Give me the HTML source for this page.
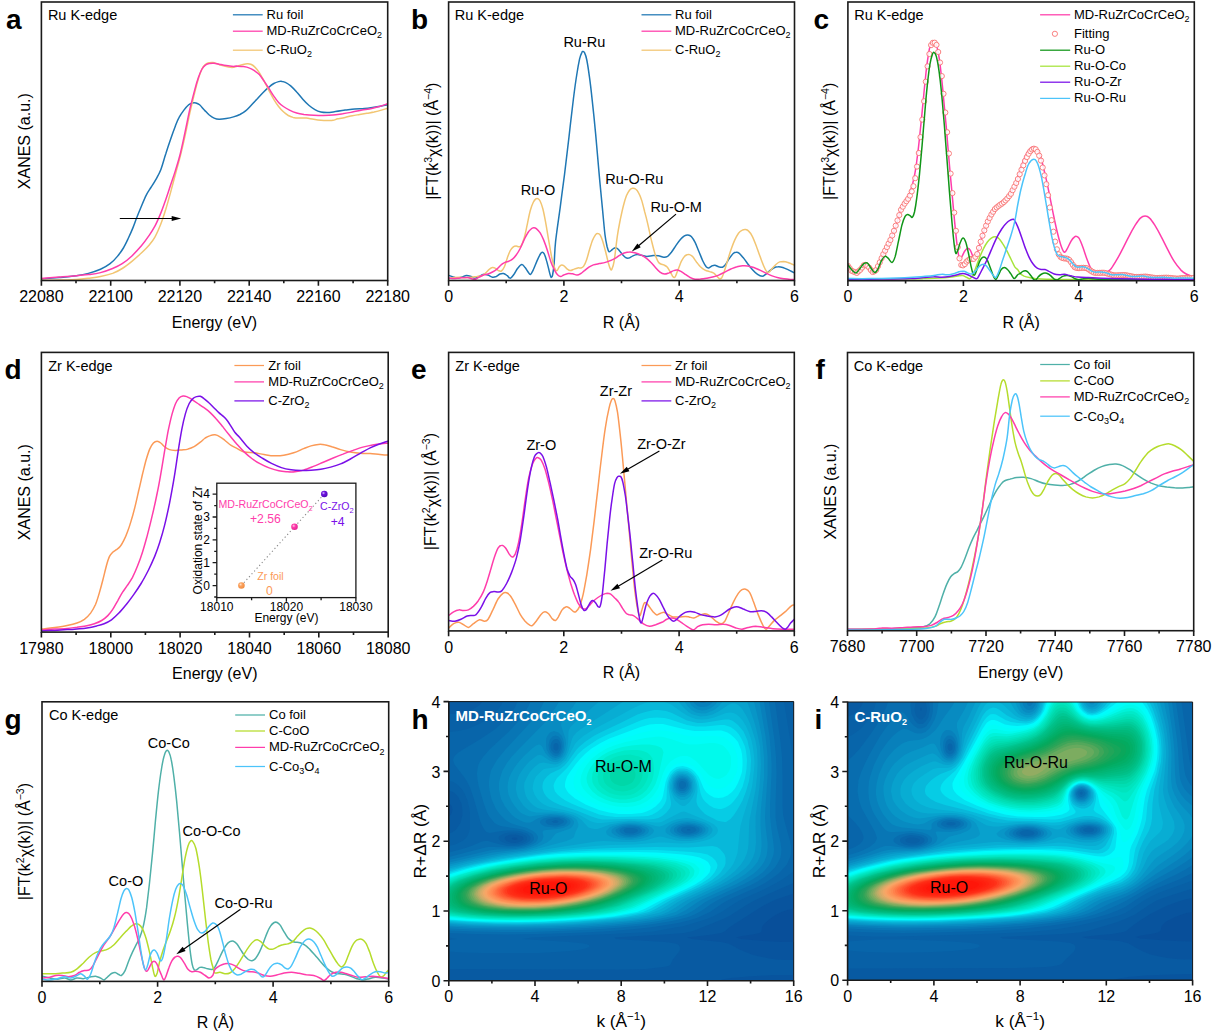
<!DOCTYPE html>
<html><head><meta charset="utf-8"><title>XAS figure</title><style>html,body{margin:0;padding:0;background:#fff;font-family:"Liberation Sans",sans-serif}svg text{font-family:"Liberation Sans",sans-serif}</style></head><body><svg width="1213" height="1034" viewBox="0 0 1213 1034" font-family="'Liberation Sans', sans-serif" style="display:block"><defs><clipPath id="cpa"><rect x="41.4" y="2.0" width="346.3" height="278.5"/></clipPath><clipPath id="cpb"><rect x="448.6" y="2.0" width="345.9" height="278.5"/></clipPath><clipPath id="cpc"><rect x="847.9" y="2.0" width="346.4" height="278.7"/></clipPath><clipPath id="cpd"><rect x="41.4" y="352.4" width="346.8" height="279.7"/></clipPath><clipPath id="cpe"><rect x="448.6" y="352.4" width="345.7" height="278.5"/></clipPath><clipPath id="cpf"><rect x="847.5" y="352.5" width="346.2" height="278.2"/></clipPath><clipPath id="cpg"><rect x="42.0" y="701.8" width="346.7" height="279.6"/></clipPath><radialGradient id="bo" cx=".38" cy=".35" r=".7"><stop offset="0" stop-color="#ffe3c8"/><stop offset=".35" stop-color="#fba25f"/><stop offset="1" stop-color="#f08a3c"/></radialGradient><radialGradient id="bp" cx=".38" cy=".35" r=".7"><stop offset="0" stop-color="#ffd0ec"/><stop offset=".35" stop-color="#ff3dab"/><stop offset="1" stop-color="#e01f90"/></radialGradient><radialGradient id="bv" cx=".38" cy=".35" r=".7"><stop offset="0" stop-color="#d9c0ff"/><stop offset=".35" stop-color="#6f14e0"/><stop offset="1" stop-color="#4a08b0"/></radialGradient></defs><rect width="1213" height="1034" fill="#fff"/><path clip-path="url(#cpa)" d="M41.2,278.9C44.2,278.7 53.5,278 59.3,277.5C65.2,277 71.4,276.5 76.3,275.8C81.1,275.1 84.3,274.5 88.4,273.4C92.4,272.3 96.8,270.9 100.5,269.3C104.1,267.7 107.3,265.8 110.1,263.7C113,261.6 115.2,259.1 117.4,256.4C119.6,253.8 121.6,251 123.4,248C125.2,245 126.7,241.7 128.3,238.3C129.9,234.9 131.7,230.9 133.1,227.4C134.5,224 135.3,221.4 136.7,217.8C138.1,214.1 140,209.5 141.6,205.7C143.2,201.8 144.8,197.9 146.4,194.8C148,191.7 149.6,189.7 151.2,187C152.9,184.4 154.5,182 156.1,179.1C157.7,176.1 159.3,173.6 160.9,169.4C162.5,165.2 164.1,158.7 165.8,153.7C167.4,148.6 169,143.8 170.6,139.2C172.2,134.5 174,129.5 175.4,125.9C176.8,122.2 177.6,120 179.1,117.4C180.5,114.8 182.3,112.2 183.9,110.1C185.5,108 187.3,106 188.7,104.8C190.1,103.6 191.1,103.2 192.4,102.9C193.6,102.6 194.8,102.6 196,102.9C197.2,103.2 198.2,103.6 199.6,104.8C201,106 202.8,108.4 204.4,110.1C206.1,111.8 207.7,113.6 209.3,115C210.9,116.3 212.5,117.4 214.1,118.1C215.7,118.8 216.9,119.2 219,119.3C221,119.4 223.8,119 226.2,118.6C228.6,118.2 231.2,117.6 233.5,116.9C235.8,116.2 237.8,115.5 239.9,114.5C242,113.4 244.1,112.1 245.9,110.6C247.8,109.2 249,107.7 250.8,105.8C252.6,103.9 254.8,101.4 256.8,99.3C258.8,97.1 260.9,94.7 262.9,92.7C264.9,90.7 267.1,88.7 268.9,87.2C270.7,85.6 272.1,84.5 273.8,83.5C275.4,82.6 277.2,82 278.6,81.6C280,81.2 281,81.2 282.2,81.4C283.4,81.5 284.4,81.8 285.9,82.6C287.3,83.3 288.9,84.4 290.7,85.9C292.5,87.5 294.7,89.8 296.7,92C298.8,94.2 300.8,97 302.8,99.3C304.8,101.5 306.8,103.6 308.8,105.3C310.8,107 312.9,108.5 314.9,109.6C316.9,110.8 318.9,111.6 320.9,112.1C322.9,112.6 324.5,112.6 327,112.6C329.4,112.5 332.4,112 335.4,111.6C338.5,111.2 341.9,110.6 345.1,110.1C348.3,109.7 351.6,109.2 354.8,108.9C358,108.6 361.2,108.7 364.4,108.4C367.7,108.2 371.3,107.6 374.1,107.2C376.9,106.8 379.1,106.4 381.4,106C383.6,105.6 386.6,105 387.7,104.8" fill="none" stroke="#1f77b4" stroke-width="1.5" stroke-linejoin="round" stroke-linecap="round"/>
<path clip-path="url(#cpa)" d="M41.2,280.1C44.2,280.1 53.5,280.3 59.3,280.1C65.2,280 71.4,279.7 76.3,279.4C81.1,279.1 84.3,278.7 88.4,278.2C92.4,277.7 96.4,277.3 100.5,276.5C104.5,275.7 108.9,274.7 112.6,273.4C116.2,272 119,270.6 122.2,268.5C125.4,266.5 128.7,263.9 131.9,261.3C135.1,258.7 138.8,255.4 141.6,252.8C144.4,250.2 146.6,248.2 148.8,245.6C151,242.9 152.9,240.7 154.9,237.1C156.9,233.5 159.1,228.4 160.9,223.8C162.7,219.2 164.1,214.5 165.8,209.3C167.4,204 169,198.2 170.6,192.4C172.2,186.5 173.8,180.3 175.4,174.2C177,168.2 178.7,162.5 180.3,156.1C181.9,149.6 183.5,142.8 185.1,135.5C186.7,128.3 188.3,119.8 189.9,112.6C191.6,105.3 193.4,97.6 194.8,92C196.2,86.4 197.2,82.5 198.4,78.7C199.6,74.9 200.8,71.4 202,69C203.2,66.6 204.4,65.2 205.7,64.2C206.9,63.1 208.1,63 209.3,62.7C210.5,62.5 211.7,62.4 212.9,62.5C214.1,62.6 215.1,63 216.5,63.5C218,63.9 219.4,64.8 221.4,65.4C223.4,66 226.6,66.8 228.6,67.1C230.6,67.4 232,67.5 233.5,67.3C234.9,67.2 236,66.6 237.5,66.1C239,65.7 240.7,65.1 242.3,64.7C243.9,64.3 245.7,63.8 247.2,63.7C248.6,63.6 249.6,63.7 250.8,64.2C252,64.7 253,65.2 254.4,66.6C255.8,68 257.6,70.2 259.3,72.6C260.9,75.1 262.5,78.2 264.1,81.1C265.7,84.1 267.3,87.3 268.9,90.3C270.5,93.3 272.1,96.5 273.8,99.3C275.4,102 277,104.4 278.6,106.5C280.2,108.6 281.8,110.3 283.4,111.8C285,113.3 286.7,114.5 288.3,115.5C289.9,116.4 291.3,116.9 293.1,117.4C294.9,117.8 296.9,118 299.2,118.1C301.4,118.2 304,117.9 306.4,118.1C308.8,118.3 311.2,119 313.7,119.3C316.1,119.7 318.5,120.1 320.9,120.3C323.3,120.5 326.2,120.5 328.2,120.5C330.2,120.5 331.4,120.6 333,120.3C334.6,120 335.8,119.3 337.8,118.8C339.9,118.4 342.7,117.9 345.1,117.4C347.5,116.9 349.9,116.2 352.4,115.7C354.8,115.2 357.2,114.9 359.6,114.5C362,114.1 364.4,113.7 366.9,113.3C369.3,112.9 371.7,112.6 374.1,112.1C376.5,111.5 379.1,110.8 381.4,110.1C383.6,109.5 386.6,108.5 387.7,108.2" fill="none" stroke="#f2c572" stroke-width="1.5" stroke-linejoin="round" stroke-linecap="round"/>
<path clip-path="url(#cpa)" d="M41.2,278.5C44.2,278.2 53.5,277.4 59.3,277C65.2,276.6 71.4,276.2 76.3,275.8C81.1,275.4 84.3,275.1 88.4,274.6C92.4,274.1 96.4,273.7 100.5,272.6C104.5,271.6 108.9,270 112.6,268.5C116.2,267 119,265.8 122.2,263.7C125.4,261.6 128.7,259 131.9,256C135.1,252.9 138.8,248.9 141.6,245.6C144.4,242.2 146.6,239.1 148.8,235.9C151,232.7 152.9,230 154.9,226.2C156.9,222.4 159.1,217.3 160.9,212.9C162.7,208.5 164.1,204.2 165.8,199.6C167.4,195 169,189.9 170.6,185.1C172.2,180.3 173.8,175.8 175.4,170.6C177,165.4 178.7,160.1 180.3,153.7C181.9,147.2 183.5,139.4 185.1,131.9C186.7,124.4 188.3,116 189.9,108.9C191.6,101.9 193.4,94.8 194.8,89.6C196.2,84.3 197.2,80.9 198.4,77.5C199.6,74.1 200.8,71.1 202,69C203.2,66.9 204.4,65.8 205.7,64.9C206.9,64 207.9,63.7 209.3,63.5C210.7,63.2 212.5,63.1 214.1,63.2C215.7,63.3 216.9,63.8 219,64.2C221,64.6 223.8,65.3 226.2,65.6C228.6,66 231.8,66.3 233.5,66.4C235.1,66.4 234.6,66.1 236.3,66.1C238,66.2 241.3,66.3 243.5,66.6C245.7,66.9 247.8,67.4 249.6,68.1C251.4,68.7 252.8,69.6 254.4,70.7C256,71.8 257.6,72.8 259.3,74.6C260.9,76.3 262.5,78.8 264.1,81.1C265.7,83.4 267.3,85.9 268.9,88.4C270.5,90.9 272.1,93.8 273.8,96.1C275.4,98.4 277,100.7 278.6,102.4C280.2,104.1 281.6,105.2 283.4,106.5C285.2,107.8 287.3,109 289.5,110.1C291.7,111.2 294.3,112.3 296.7,113C299.2,113.8 301.2,114.1 304,114.5C306.8,114.8 310.4,115.1 313.7,115.2C316.9,115.4 320.1,115.5 323.3,115.5C326.6,115.4 329.8,115.3 333,115C336.2,114.7 339.5,114.2 342.7,113.8C345.9,113.3 349.1,112.7 352.4,112.1C355.6,111.5 358.8,110.7 362,110.1C365.3,109.5 368.7,109.1 371.7,108.4C374.7,107.8 377.5,107 380.2,106.3C382.8,105.5 386.4,104.2 387.7,103.8" fill="none" stroke="#ff3dab" stroke-width="1.5" stroke-linejoin="round" stroke-linecap="round"/>
<rect x="41.4" y="2.0" width="346.3" height="278.5" fill="none" stroke="#1a1a1a" stroke-width="1.6"/>
<path d="M41.4,280.5v5.3M110.7,280.5v5.3M179.9,280.5v5.3M249.2,280.5v5.3M318.4,280.5v5.3M387.7,280.5v5.3" stroke="#1a1a1a" stroke-width="1.6" fill="none"/>
<path d="M76.0,280.5v2.8M145.3,280.5v2.8M214.6,280.5v2.8M283.8,280.5v2.8M353.1,280.5v2.8" stroke="#1a1a1a" stroke-width="1.6" fill="none"/>
<text x="41.4" y="302.2" font-size="16" text-anchor="middle" fill="#000">22080</text>
<text x="110.7" y="302.2" font-size="16" text-anchor="middle" fill="#000">22100</text>
<text x="179.9" y="302.2" font-size="16" text-anchor="middle" fill="#000">22120</text>
<text x="249.2" y="302.2" font-size="16" text-anchor="middle" fill="#000">22140</text>
<text x="318.4" y="302.2" font-size="16" text-anchor="middle" fill="#000">22160</text>
<text x="387.7" y="302.2" font-size="16" text-anchor="middle" fill="#000">22180</text>
<text x="214.5" y="327.5" font-size="16" text-anchor="middle" fill="#000">Energy (eV)</text>
<text transform="translate(29.9,141.2) rotate(-90)" font-size="16" text-anchor="middle">XANES (a.u.)</text>
<text x="6.0" y="28.7" font-size="28" text-anchor="start" fill="#000" font-weight="bold">a</text>
<text x="47.9" y="20.4" font-size="14.5" text-anchor="start" fill="#000">Ru K-edge</text>
<path d="M232.9,14.8H262.7" stroke="#1f77b4" stroke-width="1.25"/>
<text x="266.5" y="19.0" font-size="13" text-anchor="start" fill="#000">Ru foil</text>
<path d="M232.9,31.2H262.7" stroke="#ff3dab" stroke-width="1.25"/>
<text x="266.5" y="35.2" font-size="13" text-anchor="start" fill="#000">MD-RuZrCoCrCeO<tspan font-size="9" dy="3.2">2</tspan><tspan dy="-3.2" font-size="1">&#8203;</tspan></text>
<path d="M232.9,50.2H262.7" stroke="#f2c572" stroke-width="1.25"/>
<text x="266.5" y="54.2" font-size="13" text-anchor="start" fill="#000">C-RuO<tspan font-size="9" dy="3.2">2</tspan><tspan dy="-3.2" font-size="1">&#8203;</tspan></text>
<path d="M119.8,218.5L172.7,218.5" stroke="#000" stroke-width="1.2"/>
<path d="M181.2,218.5L171.7,221.1L171.7,215.9Z" fill="#000"/>
<path clip-path="url(#cpb)" d="M448.7,275.4C449.3,275.6 451.1,276.2 452.4,276.6C453.8,277.1 455.4,277.9 456.9,278C458.4,278.1 459.7,277.6 461.3,277.2C462.9,276.8 464.9,275.6 466.5,275.4C468.1,275.3 469.6,276 471,276.5C472.3,277 473.3,278.3 474.7,278.3C476,278.3 477.6,277.2 479.1,276.5C480.6,275.8 482.1,274.5 483.6,274.3C485.1,274 486.5,274.5 488,275C489.5,275.5 491.1,277 492.5,277.2C493.8,277.5 495,277 496.2,276.5C497.4,275.9 498.7,274.5 499.9,274C501.1,273.5 502.4,273.2 503.6,273.5C504.9,273.8 506.2,275 507.3,275.7C508.4,276.5 509.2,278.5 510.3,278.3C511.4,278 512.8,275.9 514,274.3C515.2,272.6 516.4,269.9 517.7,268.3C519,266.7 520.6,264.7 521.9,264.6C523.1,264.5 524.1,266.3 525.1,267.6C526.2,268.8 527.2,270.9 528.1,272C529,273.2 529.5,274.9 530.3,274.6C531.2,274.2 532.2,272.1 533.3,269.8C534.4,267.5 535.8,263.6 537,260.9C538.2,258.2 539.8,254.9 540.7,253.5C541.6,252.1 541.9,252.2 542.5,252.3C543.1,252.4 543.7,252.8 544.4,254.2C545.1,255.7 545.9,258.3 546.6,260.9C547.4,263.5 548.2,267.2 548.9,269.8C549.5,272.4 550.2,275.2 550.7,276.5C551.1,277.7 551.2,277.5 551.5,277.2C551.9,277 552.2,277.2 552.6,275C553,272.8 553.6,269.5 554.1,263.9C554.6,258.3 554.6,250.7 555.6,241.4C556.6,232.1 558.6,219.2 560.1,208.1C561.5,196.9 563,186.5 564.5,174.7C566,162.8 567.5,149.4 569,136.8C570.4,124.2 572.1,109.4 573.4,99C574.7,88.6 575.7,81.2 576.8,74.5C577.8,67.8 578.8,62.6 579.6,58.9C580.5,55.2 581.3,53.5 581.9,52.3C582.4,51 582.5,51.5 583,51.6C583.4,51.7 583.9,51.3 584.5,52.7C585.2,54.1 586,56 586.8,60C587.6,64.1 588.5,69.9 589.4,76.7C590.4,83.6 591.3,91.6 592.3,101.2C593.4,110.9 594.6,122.7 595.7,134.6C596.8,146.5 597.9,160.2 599,172.4C600.1,184.7 601.3,197.7 602.4,208.1C603.4,218.4 604.2,228.3 605,234.8C605.8,241.3 606.6,244.2 607.2,247C607.9,249.8 608.3,251.1 609,251.7C609.6,252.3 610.5,251 611.2,250.5C611.9,250 612.7,249 613.4,248.6C614.2,248.1 614.9,247.8 615.6,247.8C616.4,247.9 616.8,248 617.9,249C618.9,250 620.6,252.4 621.9,253.8C623.2,255.2 624.5,256.9 625.7,257.6C626.8,258.3 627.6,258.3 628.7,258.1C629.9,257.8 631.1,256.7 632.5,256.1C633.9,255.5 635.6,254.7 637.1,254.6C638.6,254.4 640,255 641.7,255.3C643.3,255.6 645.1,256.4 647,256.4C648.9,256.4 651.2,255.6 653.1,255.5C655,255.4 656.7,255.5 658.5,255.8C660.2,256.1 662.3,257.2 663.8,257.3C665.3,257.4 666.3,257.2 667.6,256.4C668.9,255.5 670,254.1 671.4,252.3C672.8,250.4 674.5,247.6 676,245.4C677.5,243.2 679.2,240.9 680.6,239.3C682,237.7 683.2,236.7 684.4,235.9C685.6,235.2 686.8,234.9 687.9,235C689,235.1 690.1,235.3 691.3,236.6C692.4,237.8 693.8,239.9 695.1,242.4C696.3,244.8 697.6,248.5 698.9,251.5C700.2,254.6 701.5,258.1 702.7,260.7C703.9,263.2 705.2,265.5 706.2,266.8C707.2,268 707.9,268.1 708.8,268C709.7,267.8 710.8,266.5 711.8,266C712.9,265.5 713.7,265.1 714.9,265.2C716,265.4 717.4,266.4 718.7,266.8C720,267.1 721.4,267.6 722.5,267.2C723.7,266.8 724.4,265.9 725.6,264.5C726.7,263 728.1,260.2 729.4,258.4C730.7,256.5 732.1,254.5 733.2,253.5C734.3,252.5 735.2,252.3 736.2,252.3C737.3,252.2 738.2,252.4 739.3,253.3C740.4,254.2 741.7,255.9 743.1,257.6C744.5,259.3 746.2,261.7 747.7,263.7C749.2,265.7 750.6,267.7 752.3,269.5C753.9,271.3 755.9,273.3 757.6,274.4C759.2,275.5 760.9,276.2 762.2,276.2C763.4,276.3 764.1,275.5 765.2,274.7C766.4,273.9 767.6,272.4 769,271.3C770.4,270.2 772.1,268.7 773.6,268C775.1,267.2 776.7,266.8 778.2,266.8C779.7,266.7 781,267 782.8,267.5C784.5,268.1 786.8,269.2 788.9,270.1C790.9,271.1 793.9,272.7 795,273.2" fill="none" stroke="#1f77b4" stroke-width="1.5" stroke-linejoin="round" stroke-linecap="round"/>
<path clip-path="url(#cpb)" d="M448.7,278.7C449.6,278.5 452,277.8 453.9,277.5C455.8,277.3 457.9,277.2 459.8,277.2C461.8,277.3 463.8,277.7 465.8,277.7C467.8,277.7 469.9,277.4 471.7,277.2C473.6,277 475.2,276.7 476.9,276.5C478.6,276.2 480.6,276.4 482.1,275.7C483.6,275.1 484.6,273.9 485.8,272.8C487,271.7 488.4,269.9 489.5,269.1C490.6,268.2 491.5,267.7 492.5,267.6C493.5,267.5 494.5,267.8 495.5,268.3C496.4,268.8 497.4,270.1 498.4,270.6C499.4,271 500.4,271.6 501.4,271C502.4,270.4 503.4,269 504.4,266.8C505.3,264.7 506.3,260.7 507.3,257.9C508.3,255.2 509.3,252.4 510.3,250.5C511.3,248.7 512.3,247.6 513.3,246.8C514.2,246.1 515.2,246.1 516.2,246.1C517.2,246.1 518.3,246.9 519.2,246.8C520.1,246.7 520.6,246.9 521.4,245.3C522.3,243.7 523.4,240.7 524.4,237.2C525.4,233.6 526.4,228.3 527.4,223.8C528.3,219.4 529.3,214 530.3,210.5C531.3,206.9 532.4,204.2 533.3,202.3C534.2,200.4 535.1,199.5 535.8,198.9C536.6,198.3 537.1,198.3 537.7,198.6C538.4,198.9 539.1,199.1 540,200.8C540.8,202.5 541.9,205.1 542.9,209C543.9,212.8 544.9,218.4 545.9,223.8C546.9,229.2 547.9,235.9 548.9,241.6C549.9,247.3 550.9,253.5 551.8,257.9C552.8,262.4 553.9,266.2 554.8,268.3C555.7,270.4 556.3,270.8 557,270.6C557.8,270.3 558.5,267.8 559.3,266.8C560,265.9 560.7,265.3 561.5,265.1C562.2,264.9 562.8,265.1 563.7,265.7C564.6,266.2 565.6,267.8 566.7,268.6C567.8,269.4 569.2,270.5 570.4,270.6C571.6,270.6 572.9,269.5 574.1,269.1C575.3,268.6 576.7,268.1 577.8,267.9C578.9,267.7 579.8,268.3 580.8,268C581.8,267.7 582.8,267.5 583.7,266.1C584.7,264.7 585.7,262.3 586.7,259.4C587.7,256.6 588.7,252.2 589.7,249C590.7,245.8 591.7,242.5 592.6,240.1C593.6,237.7 594.8,235.8 595.6,234.6C596.5,233.5 597.1,233.4 597.8,233.5C598.6,233.5 599.3,233.8 600.1,234.9C600.8,236 601.4,237.5 602.3,240.1C603.2,242.7 604.3,246.8 605.3,250.5C606.3,254.2 607.4,259.3 608.2,262.4C609.1,265.5 609.8,268 610.5,269.1C611.1,270.2 611.3,270.4 611.9,269.1C612.6,267.7 613.3,266.4 614.2,260.9C615.1,255.4 616.3,243.2 617.3,236.3C618.3,229.3 619.3,224.6 620.3,219.5C621.4,214.4 622.4,209.7 623.4,205.8C624.4,201.8 625.4,198.4 626.4,195.8C627.5,193.2 628.5,191.5 629.5,190.2C630.5,188.9 631.5,188.4 632.5,188.2C633.6,188 634.6,188.2 635.6,189C636.6,189.7 637.6,190.9 638.6,192.8C639.7,194.7 640.7,197.2 641.7,200.4C642.7,203.6 643.7,207.9 644.7,211.9C645.8,215.8 646.8,219.7 647.8,224.1C648.8,228.4 649.8,233.5 650.8,237.8C651.9,242.1 653,246.7 653.9,250C654.8,253.3 655.4,255.6 656.2,257.6C656.9,259.6 657.7,261.1 658.5,262.2C659.2,263.2 659.9,263.6 660.8,264C661.6,264.5 662.8,264.5 663.8,264.9C664.8,265.4 665.8,265.7 666.9,266.8C667.9,267.8 668.9,269.8 669.9,271.3C670.9,272.9 671.9,275.2 672.6,276.2C673.4,277.2 673.9,277.6 674.5,277.4C675,277.3 675.4,276.5 676,275.1C676.6,273.7 677.4,271.3 678.3,269C679.2,266.8 680.3,263.5 681.3,261.4C682.4,259.3 683.4,257.5 684.4,256.4C685.4,255.2 686.6,254.9 687.4,254.6C688.3,254.3 688.8,254.2 689.7,254.6C690.6,254.9 691.6,255.6 692.8,256.8C693.9,258.1 695.3,260.5 696.6,262.2C697.9,263.8 699,265.4 700.4,266.8C701.8,268.1 703.5,269.3 705,270.1C706.5,270.9 708.2,271.2 709.6,271.6C711,272.1 712.2,272.2 713.4,272.9C714.5,273.5 715.4,274.6 716.4,275.6C717.4,276.6 718.6,278.3 719.5,278.7C720.4,279 721,278.8 721.8,277.7C722.5,276.6 723.2,274.7 724,272.1C724.9,269.5 726,265.9 727.1,262.2C728.2,258.5 729.6,253.7 730.9,250C732.2,246.3 733.4,242.9 734.7,240.1C736,237.3 737.3,234.9 738.5,233.2C739.8,231.6 741.2,230.8 742.3,230.2C743.5,229.5 744.4,229.4 745.4,229.5C746.4,229.7 747.3,229.8 748.4,230.9C749.6,232 751,233.8 752.3,236.3C753.5,238.7 754.8,242.1 756.1,245.4C757.3,248.7 758.6,252.6 759.9,256.1C761.2,259.5 762.6,263.4 763.7,266C764.8,268.6 765.9,270.6 766.7,271.6C767.6,272.7 768.1,272.6 769,272.1C769.9,271.6 770.9,269.9 772.1,268.6C773.2,267.3 774.6,265.6 775.9,264.5C777.2,263.4 778.4,262.4 779.7,261.9C781,261.4 782.3,261.4 783.5,261.4C784.8,261.5 786.1,261.8 787.3,262.2C788.6,262.6 789.9,263.1 791.1,263.7C792.4,264.3 794.3,265.2 795,265.5" fill="none" stroke="#f2c572" stroke-width="1.5" stroke-linejoin="round" stroke-linecap="round"/>
<path clip-path="url(#cpb)" d="M448.7,278C449.6,278 452,278.4 453.9,278.4C455.8,278.4 457.6,278.1 459.8,278C462.1,277.8 465.3,277.4 467.3,277.5C469.2,277.6 470.3,278.4 471.7,278.7C473.1,279 474.2,279.4 475.4,279.2C476.7,278.9 477.8,277.9 479.1,277.2C480.5,276.5 482.1,275.5 483.6,275C485.1,274.5 486.5,274.5 488,274C489.5,273.5 491,272.9 492.5,272C494,271.2 495.5,270.3 496.9,269.1C498.4,267.8 500,265.7 501.4,264.6C502.7,263.5 503.9,263 505.1,262.4C506.3,261.8 507.6,261.7 508.8,261.2C510,260.7 511.3,260.2 512.5,259.1C513.8,258.1 515,256.7 516.2,255C517.5,253.3 518.7,251.4 519.9,249C521.2,246.7 522.4,243.5 523.6,240.9C524.9,238.3 526.1,235.4 527.4,233.5C528.6,231.5 530,229.9 531.1,229C532.1,228.1 532.7,227.9 533.6,227.8C534.5,227.7 535.2,227.7 536.3,228.6C537.3,229.4 538.7,230.8 540,232.7C541.2,234.6 542.4,237.2 543.7,240.1C544.9,243.1 546.2,246.8 547.4,250.5C548.6,254.2 549.9,259.1 551.1,262.4C552.3,265.7 553.7,268.4 554.8,270.6C555.9,272.7 556.8,274 557.8,275C558.8,276 559.8,276.5 560.7,276.5C561.7,276.5 562.5,275.5 563.7,275C564.9,274.5 566.7,273.7 568.2,273.5C569.6,273.3 571.1,273.6 572.6,273.8C574.1,274.1 575.7,275.1 577.1,275C578.4,275 579.5,274.3 580.8,273.5C582,272.8 583.1,271.6 584.5,270.6C585.8,269.5 587.5,268.1 588.9,267.1C590.4,266.2 591.7,265.5 593.4,264.9C595.1,264.3 597.3,264 599.3,263.6C601.3,263.2 603.3,263 605.3,262.4C607.2,261.8 609.6,260.8 611.2,260.2C612.8,259.5 613.6,259.2 615,258.4C616.4,257.6 618.1,256.2 619.6,255.3C621.1,254.4 622.5,253.6 624.2,253C625.8,252.5 627.7,252 629.5,252C631.3,251.9 633,252.3 634.8,252.7C636.6,253.2 638.4,253.7 640.2,254.6C641.9,255.4 643.7,256.3 645.5,257.6C647.3,258.9 649.2,260.5 650.8,262.2C652.5,263.8 653.9,265.9 655.4,267.5C656.9,269.2 658.5,271 660,272.1C661.5,273.2 663,273.9 664.6,274.1C666.1,274.2 667.6,273.4 669.1,272.9C670.7,272.3 672.3,271 673.7,270.6C675.1,270.1 676.3,269.9 677.5,270.1C678.8,270.3 679.9,270.9 681.3,271.6C682.7,272.4 684.4,273.7 685.9,274.7C687.4,275.7 689,277 690.5,277.7C692,278.5 693.4,279.1 695.1,279.3C696.7,279.5 698.5,279.1 700.4,279C702.3,278.8 704.5,278.5 706.5,278.2C708.5,277.9 710.6,277.6 712.6,277.1C714.6,276.6 716.7,276 718.7,275.1C720.7,274.3 722.8,273.1 724.8,272.1C726.8,271.1 728.9,269.9 730.9,269C732.9,268.2 735,267.3 737,266.8C739,266.2 741.3,266 743.1,265.8C744.9,265.7 745.9,265.7 747.7,266C749.5,266.3 751.7,266.8 753.8,267.5C755.8,268.2 757.8,269.2 759.9,270.1C761.9,271.1 764,272.2 766,273.2C768,274.1 770.1,275.1 772.1,275.9C774.1,276.7 776.2,277.3 778.2,277.7C780.2,278.2 782.3,278.5 784.3,278.8C786.3,279.1 788.6,279.3 790.4,279.4C792.2,279.5 794.2,279.5 795,279.6" fill="none" stroke="#ff3dab" stroke-width="1.5" stroke-linejoin="round" stroke-linecap="round"/>
<rect x="448.6" y="2.0" width="345.9" height="278.5" fill="none" stroke="#1a1a1a" stroke-width="1.6"/>
<path d="M448.6,280.5v5.3M563.9,280.5v5.3M679.2,280.5v5.3M794.5,280.5v5.3" stroke="#1a1a1a" stroke-width="1.6" fill="none"/>
<path d="M506.2,280.5v2.8M621.5,280.5v2.8M736.9,280.5v2.8" stroke="#1a1a1a" stroke-width="1.6" fill="none"/>
<text x="448.6" y="302.2" font-size="16" text-anchor="middle" fill="#000">0</text>
<text x="563.9" y="302.2" font-size="16" text-anchor="middle" fill="#000">2</text>
<text x="679.2" y="302.2" font-size="16" text-anchor="middle" fill="#000">4</text>
<text x="794.5" y="302.2" font-size="16" text-anchor="middle" fill="#000">6</text>
<text x="621.5" y="327.5" font-size="16" text-anchor="middle" fill="#000">R (&#197;)</text>
<text transform="translate(437.5,141.2) rotate(-90)" font-size="16" text-anchor="middle">|FT(k<tspan font-size="10.5" dy="-5.8">3</tspan><tspan dy="5.8" font-size="1">&#8203;</tspan><tspan dy="1.8">&#967;</tspan><tspan dy="-1.8">(</tspan>k))| (&#197;<tspan font-size="10.5" dy="-5.8">&#8722;4</tspan><tspan dy="5.8" font-size="1">&#8203;</tspan>)</text>
<text x="411.0" y="28.7" font-size="28" text-anchor="start" fill="#000" font-weight="bold">b</text>
<text x="454.8" y="20.4" font-size="14.5" text-anchor="start" fill="#000">Ru K-edge</text>
<path d="M641.5,14.8H671.3" stroke="#1f77b4" stroke-width="1.25"/>
<text x="675.0" y="19.0" font-size="13" text-anchor="start" fill="#000">Ru foil</text>
<path d="M641.5,31.2H671.3" stroke="#ff3dab" stroke-width="1.25"/>
<text x="675.0" y="35.2" font-size="13" text-anchor="start" fill="#000">MD-RuZrCoCrCeO<tspan font-size="9" dy="3.2">2</tspan><tspan dy="-3.2" font-size="1">&#8203;</tspan></text>
<path d="M641.5,50.2H671.3" stroke="#f2c572" stroke-width="1.25"/>
<text x="675.0" y="54.2" font-size="13" text-anchor="start" fill="#000">C-RuO<tspan font-size="9" dy="3.2">2</tspan><tspan dy="-3.2" font-size="1">&#8203;</tspan></text>
<text x="563.4" y="47.4" font-size="14.5" text-anchor="start" fill="#000">Ru-Ru</text>
<text x="520.7" y="194.9" font-size="14.5" text-anchor="start" fill="#000">Ru-O</text>
<text x="605.2" y="184.3" font-size="14.5" text-anchor="start" fill="#000">Ru-O-Ru</text>
<text x="650.4" y="211.9" font-size="14.5" text-anchor="start" fill="#000">Ru-O-M</text>
<path d="M676.0,214.1L638.3,246.0" stroke="#000" stroke-width="1.2"/>
<path d="M631.8,251.5L637.4,243.4L640.7,247.3Z" fill="#000"/>
<path clip-path="url(#cpc)" d="M847.6,265.6C848.3,266.4 850,269.6 851.5,270.8C853.1,272 855.2,273.1 856.8,272.9C858.3,272.7 859.4,270.9 860.7,269.5C862,268 863.3,264.7 864.6,264.3C865.9,263.8 867.2,265.6 868.5,266.9C869.8,268.2 871.2,271.4 872.4,272.1C873.6,272.7 874.7,272.1 875.8,270.8C876.9,269.5 877.8,266.9 879,264.3C880.1,261.6 881.6,257.9 882.9,255.1C884.2,252.3 885.5,249.9 886.8,247.3C888.1,244.7 889.4,242.5 890.7,239.4C892,236.4 893.3,232.7 894.6,229C895.9,225.3 897.5,220.6 898.6,217.2C899.6,213.8 900.1,211.2 901.2,208.6C902.3,206 903.8,203.9 905.1,201.6C906.4,199.2 907.8,197.3 909,194.5C910.2,191.7 911.4,188.2 912.4,184.6C913.4,181 914.1,177.8 915,172.8C915.9,167.8 916.8,161.5 917.6,154.5C918.5,147.6 919.4,139.3 920.2,131C921.1,122.8 922,113.8 922.8,104.9C923.7,96 924.6,85.5 925.5,77.5C926.3,69.4 927.2,62.1 928.1,56.6C928.9,51 929.8,46.6 930.7,44C931.6,41.4 932.4,40.9 933.3,40.9C934.2,40.9 935,41.9 935.9,44C936.8,46.2 937.7,49 938.5,54C939.4,58.9 940.3,65.9 941.1,73.6C942,81.2 942.9,90.5 943.7,99.7C944.6,108.8 945.5,118.4 946.4,128.4C947.2,138.4 948.1,149.7 949,159.8C949.8,169.8 950.7,178.9 951.6,188.5C952.5,198.1 953.4,209 954.2,217.2C955,225.5 955.6,232.3 956.3,238.1C956.9,244 957.5,249 958.1,252.5C958.7,256 959.3,258.4 959.9,259C960.6,259.7 961.2,257.7 962,256.4C962.8,255.1 963.7,252.5 964.6,251.2C965.6,249.8 966.8,248.4 967.8,248.3C968.7,248.2 969.5,249.1 970.4,250.4C971.3,251.8 972.1,255.2 973,256.4C973.9,257.6 974.7,258.8 975.6,257.7C976.5,256.6 977.4,252.7 978.2,249.9C979.1,247.1 980,243.7 980.8,240.7C981.7,237.8 982.6,234.7 983.5,232.1C984.3,229.5 985,227.7 986.1,225.1C987.2,222.5 988.7,218.9 990,216.4C991.3,214 992.6,211.9 993.9,210.2C995.2,208.4 996.5,207.2 997.8,206C999.1,204.8 1000.4,203.9 1001.7,202.9C1003,201.8 1004.4,201 1005.7,199.7C1007,198.4 1008.3,197 1009.6,195C1010.9,193.1 1012.6,189.3 1013.5,188C1014.4,186.7 1014.1,189.5 1015,187.2C1015.9,184.9 1017.6,178.3 1018.9,174.2C1020.2,170 1021.5,165.9 1022.8,162.4C1024.1,158.9 1025.5,155.7 1026.8,153.3C1028.1,150.9 1029.5,149.1 1030.7,148C1031.9,146.9 1032.7,146.5 1033.8,146.7C1034.9,146.9 1036,147.4 1037.2,149.3C1038.4,151.3 1039.8,154.4 1041.1,158.5C1042.4,162.6 1043.7,168.5 1045,174.2C1046.4,179.8 1047.7,186.1 1049,192.5C1050.3,198.8 1051.6,205.7 1052.9,212.1C1054.2,218.4 1055.5,224.9 1056.8,230.3C1058.1,235.8 1059.5,241.1 1060.7,244.7C1061.9,248.3 1063,251.4 1064.1,252C1065.2,252.7 1066.1,250.5 1067.3,248.6C1068.4,246.8 1070,242.8 1071.2,240.8C1072.4,238.8 1073.7,237.6 1074.6,236.9C1075.4,236.1 1075.7,236.1 1076.4,236.4C1077.1,236.6 1077.9,236.4 1079,238.2C1080.1,240 1081.6,243.8 1082.9,247.3C1084.2,250.8 1085.6,255.6 1086.9,259.1C1088.2,262.6 1089.5,266.1 1090.8,268.2C1092.1,270.4 1093.2,271.4 1094.7,272.2C1096.2,272.9 1098.2,272.8 1099.9,272.9C1101.7,273.1 1103.4,273.5 1105.1,272.9C1106.9,272.4 1108.6,271.4 1110.4,269.5C1112.1,267.7 1113.6,265 1115.6,261.7C1117.6,258.4 1120,254.1 1122.1,249.9C1124.3,245.8 1126.5,241 1128.7,236.9C1130.8,232.7 1133.2,228.3 1135.2,225.1C1137.2,222 1138.8,219.6 1140.4,218.1C1142.1,216.5 1143.6,216 1145.1,216C1146.7,216 1148,216.5 1149.6,218.1C1151.2,219.6 1152.8,222 1154.8,225.1C1156.8,228.3 1159.2,232.7 1161.3,236.9C1163.5,241 1165.7,245.8 1167.9,249.9C1170,254.1 1172.2,258.4 1174.4,261.7C1176.6,265.1 1179,268 1180.9,270.1C1182.9,272.1 1184.4,273 1186.2,274C1187.9,275 1190,275.6 1191.4,276.1C1192.7,276.5 1193.8,276.5 1194.3,276.6" fill="none" stroke="#ff3dab" stroke-width="1.5" stroke-linejoin="round" stroke-linecap="round"/>
<g clip-path="url(#cpc)" fill="#fff" fill-opacity="0.85" stroke="#f87272" stroke-width="0.9"><circle cx="847.9" cy="265.9" r="2.6"/><circle cx="849.7" cy="268.3" r="2.6"/><circle cx="851.4" cy="270.7" r="2.6"/><circle cx="853.2" cy="271.5" r="2.6"/><circle cx="855.0" cy="272.2" r="2.6"/><circle cx="856.8" cy="272.9" r="2.6"/><circle cx="858.5" cy="271.3" r="2.6"/><circle cx="860.3" cy="269.8" r="2.6"/><circle cx="862.1" cy="267.6" r="2.6"/><circle cx="863.8" cy="265.3" r="2.6"/><circle cx="865.6" cy="264.9" r="2.6"/><circle cx="867.4" cy="266.1" r="2.6"/><circle cx="869.2" cy="267.7" r="2.6"/><circle cx="870.9" cy="270.1" r="2.6"/><circle cx="872.7" cy="272.0" r="2.6"/><circle cx="874.5" cy="271.3" r="2.6"/><circle cx="876.2" cy="269.9" r="2.6"/><circle cx="878.0" cy="266.2" r="2.6"/><circle cx="879.8" cy="262.3" r="2.6"/><circle cx="881.6" cy="258.2" r="2.6"/><circle cx="883.3" cy="254.2" r="2.6"/><circle cx="885.1" cy="250.7" r="2.6"/><circle cx="886.9" cy="247.1" r="2.6"/><circle cx="888.6" cy="243.6" r="2.6"/><circle cx="890.4" cy="240.0" r="2.6"/><circle cx="892.2" cy="235.5" r="2.6"/><circle cx="894.0" cy="230.8" r="2.6"/><circle cx="895.7" cy="225.7" r="2.6"/><circle cx="897.5" cy="220.4" r="2.6"/><circle cx="899.3" cy="215.1" r="2.6"/><circle cx="901.0" cy="209.8" r="2.6"/><circle cx="902.8" cy="206.7" r="2.6"/><circle cx="904.6" cy="203.7" r="2.6"/><circle cx="906.4" cy="201.2" r="2.6"/><circle cx="908.1" cy="198.8" r="2.6"/><circle cx="909.9" cy="195.6" r="2.6"/><circle cx="911.7" cy="191.4" r="2.6"/><circle cx="913.4" cy="186.2" r="2.6"/><circle cx="915.2" cy="178.2" r="2.6"/><circle cx="917.0" cy="166.6" r="2.6"/><circle cx="918.8" cy="153.0" r="2.6"/><circle cx="920.5" cy="137.1" r="2.6"/><circle cx="922.3" cy="119.6" r="2.6"/><circle cx="924.1" cy="101.2" r="2.6"/><circle cx="925.8" cy="81.7" r="2.6"/><circle cx="927.6" cy="66.3" r="2.6"/><circle cx="929.4" cy="54.0" r="2.6"/><circle cx="931.1" cy="45.1" r="2.6"/><circle cx="932.9" cy="42.8" r="2.6"/><circle cx="934.7" cy="42.7" r="2.6"/><circle cx="936.5" cy="44.9" r="2.6"/><circle cx="938.2" cy="52.0" r="2.6"/><circle cx="940.0" cy="62.5" r="2.6"/><circle cx="941.8" cy="76.1" r="2.6"/><circle cx="943.5" cy="93.8" r="2.6"/><circle cx="945.3" cy="112.5" r="2.6"/><circle cx="947.1" cy="132.2" r="2.6"/><circle cx="948.9" cy="153.5" r="2.6"/><circle cx="950.6" cy="173.6" r="2.6"/><circle cx="952.4" cy="193.1" r="2.6"/><circle cx="954.2" cy="212.6" r="2.6"/><circle cx="955.9" cy="230.8" r="2.6"/><circle cx="957.7" cy="247.2" r="2.6"/><circle cx="959.5" cy="258.4" r="2.6"/><circle cx="961.3" cy="265.0" r="2.6"/><circle cx="963.0" cy="265.4" r="2.6"/><circle cx="964.8" cy="264.1" r="2.6"/><circle cx="966.6" cy="261.6" r="2.6"/><circle cx="968.3" cy="260.2" r="2.6"/><circle cx="970.1" cy="259.0" r="2.6"/><circle cx="971.9" cy="259.0" r="2.6"/><circle cx="973.7" cy="258.9" r="2.6"/><circle cx="975.4" cy="256.8" r="2.6"/><circle cx="977.2" cy="254.1" r="2.6"/><circle cx="979.0" cy="247.9" r="2.6"/><circle cx="980.7" cy="241.7" r="2.6"/><circle cx="982.5" cy="235.7" r="2.6"/><circle cx="984.3" cy="230.4" r="2.6"/><circle cx="986.1" cy="225.7" r="2.6"/><circle cx="987.8" cy="221.5" r="2.6"/><circle cx="989.6" cy="218.0" r="2.6"/><circle cx="991.4" cy="214.5" r="2.6"/><circle cx="993.1" cy="211.8" r="2.6"/><circle cx="994.9" cy="209.1" r="2.6"/><circle cx="996.7" cy="207.4" r="2.6"/><circle cx="998.5" cy="206.0" r="2.6"/><circle cx="1000.2" cy="204.7" r="2.6"/><circle cx="1002.0" cy="203.6" r="2.6"/><circle cx="1003.8" cy="202.1" r="2.6"/><circle cx="1005.5" cy="200.4" r="2.6"/><circle cx="1007.3" cy="198.5" r="2.6"/><circle cx="1009.1" cy="196.1" r="2.6"/><circle cx="1010.9" cy="193.8" r="2.6"/><circle cx="1012.6" cy="190.2" r="2.6"/><circle cx="1014.4" cy="186.7" r="2.6"/><circle cx="1016.2" cy="183.0" r="2.6"/><circle cx="1017.9" cy="179.0" r="2.6"/><circle cx="1019.7" cy="174.2" r="2.6"/><circle cx="1021.5" cy="169.7" r="2.6"/><circle cx="1023.3" cy="165.3" r="2.6"/><circle cx="1025.0" cy="160.9" r="2.6"/><circle cx="1026.8" cy="157.1" r="2.6"/><circle cx="1028.6" cy="153.8" r="2.6"/><circle cx="1030.3" cy="151.2" r="2.6"/><circle cx="1032.1" cy="149.5" r="2.6"/><circle cx="1033.9" cy="148.7" r="2.6"/><circle cx="1035.7" cy="149.3" r="2.6"/><circle cx="1037.4" cy="151.9" r="2.6"/><circle cx="1039.2" cy="155.7" r="2.6"/><circle cx="1041.0" cy="160.6" r="2.6"/><circle cx="1042.7" cy="167.5" r="2.6"/><circle cx="1044.5" cy="175.4" r="2.6"/><circle cx="1046.3" cy="184.2" r="2.6"/><circle cx="1048.1" cy="195.2" r="2.6"/><circle cx="1049.8" cy="207.5" r="2.6"/><circle cx="1051.6" cy="220.2" r="2.6"/><circle cx="1053.4" cy="231.7" r="2.6"/><circle cx="1055.1" cy="241.6" r="2.6"/><circle cx="1056.9" cy="249.3" r="2.6"/><circle cx="1058.7" cy="254.3" r="2.6"/><circle cx="1060.5" cy="256.9" r="2.6"/><circle cx="1062.2" cy="257.9" r="2.6"/><circle cx="1064.0" cy="258.4" r="2.6"/><circle cx="1065.8" cy="258.5" r="2.6"/><circle cx="1067.5" cy="258.8" r="2.6"/><circle cx="1069.3" cy="260.0" r="2.6"/><circle cx="1071.1" cy="262.2" r="2.6"/><circle cx="1072.8" cy="264.8" r="2.6"/><circle cx="1074.6" cy="267.1" r="2.6"/><circle cx="1076.4" cy="267.9" r="2.6"/><circle cx="1078.2" cy="268.1" r="2.6"/><circle cx="1079.9" cy="268.1" r="2.6"/><circle cx="1081.7" cy="267.9" r="2.6"/><circle cx="1083.5" cy="267.8" r="2.6"/><circle cx="1085.2" cy="268.0" r="2.6"/><circle cx="1087.0" cy="268.3" r="2.6"/><circle cx="1088.8" cy="269.5" r="2.6"/><circle cx="1090.6" cy="270.7" r="2.6"/><circle cx="1092.3" cy="271.7" r="2.6"/><circle cx="1094.1" cy="272.6" r="2.6"/><circle cx="1095.9" cy="272.9" r="2.6"/><circle cx="1097.6" cy="272.9" r="2.6"/><circle cx="1099.4" cy="272.9" r="2.6"/><circle cx="1101.2" cy="272.8" r="2.6"/><circle cx="1103.0" cy="272.7" r="2.6"/><circle cx="1104.7" cy="272.9" r="2.6"/><circle cx="1106.5" cy="273.3" r="2.6"/><circle cx="1108.3" cy="273.8" r="2.6"/><circle cx="1110.0" cy="274.3" r="2.6"/><circle cx="1111.8" cy="274.8" r="2.6"/><circle cx="1113.6" cy="275.3" r="2.6"/><circle cx="1115.4" cy="275.5" r="2.6"/><circle cx="1117.1" cy="275.4" r="2.6"/><circle cx="1118.9" cy="275.3" r="2.6"/><circle cx="1120.7" cy="275.2" r="2.6"/><circle cx="1122.4" cy="275.1" r="2.6"/><circle cx="1124.2" cy="275.1" r="2.6"/><circle cx="1126.0" cy="275.3" r="2.6"/><circle cx="1127.8" cy="275.6" r="2.6"/><circle cx="1129.5" cy="276.0" r="2.6"/><circle cx="1131.3" cy="276.3" r="2.6"/><circle cx="1133.1" cy="276.7" r="2.6"/><circle cx="1134.8" cy="277.0" r="2.6"/><circle cx="1136.6" cy="277.0" r="2.6"/><circle cx="1138.4" cy="277.0" r="2.6"/><circle cx="1140.2" cy="276.9" r="2.6"/><circle cx="1141.9" cy="276.8" r="2.6"/><circle cx="1143.7" cy="276.7" r="2.6"/><circle cx="1145.5" cy="276.6" r="2.6"/><circle cx="1147.2" cy="276.8" r="2.6"/><circle cx="1149.0" cy="277.1" r="2.6"/><circle cx="1150.8" cy="277.4" r="2.6"/><circle cx="1152.6" cy="277.6" r="2.6"/><circle cx="1154.3" cy="277.9" r="2.6"/><circle cx="1156.1" cy="278.2" r="2.6"/><circle cx="1157.9" cy="278.1" r="2.6"/><circle cx="1159.6" cy="278.0" r="2.6"/><circle cx="1161.4" cy="277.9" r="2.6"/><circle cx="1163.2" cy="277.8" r="2.6"/><circle cx="1165.0" cy="277.7" r="2.6"/><circle cx="1166.7" cy="277.7" r="2.6"/><circle cx="1168.5" cy="277.8" r="2.6"/><circle cx="1170.3" cy="278.0" r="2.6"/><circle cx="1172.0" cy="278.2" r="2.6"/><circle cx="1173.8" cy="278.4" r="2.6"/><circle cx="1175.6" cy="278.5" r="2.6"/><circle cx="1177.4" cy="278.7" r="2.6"/><circle cx="1179.1" cy="278.5" r="2.6"/><circle cx="1180.9" cy="278.3" r="2.6"/><circle cx="1182.7" cy="278.1" r="2.6"/><circle cx="1184.4" cy="278.1" r="2.6"/><circle cx="1186.2" cy="278.0" r="2.6"/><circle cx="1188.0" cy="277.9" r="2.6"/><circle cx="1189.8" cy="278.0" r="2.6"/><circle cx="1191.5" cy="278.1" r="2.6"/><circle cx="1193.3" cy="278.1" r="2.6"/></g>
<path clip-path="url(#cpc)" d="M847.6,279.4C855.9,279.4 884.6,279.3 897.2,279.1C909.9,279 916.4,278.8 923.4,278.6C930.3,278.4 934.7,278.3 939,278.1C943.4,277.9 946.4,277.7 949.5,277.3C952.5,277 955.2,276.3 957.3,276C959.5,275.7 961,275.3 962.6,275.5C964.1,275.7 965.3,276.8 966.5,277.3C967.7,277.8 968.8,279.1 969.9,278.6C971,278.2 972,276.4 973,274.7C974,273 974.5,271 975.6,268.2C976.7,265.3 978.2,261 979.5,257.7C980.8,254.5 982.1,251.2 983.5,248.6C984.8,246 986.1,243.8 987.4,242C988.7,240.3 990,239 991.3,238.1C992.6,237.3 993.9,236.7 995.2,236.8C996.5,236.9 997.8,237.4 999.1,238.7C1000.4,239.9 1001.7,242 1003,244.1C1004.4,246.2 1005.7,248.7 1007,251.2C1008.3,253.7 1009.6,256.4 1010.9,259C1012.2,261.6 1013.7,265.1 1014.8,266.9C1015.9,268.6 1016.7,268.4 1017.6,269.5C1018.5,270.6 1019.1,272.4 1020.2,273.5C1021.3,274.6 1022.6,275.4 1024.1,276.1C1025.7,276.8 1027.4,277.2 1029.4,277.6C1031.3,278.1 1033.1,278.4 1035.9,278.7C1038.7,278.9 1041.1,279.1 1046.4,279.2C1051.6,279.3 1042.6,279.4 1067.3,279.5C1091.9,279.6 1173.1,279.7 1194.3,279.7" fill="none" stroke="#a6e43a" stroke-width="1.5" stroke-linejoin="round" stroke-linecap="round"/>
<path clip-path="url(#cpc)" d="M847.6,264.3C848.3,265.1 850.1,268 851.5,269.5C852.9,270.9 854.5,273.1 856,272.9C857.4,272.7 858.8,269.7 860.2,268.2C861.5,266.6 862.6,264.6 863.8,263.7C865,262.9 866,262.2 867.2,262.9C868.4,263.7 869.9,266.6 871.1,268.2C872.3,269.8 873.4,272.4 874.5,272.6C875.6,272.8 876.5,271.5 877.7,269.5C878.8,267.4 880.4,262.5 881.6,260.3C882.8,258.2 883.9,256.8 885,256.4C886.1,256.1 886.9,257.2 888.1,258.2C889.3,259.2 890.8,262.7 892,262.4C893.2,262.1 894.1,260 895.2,256.4C896.2,252.8 897.4,246 898.6,240.7C899.7,235.5 900.9,229.1 901.9,225.1C903,221 904.1,218.2 905.1,216.4C906,214.7 906.8,214.7 907.7,214.6C908.6,214.5 909.5,215.5 910.3,215.9C911.1,216.4 911.7,217.9 912.4,217.2C913.1,216.6 913.7,215.3 914.5,212C915.2,208.7 916,204 916.8,197.6C917.7,191.3 918.6,182.8 919.5,174.1C920.3,165.4 921.2,155.4 922.1,145.4C922.9,135.4 923.8,124.1 924.7,114C925.5,104 926.4,93.6 927.3,85.3C928.2,77 929,69.6 929.9,64.4C930.8,59.2 931.8,55.9 932.5,54C933.3,52 933.7,52.2 934.3,52.7C935,53.1 935.6,53.5 936.4,56.6C937.2,59.6 938.2,64.6 939,70.9C939.9,77.3 940.8,85.5 941.7,94.5C942.5,103.4 943.4,113.8 944.3,124.5C945.1,135.2 946,147.1 946.9,158.5C947.8,169.8 948.6,181.5 949.5,192.4C950.4,203.3 951.3,215.1 952.1,223.8C952.9,232.5 953.6,239.7 954.2,244.7C954.8,249.6 955.2,252.4 955.8,253.3C956.4,254.2 957.1,251.8 957.9,249.9C958.6,248 959.6,244 960.5,242C961.3,240.1 962.2,238.1 963.1,238.1C963.9,238.1 964.8,239.7 965.7,242C966.6,244.4 967.4,248.6 968.3,252.5C969.2,256.4 970.1,262 970.9,265.6C971.7,269.1 972.4,272.4 973,273.9C973.7,275.4 974.2,275.4 974.8,274.7C975.5,274 976.1,271.7 976.9,269.5C977.7,267.3 978.7,263.6 979.5,261.6C980.4,259.7 981.3,258.5 982.1,257.7C983,257 983.9,256.8 984.8,257.2C985.6,257.6 986.5,258.7 987.4,260.3C988.2,261.9 989,264.3 990,266.9C991,269.5 992.4,273.9 993.4,276C994.4,278.1 995.1,279.6 996,279.4C996.9,279.2 997.7,276.4 998.6,274.7C999.5,273 1000.3,270.7 1001.2,269.5C1002.2,268.3 1003.3,267.6 1004.4,267.6C1005.4,267.6 1006.4,268.4 1007.5,269.5C1008.6,270.5 1009.8,272.4 1010.9,273.9C1012,275.4 1013.2,278.5 1014.3,278.6C1015.4,278.8 1016.6,275.6 1017.6,274.8C1018.6,273.9 1019.4,274 1020.2,273.5C1021.1,272.9 1022,271.8 1022.8,271.4C1023.7,270.9 1024.6,270.7 1025.5,270.8C1026.3,271 1027.1,271.3 1028.1,272.2C1029,273 1030.2,274.9 1031.2,276.1C1032.2,277.3 1033,278.8 1033.8,279.5C1034.6,280.1 1035.1,280.5 1035.9,280C1036.7,279.5 1037.6,277.6 1038.5,276.6C1039.5,275.6 1040.6,274.6 1041.7,274C1042.7,273.4 1043.9,272.9 1045,272.9C1046.2,272.9 1047.4,273.4 1048.4,274C1049.5,274.6 1050.5,275.7 1051.6,276.6C1052.6,277.5 1053.8,278.9 1054.7,279.5C1055.7,280 1056.5,280.2 1057.3,280C1058.2,279.8 1058.9,278.8 1059.9,278.2C1060.9,277.5 1062.1,276.5 1063.3,276.1C1064.6,275.6 1066,275.5 1067.3,275.6C1068.6,275.6 1069.9,276.1 1071.2,276.6C1072.5,277.1 1073.8,278.2 1075.1,278.7C1076.4,279.2 1077.7,279.7 1079,279.7C1080.3,279.7 1081.4,278.9 1082.9,278.7C1084.5,278.4 1086.4,278.2 1088.2,278.2C1089.9,278.2 1091.2,278.5 1093.4,278.7C1095.6,278.9 1096.9,279.3 1101.2,279.5C1105.6,279.6 1104,279.7 1119.5,279.7C1135,279.8 1181.8,279.7 1194.3,279.7" fill="none" stroke="#109618" stroke-width="1.5" stroke-linejoin="round" stroke-linecap="round"/>
<path clip-path="url(#cpc)" d="M847.6,279.4C853.7,279.4 873.7,279.3 884.2,279.1C894.6,279 903.8,278.9 910.3,278.6C916.8,278.4 919.5,277.9 923.4,277.6C927.3,277.3 930.8,276.8 933.8,276.8C936.9,276.7 939,277.4 941.7,277.3C944.3,277.3 946.9,277 949.5,276.5C952.1,276.1 955.2,275.2 957.3,274.7C959.5,274.2 960.8,273.4 962.6,273.4C964.3,273.4 966,274 967.8,274.7C969.5,275.4 971.5,276.7 973,277.3C974.5,278 975.8,279.1 976.9,278.6C978,278.2 978.4,276.7 979.5,274.7C980.6,272.7 982.1,269.5 983.5,266.9C984.8,264.3 986.1,261.9 987.4,259C988.7,256.2 989.8,253.4 991.3,249.9C992.8,246.4 994.8,241.6 996.5,238.1C998.3,234.6 1000,231.6 1001.7,229C1003.5,226.4 1005.4,224 1007,222.5C1008.5,220.9 1009.8,220.4 1010.9,219.8C1012,219.3 1012.8,219.1 1013.5,219.3C1014.2,219.5 1014.3,220 1015,221.2C1015.7,222.4 1016.5,223.8 1017.6,226.4C1018.7,229 1020.2,233.2 1021.5,236.9C1022.8,240.6 1024.1,245.2 1025.5,248.6C1026.8,252.1 1028.1,255.2 1029.4,257.8C1030.7,260.4 1032,262.6 1033.3,264.3C1034.6,266.1 1035.9,267.4 1037.2,268.2C1038.5,269.1 1039.8,269.3 1041.1,269.5C1042.4,269.8 1043.7,269.2 1045,269.5C1046.4,269.8 1047.4,270.6 1049,271.4C1050.5,272.1 1052.5,273.4 1054.2,274C1055.9,274.6 1057.7,274.7 1059.4,274.8C1061.2,274.8 1062.9,274.1 1064.6,274.2C1066.4,274.4 1067.7,275.1 1069.9,275.6C1072.1,276 1074.7,276.8 1077.7,277.1C1080.8,277.5 1084.2,277.5 1088.2,277.6C1092.1,277.8 1096,278 1101.2,278.2C1106.5,278.3 1112.1,278.5 1119.5,278.7C1126.9,278.9 1133.2,279.1 1145.7,279.2C1158.1,279.3 1186.2,279.4 1194.3,279.5" fill="none" stroke="#7a10e8" stroke-width="1.5" stroke-linejoin="round" stroke-linecap="round"/>
<path clip-path="url(#cpc)" d="M847.6,278.6C851.5,278.6 862.9,278.7 871.1,278.6C879.4,278.5 890.3,278.3 897.2,278.1C904.2,277.9 908.6,277.6 912.9,277.3C917.3,277.1 919.9,276.8 923.4,276.5C926.9,276.2 930.8,275.9 933.8,275.5C936.9,275.1 939.7,274.3 941.7,274.2C943.6,274 944.3,274.6 945.6,274.7C946.9,274.8 948,274.9 949.5,274.7C951,274.5 953,273.9 954.7,273.4C956.5,272.9 958.4,271.9 959.9,271.6C961.5,271.2 962.6,271.1 963.9,271.3C965.2,271.5 966.5,272.4 967.8,272.9C969.1,273.3 970.4,274.3 971.7,273.9C973,273.6 974.3,272.1 975.6,270.8C976.9,269.5 978.3,267.2 979.5,266.1C980.8,265 981.8,264.3 982.9,264.3C984,264.2 984.9,264.5 986.1,265.6C987.2,266.6 988.8,269.1 990,270.8C991.2,272.4 992.4,274.4 993.4,275.5C994.4,276.6 995,278.1 996,277.3C997,276.5 998,273.8 999.1,270.8C1000.3,267.7 1001.7,262.9 1003,259C1004.4,255.1 1005.7,251.2 1007,247.3C1008.3,243.4 1009.6,239.9 1010.9,235.5C1012.2,231.2 1013.7,226.1 1014.8,221.1C1015.9,216.2 1016.7,210.3 1017.6,205.5C1018.5,200.7 1019.4,196.4 1020.2,192.5C1021.1,188.5 1022,185.3 1022.8,182C1023.7,178.7 1024.6,175.7 1025.5,172.9C1026.3,170 1027.2,167 1028.1,165C1028.9,163.1 1029.7,162.1 1030.7,161.1C1031.6,160.1 1032.9,159.3 1033.8,159.3C1034.8,159.3 1035.6,159.7 1036.4,161.1C1037.3,162.5 1038.2,164.8 1039,167.6C1039.9,170.5 1040.8,174 1041.7,178.1C1042.5,182.2 1043.4,187.5 1044.3,192.5C1045.1,197.5 1046,202.9 1046.9,208.1C1047.7,213.4 1048.6,218.8 1049.5,223.8C1050.4,228.8 1051.2,234 1052.1,238.2C1053,242.3 1053.8,245.9 1054.7,248.6C1055.6,251.4 1056.3,253.3 1057.3,254.6C1058.3,256 1059.5,256 1060.7,256.5C1061.9,256.9 1063.3,256.8 1064.6,257.3C1066,257.7 1067.3,258 1068.6,259.1C1069.9,260.1 1071.2,262.2 1072.5,263.5C1073.8,264.8 1075.1,266.4 1076.4,266.9C1077.7,267.5 1079,266.9 1080.3,266.9C1081.6,266.9 1082.9,266.6 1084.2,266.9C1085.6,267.2 1086.9,268 1088.2,268.8C1089.5,269.5 1090.8,270.8 1092.1,271.4C1093.4,271.9 1094.5,272.1 1096,272.2C1097.5,272.2 1099.5,271.8 1101.2,271.9C1103,272 1104.7,272.5 1106.5,272.9C1108.2,273.4 1109.9,274.5 1111.7,274.8C1113.4,275.1 1115.2,274.8 1116.9,274.8C1118.6,274.7 1120.4,274.4 1122.1,274.5C1123.9,274.6 1125.6,275.2 1127.4,275.6C1129.1,275.9 1130.8,276.5 1132.6,276.6C1134.3,276.7 1136.1,276.4 1137.8,276.3C1139.6,276.2 1141.3,276 1143,276.1C1144.8,276.2 1146.5,276.6 1148.3,276.9C1150,277.1 1151.7,277.6 1153.5,277.6C1155.2,277.7 1156.5,277.4 1158.7,277.4C1160.9,277.3 1163.9,277.3 1166.6,277.4C1169.2,277.5 1171.8,278.1 1174.4,278.2C1177,278.3 1178.9,277.9 1182.2,277.9C1185.5,277.9 1192.2,278.1 1194.3,278.2" fill="none" stroke="#4cc4fa" stroke-width="1.5" stroke-linejoin="round" stroke-linecap="round"/>
<rect x="847.9" y="2.0" width="346.4" height="278.7" fill="none" stroke="#1a1a1a" stroke-width="1.6"/>
<path d="M847.9,280.7v5.3M963.4,280.7v5.3M1078.8,280.7v5.3M1194.3,280.7v5.3" stroke="#1a1a1a" stroke-width="1.6" fill="none"/>
<path d="M905.6,280.7v2.8M1021.1,280.7v2.8M1136.6,280.7v2.8" stroke="#1a1a1a" stroke-width="1.6" fill="none"/>
<text x="847.9" y="302.4" font-size="16" text-anchor="middle" fill="#000">0</text>
<text x="963.4" y="302.4" font-size="16" text-anchor="middle" fill="#000">2</text>
<text x="1078.8" y="302.4" font-size="16" text-anchor="middle" fill="#000">4</text>
<text x="1194.3" y="302.4" font-size="16" text-anchor="middle" fill="#000">6</text>
<text x="1021.1" y="327.7" font-size="16" text-anchor="middle" fill="#000">R (&#197;)</text>
<text transform="translate(834.5,141.3) rotate(-90)" font-size="16" text-anchor="middle">|FT(k<tspan font-size="10.5" dy="-5.8">3</tspan><tspan dy="5.8" font-size="1">&#8203;</tspan><tspan dy="1.8">&#967;</tspan><tspan dy="-1.8">(</tspan>k))| (&#197;<tspan font-size="10.5" dy="-5.8">&#8722;4</tspan><tspan dy="5.8" font-size="1">&#8203;</tspan>)</text>
<text x="813.5" y="28.7" font-size="28" text-anchor="start" fill="#000" font-weight="bold">c</text>
<text x="854.2" y="20.4" font-size="14.5" text-anchor="start" fill="#000">Ru K-edge</text>
<path d="M1040.1,14.8H1070.2" stroke="#ff3dab" stroke-width="1.25"/>
<text x="1074.0" y="19.0" font-size="13" text-anchor="start" fill="#000">MD-RuZrCoCrCeO<tspan font-size="9" dy="3.2">2</tspan><tspan dy="-3.2" font-size="1">&#8203;</tspan></text>
<text x="1074.0" y="37.8" font-size="13" text-anchor="start" fill="#000">Fitting</text>
<path d="M1040.1,50.2H1070.2" stroke="#109618" stroke-width="1.25"/>
<text x="1074.0" y="53.8" font-size="13" text-anchor="start" fill="#000">Ru-O</text>
<path d="M1040.1,66.2H1070.2" stroke="#a6e43a" stroke-width="1.25"/>
<text x="1074.0" y="70.0" font-size="13" text-anchor="start" fill="#000">Ru-O-Co</text>
<path d="M1040.1,82.2H1070.2" stroke="#7a10e8" stroke-width="1.25"/>
<text x="1074.0" y="86.2" font-size="13" text-anchor="start" fill="#000">Ru-O-Zr</text>
<path d="M1040.1,98.4H1070.2" stroke="#4cc4fa" stroke-width="1.25"/>
<text x="1074.0" y="102.4" font-size="13" text-anchor="start" fill="#000">Ru-O-Ru</text>
<circle cx="1054.9" cy="33.8" r="2.6" fill="#fff" stroke="#f87272" stroke-width="0.9"/>
<path clip-path="url(#cpd)" d="M41.2,629.1C43.5,628.9 50.5,628 54.8,627.4C59.1,626.8 63.4,626.2 67.1,625.4C70.8,624.7 74.1,624 77,623C79.9,622 82.1,620.9 84.4,619.3C86.7,617.6 88.7,615.6 90.6,613.1C92.4,610.6 94,607.8 95.5,604.5C96.9,601.2 98,597.5 99.2,593.4C100.4,589.3 101.7,584.5 102.9,579.8C104.1,575.1 105.5,568.9 106.6,565C107.7,561.1 108.5,558.5 109.5,556.4C110.6,554.3 111.6,553.3 112.7,552.2C113.9,551.1 115.2,550.7 116.4,549.7C117.7,548.8 118.9,548.1 120.1,546.5C121.4,545 122.6,542.8 123.8,540.4C125.1,537.9 126.3,535 127.5,531.7C128.8,528.4 130,524.7 131.2,520.6C132.5,516.5 133.7,512 134.9,507.1C136.2,502.1 137.4,496.4 138.6,491C139.9,485.7 141.1,480.2 142.3,475C143.6,469.9 144.8,464.5 146,460.2C147.3,455.9 148.5,452 149.7,449.1C151,446.2 152.2,444.3 153.4,443C154.7,441.6 155.9,441.2 157.1,441.2C158.4,441.2 159.6,442 160.8,443C162.1,443.9 163.1,445.5 164.5,446.7C166,447.8 167.6,449 169.5,449.6C171.3,450.2 173.6,450.3 175.6,450.4C177.7,450.4 179.7,450.1 181.8,449.9C183.9,449.7 185.9,449.7 188,449.1C190,448.6 192.1,447.8 194.1,446.7C196.2,445.5 198.4,443.7 200.3,442.2C202.1,440.8 203.6,439.1 205.2,438C206.9,436.9 208.5,436.1 210.2,435.6C211.8,435 213.4,434.6 215.1,434.8C216.7,435 218.4,435.8 220,436.8C221.7,437.7 223.1,439 225,440.5C226.8,441.9 229.1,444.1 231.1,445.4C233.2,446.8 235.1,447.5 237.3,448.6C239.5,449.7 241.6,451.4 244.4,452.1C247.2,452.8 251,452.4 254.3,452.8C257.5,453.2 260.8,454.1 264.1,454.5C267.4,455 270.7,455.7 274,455.8C277.3,455.9 280.6,455.8 283.8,455.3C287.1,454.8 290.4,453.9 293.7,452.8C297,451.7 300.7,449.8 303.6,448.6C306.5,447.5 308.5,446.6 311,445.9C313.4,445.2 316.1,444.6 318.4,444.4C320.6,444.2 322.3,444.3 324.5,444.7C326.8,445 329.3,445.8 331.9,446.7C334.6,447.5 337.5,448.7 340.6,449.6C343.6,450.5 347.1,451.5 350.4,452.1C353.7,452.7 357,453.1 360.3,453.3C363.6,453.6 366.9,453.4 370.2,453.6C373.4,453.8 377.1,454.3 380,454.5C383,454.8 386.6,455 387.9,455" fill="none" stroke="#fb9a57" stroke-width="1.5" stroke-linejoin="round" stroke-linecap="round"/>
<path clip-path="url(#cpd)" d="M41.2,629.9C43.5,629.8 50.5,629.4 54.8,629.1C59.1,628.9 63.4,628.7 67.1,628.4C70.8,628.1 73.7,627.6 77,627.2C80.3,626.7 84,626.3 86.9,625.7C89.7,625.1 91.8,624.6 94.3,623.7C96.7,622.9 99.4,621.9 101.7,620.5C103.9,619.2 106,617.4 107.8,615.6C109.7,613.7 111.1,611.9 112.7,609.4C114.4,606.9 116,603.7 117.7,600.8C119.3,597.9 121,594.7 122.6,592.2C124.3,589.6 125.9,587.7 127.5,585.2C129.2,582.8 130.8,580.5 132.5,577.4C134.1,574.2 135.8,570.4 137.4,566.3C139.1,562.1 140.7,557.8 142.3,552.7C144,547.6 145.6,541.6 147.3,535.4C148.9,529.3 150.6,522.7 152.2,515.7C153.9,508.7 155.7,500.5 157.1,493.5C158.6,486.5 159.6,480.8 160.8,473.8C162.1,466.8 163.3,458.8 164.5,451.6C165.8,444.4 167,436.8 168.2,430.6C169.5,424.5 170.7,419.1 171.9,414.6C173.2,410.1 174.4,406.3 175.6,403.5C176.9,400.7 178.1,399.1 179.3,397.8C180.6,396.6 181.8,396.3 183,396.1C184.3,395.9 185.3,396.1 186.7,396.6C188.2,397.1 189.8,398.2 191.7,399.3C193.5,400.5 195.8,402.1 197.8,403.5C199.9,404.9 201.9,406.2 204,407.7C206.1,409.2 208.1,410.7 210.2,412.6C212.2,414.5 214.3,416.7 216.3,419C218.4,421.3 220.4,423.9 222.5,426.4C224.5,429 226.6,431.8 228.7,434.3C230.7,436.9 233.4,440.1 234.8,441.7C236.2,443.4 235.4,442.5 237,444.2C238.6,445.9 241.9,449.7 244.4,452.1C246.9,454.5 249.1,456.5 251.8,458.5C254.5,460.5 257.5,462.4 260.4,463.9C263.3,465.5 266,466.7 269.1,467.9C272.1,469 275.8,470.2 278.9,470.8C282,471.5 284.9,471.6 287.5,471.8C290.2,472 292.3,472.1 294.9,471.8C297.6,471.5 300.5,471 303.6,470.1C306.7,469.2 310.2,467.7 313.4,466.4C316.7,465.1 320,463.6 323.3,462.2C326.6,460.8 329.9,459.4 333.2,458C336.5,456.6 339.7,455.3 343,454.1C346.3,452.8 349.6,451.5 352.9,450.4C356.2,449.2 359.5,448 362.8,447.1C366.1,446.2 369.5,445.5 372.6,444.9C375.7,444.4 378.7,444 381.3,443.7C383.8,443.4 386.8,443.3 387.9,443.2" fill="none" stroke="#ff3dab" stroke-width="1.5" stroke-linejoin="round" stroke-linecap="round"/>
<path clip-path="url(#cpd)" d="M41.2,630.9C43.5,630.8 50.5,630.6 54.8,630.4C59.1,630.2 63.4,629.9 67.1,629.6C70.8,629.4 73.7,629.2 77,628.9C80.3,628.6 83.6,628.4 86.9,627.9C90.1,627.4 93.8,626.6 96.7,625.9C99.6,625.2 101.7,624.7 104.1,623.7C106.6,622.7 109.1,621.5 111.5,619.8C114,618 116.4,615.7 118.9,613.1C121.4,610.6 123.8,607.6 126.3,604.5C128.8,601.4 131.2,598.1 133.7,594.6C136.2,591.1 138.6,587.6 141.1,583.5C143.6,579.4 146.2,574.5 148.5,570C150.8,565.4 152.8,560.9 154.7,556.4C156.5,551.9 158,548 159.6,542.8C161.2,537.7 162.9,532.1 164.5,525.6C166.2,519 167.8,511.6 169.5,503.4C171.1,495.2 173,484.9 174.4,476.2C175.8,467.6 176.9,459.4 178.1,451.6C179.3,443.8 180.6,435.8 181.8,429.4C183,423 184.3,417.7 185.5,413.4C186.7,409 188,406 189.2,403.5C190.4,401 191.7,399.7 192.9,398.6C194.1,397.4 195.4,397 196.6,396.6C197.8,396.2 199.1,396 200.3,396.3C201.5,396.7 202.6,397.5 204,398.6C205.4,399.6 207.3,401.2 208.9,402.8C210.6,404.3 212.2,406 213.9,407.7C215.5,409.3 217.1,411.1 218.8,412.6C220.4,414.1 222.3,415.2 223.7,416.6C225.2,417.9 226.2,419.1 227.4,420.8C228.7,422.4 229.9,424.5 231.1,426.4C232.4,428.4 233.4,430.5 234.8,432.3C236.2,434.2 237.5,435 239.5,437.3C241.5,439.6 244.4,443.6 246.9,446.2C249.3,448.7 251.6,450.8 254.3,452.8C256.9,454.9 260,456.7 262.9,458.5C265.8,460.3 268.4,461.9 271.5,463.4C274.6,464.9 278.1,466.5 281.4,467.6C284.7,468.7 288,469.3 291.2,469.8C294.5,470.3 297.8,470.5 301.1,470.6C304.4,470.7 307.7,470.5 311,470.3C314.3,470.1 317.6,469.9 320.8,469.3C324.1,468.8 327.4,468 330.7,467.1C334,466.2 337.3,465.3 340.6,463.9C343.9,462.6 347.1,460.8 350.4,459C353.7,457.2 357,455.2 360.3,453.3C363.6,451.5 367.1,449.4 370.2,447.9C373.2,446.4 375.8,445.3 378.8,444.2C381.8,443.1 386.4,441.7 387.9,441.2" fill="none" stroke="#7a10e8" stroke-width="1.5" stroke-linejoin="round" stroke-linecap="round"/>
<rect x="41.4" y="352.4" width="346.8" height="279.7" fill="none" stroke="#1a1a1a" stroke-width="1.6"/>
<path d="M41.4,632.1v5.3M110.8,632.1v5.3M180.1,632.1v5.3M249.5,632.1v5.3M318.8,632.1v5.3M388.2,632.1v5.3" stroke="#1a1a1a" stroke-width="1.6" fill="none"/>
<path d="M76.1,632.1v2.8M145.4,632.1v2.8M214.8,632.1v2.8M284.2,632.1v2.8M353.5,632.1v2.8" stroke="#1a1a1a" stroke-width="1.6" fill="none"/>
<text x="41.4" y="653.8" font-size="16" text-anchor="middle" fill="#000">17980</text>
<text x="110.8" y="653.8" font-size="16" text-anchor="middle" fill="#000">18000</text>
<text x="180.1" y="653.8" font-size="16" text-anchor="middle" fill="#000">18020</text>
<text x="249.5" y="653.8" font-size="16" text-anchor="middle" fill="#000">18040</text>
<text x="318.8" y="653.8" font-size="16" text-anchor="middle" fill="#000">18060</text>
<text x="388.2" y="653.8" font-size="16" text-anchor="middle" fill="#000">18080</text>
<text x="214.8" y="679.1" font-size="16" text-anchor="middle" fill="#000">Energy (eV)</text>
<text transform="translate(29.9,492.2) rotate(-90)" font-size="16" text-anchor="middle">XANES (a.u.)</text>
<text x="4.5" y="379.2" font-size="28" text-anchor="start" fill="#000" font-weight="bold">d</text>
<text x="48.2" y="370.9" font-size="14.5" text-anchor="start" fill="#000">Zr K-edge</text>
<path d="M234.4,365.5H264.0" stroke="#fb9a57" stroke-width="1.25"/>
<text x="268.3" y="369.8" font-size="13" text-anchor="start" fill="#000">Zr foil</text>
<path d="M234.4,381.9H264.0" stroke="#ff3dab" stroke-width="1.25"/>
<text x="268.3" y="386.0" font-size="13" text-anchor="start" fill="#000">MD-RuZrCoCrCeO<tspan font-size="9" dy="3.2">2</tspan><tspan dy="-3.2" font-size="1">&#8203;</tspan></text>
<path d="M234.4,400.9H264.0" stroke="#7a10e8" stroke-width="1.25"/>
<text x="268.3" y="405.0" font-size="13" text-anchor="start" fill="#000">C-ZrO<tspan font-size="9" dy="3.2">2</tspan><tspan dy="-3.2" font-size="1">&#8203;</tspan></text>
<rect x="216.8" y="483.2" width="139.1" height="114.4" fill="#fff" stroke="#1a1a1a" stroke-width="1.3"/>
<path d="M216.8,597.6v4.2M286.4,597.6v4.2M355.9,597.6v4.2M251.6,597.6v2.6M321.1,597.6v2.6M216.8,585.6h-4.2M216.8,562.7h-4.2M216.8,539.9h-4.2M216.8,517.0h-4.2M216.8,494.1h-4.2M216.8,597.0h-2.6M216.8,574.2h-2.6M216.8,551.3h-2.6M216.8,528.4h-2.6M216.8,505.6h-2.6" stroke="#1a1a1a" stroke-width="1.3" fill="none"/>
<text x="210.0" y="589.9" font-size="12" text-anchor="end" fill="#000">0</text>
<text x="210.0" y="567.0" font-size="12" text-anchor="end" fill="#000">1</text>
<text x="210.0" y="544.2" font-size="12" text-anchor="end" fill="#000">2</text>
<text x="210.0" y="521.3" font-size="12" text-anchor="end" fill="#000">3</text>
<text x="210.0" y="498.4" font-size="12" text-anchor="end" fill="#000">4</text>
<text x="216.8" y="610.7" font-size="12" text-anchor="middle" fill="#000">18010</text>
<text x="286.4" y="610.7" font-size="12" text-anchor="middle" fill="#000">18020</text>
<text x="355.9" y="610.7" font-size="12" text-anchor="middle" fill="#000">18030</text>
<text x="286.4" y="622.3" font-size="12" text-anchor="middle" fill="#000">Energy (eV)</text>
<text transform="translate(202.3,540.4) rotate(-90)" font-size="12" text-anchor="middle">Oxidation state of Zr</text>
<path d="M241.4,585.5L294.5,526.8L324.3,494" stroke="#888" stroke-width="1.1" stroke-dasharray="1.2,2.6" fill="none"/>
<circle cx="241.4" cy="585.5" r="3.3" fill="url(#bo)"/><circle cx="294.5" cy="526.8" r="3.3" fill="url(#bp)"/><circle cx="324.3" cy="494" r="3.3" fill="url(#bv)"/>
<text x="218.5" y="507.6" font-size="10.6" text-anchor="start" fill="#ff3dab">MD-RuZrCoCrCeO<tspan font-size="7.5" dy="3.2">2</tspan><tspan dy="-3.2" font-size="1">&#8203;</tspan></text>
<text x="250.0" y="523.1" font-size="12.2" text-anchor="start" fill="#ff3dab">+2.56</text>
<text x="320.1" y="509.5" font-size="10.6" text-anchor="start" fill="#7a10e8">C-ZrO<tspan font-size="7.5" dy="3.2">2</tspan><tspan dy="-3.2" font-size="1">&#8203;</tspan></text>
<text x="330.7" y="526.1" font-size="12.2" text-anchor="start" fill="#7a10e8">+4</text>
<text x="257.2" y="579.8" font-size="10.6" text-anchor="start" fill="#fb9a57">Zr foil</text>
<text x="269.4" y="594.6" font-size="12.2" text-anchor="middle" fill="#fb9a57">0</text>
<path clip-path="url(#cpe)" d="M448.7,627.9C449.5,627.2 452,624.6 453.6,623.7C455.3,622.7 456.9,622 458.6,622.2C460.2,622.3 461.8,623.8 463.5,624.6C465.1,625.5 466.8,627.5 468.4,627.4C470.1,627.2 471.5,624.9 473.4,623.7C475.2,622.4 477.7,620.1 479.5,619.7C481.4,619.3 483,621.3 484.4,621.2C485.9,621.1 486.7,621.2 488.1,619.2C489.6,617.2 491.4,612.7 493.1,609.4C494.7,606 496.4,601.7 498,599C499.7,596.3 501.5,594.4 502.9,593.3C504.4,592.3 505.4,592.4 506.6,592.8C507.9,593.3 508.9,593.9 510.3,595.8C511.8,597.7 513.6,601.3 515.3,604.4C516.9,607.5 518.6,611.5 520.2,614.3C521.8,617.1 523.5,619.3 525.1,621.2C526.8,623 528.8,624.7 530.1,625.4C531.3,626.1 531.5,626.1 532.5,625.4C533.6,624.7 534.8,623 536.2,621.2C537.7,619.3 539.7,615.9 541.2,614.3C542.6,612.7 543.6,611.9 544.9,611.8C546.1,611.7 547.3,612.6 548.6,613.8C549.8,614.9 551.1,617.6 552.2,618.7C553.4,619.8 554.4,620.8 555.5,620.5C556.5,620.1 557.3,618.5 558.4,616.8C559.5,615 560.9,611.5 562.1,609.9C563.3,608.2 564.6,607.2 565.8,606.9C567,606.6 568.3,607.4 569.5,608.1C570.7,608.9 572.2,610.7 573.2,611.3C574.2,611.9 574.6,612.6 575.7,611.8C576.7,611.1 578.1,609.8 579.4,606.9C580.6,604 581.8,599.9 583.1,594.6C584.3,589.2 585.5,582.2 586.8,574.8C588,567.4 589.2,559.2 590.5,550.2C591.7,541.1 592.9,530.9 594.2,520.6C595.4,510.3 596.6,499.2 597.9,488.6C599.1,477.9 600.3,466.6 601.6,456.5C602.8,446.4 604,436.2 605.3,428.1C606.5,420.1 607.9,413.1 609,408.4C610,403.8 610.7,401.9 611.4,400.3C612.2,398.6 612.8,398.4 613.4,398.6C614,398.7 614.3,398.8 615,401C615.7,403.3 616.6,407 617.5,412.1C618.3,417.3 619.1,424.5 619.9,431.9C620.8,439.3 621.6,447.9 622.4,456.5C623.2,465.2 624,474.6 624.9,483.7C625.7,492.7 626.5,501.8 627.3,510.8C628.2,519.8 629,528.9 629.8,537.9C630.6,547 631.4,556.4 632.3,565.1C633.1,573.7 633.9,582.7 634.7,589.7C635.6,596.7 636.4,602.7 637.2,607C638,611.3 638.9,615 639.7,615.6C640.4,616.3 640.9,612.8 641.6,610.7C642.4,608.6 643.3,604.5 644.1,603.3C644.9,602.1 645.7,602.7 646.6,603.3C647.5,603.9 648.4,605.6 649.5,607C650.6,608.4 652,610.6 653.2,611.9C654.5,613.3 655.7,614.7 656.9,614.9C658.2,615.1 659.4,613.6 660.6,613.2C661.9,612.8 663.1,612.2 664.3,612.4C665.6,612.6 666.6,613.7 668,614.4C669.5,615.1 671.1,616.5 673,616.9C674.8,617.3 677.1,617 679.1,616.9C681.2,616.8 683.7,616.4 685.3,616.4C686.9,616.4 687.6,616.6 689,616.9C690.4,617.2 692.3,618.3 693.9,618.1C695.6,617.9 697.2,616.3 698.9,615.6C700.5,614.9 702.4,614.1 703.8,613.9C705.2,613.7 706.3,613.9 707.5,614.4C708.7,614.9 709.8,615.7 711.2,616.9C712.6,618 714.5,620.2 716.1,621.3C717.8,622.5 719.6,623.8 721.1,623.8C722.5,623.8 723.5,623.1 724.8,621.3C726,619.5 727,616.4 728.5,613.2C729.9,610 731.8,605.4 733.4,602.1C735,598.8 736.9,595.5 738.3,593.4C739.8,591.4 740.8,590.4 742,589.7C743.3,589 744.5,588.8 745.7,589.2C747,589.7 748.2,590.3 749.4,592.2C750.7,594.1 751.7,597.1 753.1,600.8C754.6,604.5 756.4,610.3 758.1,614.4C759.7,618.5 761.7,623 763,625.5C764.3,628 764.9,629.1 766,629.2C767,629.3 767.8,627.7 769.2,626.2C770.5,624.8 772.3,622.3 774.1,620.6C776,618.8 778.2,617.3 780.3,615.6C782.3,614 784.6,612.3 786.4,610.7C788.3,609.1 790.1,606.7 791.4,605.8C792.7,604.8 793.8,605.2 794.3,605" fill="none" stroke="#fb9a57" stroke-width="1.5" stroke-linejoin="round" stroke-linecap="round"/>
<path clip-path="url(#cpe)" d="M448.7,615.5C449.5,614.9 452,612.8 453.6,611.8C455.3,610.9 456.9,610.1 458.6,609.9C460.2,609.6 461.8,610.6 463.5,610.6C465.1,610.6 466.8,610.6 468.4,609.9C470.1,609.2 471.7,607.9 473.4,606.4C475,604.9 476.6,603.1 478.3,600.7C479.9,598.3 481.8,595.2 483.2,592.1C484.7,589 485.7,585.9 486.9,582.2C488.1,578.5 489.4,574 490.6,569.9C491.8,565.8 493.1,561.2 494.3,557.6C495.5,554 496.8,550.3 498,548.2C499.2,546.2 500.5,545.3 501.7,545.3C502.9,545.2 504.2,546.3 505.4,547.7C506.6,549.2 508,552.3 509.1,553.9C510.2,555.4 511,557.1 512.1,557.1C513.1,557.1 514.2,556.3 515.3,553.9C516.3,551.5 517.4,547.9 518.5,542.8C519.6,537.7 520.8,530.5 521.9,523.1C523.1,515.7 524.2,506 525.4,498.4C526.5,490.8 527.6,483.2 528.8,477.5C530,471.7 531.4,467.1 532.5,463.9C533.7,460.7 534.8,459.5 535.7,458.5C536.7,457.4 537.3,457.4 538.2,457.7C539.1,458 540,458.3 541.2,460.2C542.3,462 543.6,465.1 544.9,468.8C546.1,472.5 547.3,477.5 548.6,482.4C549.8,487.3 551,492.7 552.2,498.4C553.5,504.2 554.7,510.7 555.9,516.9C557.2,523.1 558.4,529.2 559.6,535.4C560.9,541.6 562.1,548.1 563.3,553.9C564.6,559.6 565.8,565 567,569.9C568.3,574.8 569.5,579.4 570.7,583.5C572,587.6 573.2,591.3 574.4,594.6C575.7,597.9 576.9,600.9 578.1,603.2C579.4,605.5 580.6,607.2 581.8,608.1C583.1,609.1 584.3,609.3 585.5,608.9C586.8,608.5 588,606.9 589.2,605.7C590.5,604.4 591.5,602.8 592.9,601.5C594.4,600.1 596.2,598.7 597.9,597.5C599.5,596.4 601.2,595.3 602.8,594.6C604.4,593.9 605.9,593.4 607.2,593.3C608.5,593.3 609.4,593.3 610.7,594.1C612,594.9 613.8,596.9 615.1,598.3C616.5,599.6 617.5,600.4 618.7,602.1C619.9,603.7 621.2,606.4 622.4,608.2C623.6,610.1 624.9,612.1 626.1,613.2C627.3,614.3 628.6,614.5 629.8,614.9C631,615.3 632.1,614.9 633.5,615.6C634.9,616.4 636.8,618 638.4,619.3C640.1,620.7 641.5,622.6 643.4,623.8C645.2,624.9 647.5,626.1 649.5,626.2C651.6,626.4 653.6,625.4 655.7,624.8C657.8,624.1 660,623.2 661.9,622.3C663.7,621.4 665.2,620 666.8,619.3C668.4,618.6 669.8,618.2 671.2,618.1C672.7,618 673.9,618.2 675.4,618.8C677,619.5 678.5,620.6 680.4,621.8C682.2,623 684.7,625 686.5,626.2C688.4,627.5 690.2,628.6 691.5,629.2C692.7,629.8 692.9,630.1 693.9,629.7C695,629.3 696.2,627.6 697.6,626.7C699.1,625.9 700.7,625.2 702.6,624.8C704.4,624.4 706.5,624.3 708.7,624.3C711,624.3 713.7,624.8 716.1,624.8C718.6,624.8 721.3,624.1 723.5,624.3C725.8,624.4 727.6,624.9 729.7,625.5C731.8,626.1 733.8,627.4 735.9,628C737.9,628.6 740,629.3 742,629.2C744.1,629.1 745.9,628 748.2,627.5C750.5,627 753.1,626.3 755.6,626.2C758.1,626.2 760.1,626.8 763,627.2C765.9,627.6 769.6,628.4 772.9,628.7C776.2,629 779.2,629.1 782.7,629.2C786.3,629.3 792.4,629.2 794.3,629.2" fill="none" stroke="#ff3dab" stroke-width="1.5" stroke-linejoin="round" stroke-linecap="round"/>
<path clip-path="url(#cpe)" d="M448.7,620.5C449.7,620.6 452.8,621.4 454.9,621.2C456.9,621 459,620.1 461,619.2C463.1,618.4 465.3,616.6 467.2,616C469,615.4 470.7,615.7 472.1,615.5C473.6,615.3 474.4,616 475.8,614.8C477.3,613.6 479.1,610.9 480.7,608.1C482.4,605.4 484.2,600.9 485.7,598.3C487.2,595.7 488.5,593.7 489.9,592.6C491.2,591.5 492.5,591.7 493.8,591.6C495.2,591.5 496.7,592.2 498,592.1C499.3,592 500.3,592.3 501.7,590.9C503.1,589.4 505,586.6 506.6,583.5C508.3,580.4 509.9,576.7 511.6,572.4C513.2,568.1 515.1,562.9 516.5,557.6C517.9,552.2 519,547.3 520.2,540.3C521.4,533.3 522.7,524.3 523.9,515.7C525.1,507 526.4,496.6 527.6,488.6C528.8,480.5 530.1,472.9 531.3,467.6C532.4,462.3 533.5,458.9 534.5,456.5C535.5,454.1 536.6,453.7 537.5,453C538.4,452.4 539,452.2 539.9,452.8C540.8,453.4 541.8,454 542.9,456.5C544,459 545.3,463.1 546.6,467.6C547.8,472.1 549,478.1 550.3,483.6C551.5,489.2 552.7,494.9 554,500.9C555.2,506.8 556.5,513.2 557.7,519.4C558.8,525.5 559.8,531.9 560.9,537.9C561.9,543.8 563.1,550 564.1,555.1C565.1,560.3 566.1,565.2 567,568.7C568,572.2 569,574.2 570,576.1C571,577.9 572.3,578.3 573.2,579.8C574.2,581.2 574.8,582.4 575.7,584.7C576.5,587 577.2,590 578.1,593.3C579,596.6 580.2,601.7 581.1,604.4C582,607.2 582.7,608.9 583.6,609.9C584.4,610.8 585.2,610.6 586,609.9C586.8,609.2 587.7,607.1 588.5,605.7C589.3,604.3 590.1,602.3 591,601.5C591.8,600.6 592.6,600.4 593.4,600.7C594.2,601 595.1,602.2 595.9,603.2C596.7,604.2 597.6,606.5 598.4,606.9C599.1,607.3 599.7,607.7 600.3,605.7C601,603.6 601.6,600.5 602.3,594.6C603,588.6 603.9,578.5 604.8,569.9C605.6,561.3 606.4,551.4 607.2,542.8C608.1,534.2 608.9,525.5 609.7,518.1C610.5,510.7 611.3,504.2 612.2,498.4C613,492.7 613.8,487.1 614.6,483.6C615.4,480.1 616.4,478.7 617.1,477.5C617.8,476.2 618.3,476.4 618.9,476.3C619.6,476.2 620.3,475.7 620.9,476.8C621.6,477.8 622.2,479.2 622.9,482.4C623.6,485.6 624.5,490.5 625.4,496C626.2,501.6 627,508.7 627.8,515.7C628.6,522.7 629.5,530.1 630.3,537.9C631.1,545.7 631.9,554.4 632.8,562.6C633.6,570.8 634.4,579.9 635.2,587.3C636,594.7 637,601.7 637.7,607C638.4,612.3 639.1,616.7 639.7,619.3C640.2,622 640.7,623 641.1,623C641.6,623 642.1,621.4 642.6,619.3C643.2,617.3 643.9,613.6 644.6,610.7C645.3,607.8 646.2,604.5 647.1,602.1C648,599.6 649.1,597.3 650,595.9C651,594.5 651.8,593.6 652.7,593.4C653.7,593.2 654.6,593.6 655.7,594.7C656.8,595.7 658.2,597.5 659.4,599.6C660.6,601.7 661.9,604.5 663.1,607C664.3,609.5 665.6,612.3 666.8,614.4C668,616.5 669.3,618.2 670.5,619.3C671.7,620.5 672.7,621.3 673.7,621.3C674.7,621.3 675.6,620.3 676.7,619.3C677.8,618.4 678.9,616.8 680.4,615.6C681.8,614.5 683.7,613.1 685.3,612.4C686.9,611.7 688.6,611.4 690.2,611.4C691.9,611.4 693.5,611.9 695.2,612.4C696.8,612.9 698.5,613.9 700.1,614.4C701.7,614.9 703.4,615.3 705,615.6C706.7,616 708.3,616.2 710,616.4C711.6,616.6 713.3,617 714.9,616.9C716.5,616.7 718.2,616.4 719.8,615.6C721.5,614.9 723.1,613.5 724.8,612.4C726.4,611.3 728.1,609.9 729.7,609C731.3,608.1 733.2,607.3 734.6,607C736.1,606.7 736.9,606.7 738.3,607C739.8,607.3 741.4,608.2 743.3,609C745.1,609.7 747.4,611 749.4,611.4C751.5,611.9 753.5,611.6 755.6,611.4C757.7,611.3 759.9,610.5 761.8,610.7C763.6,610.9 765.1,611.4 766.7,612.4C768.3,613.5 770,615.2 771.6,616.9C773.3,618.5 774.9,620.6 776.6,622.3C778.2,624 780.1,626.1 781.5,627.2C782.9,628.4 784.2,629.2 785.2,629.2C786.2,629.2 786.8,628.3 787.7,627.2C788.6,626.2 789.5,624.4 790.6,623C791.7,621.7 793.7,620 794.3,619.3" fill="none" stroke="#7a10e8" stroke-width="1.5" stroke-linejoin="round" stroke-linecap="round"/>
<rect x="448.6" y="352.4" width="345.7" height="278.5" fill="none" stroke="#1a1a1a" stroke-width="1.6"/>
<path d="M448.6,630.9v5.3M563.8,630.9v5.3M679.1,630.9v5.3M794.3,630.9v5.3" stroke="#1a1a1a" stroke-width="1.6" fill="none"/>
<path d="M506.2,630.9v2.8M621.5,630.9v2.8M736.7,630.9v2.8" stroke="#1a1a1a" stroke-width="1.6" fill="none"/>
<text x="448.6" y="652.6" font-size="16" text-anchor="middle" fill="#000">0</text>
<text x="563.8" y="652.6" font-size="16" text-anchor="middle" fill="#000">2</text>
<text x="679.1" y="652.6" font-size="16" text-anchor="middle" fill="#000">4</text>
<text x="794.3" y="652.6" font-size="16" text-anchor="middle" fill="#000">6</text>
<text x="621.5" y="677.9" font-size="16" text-anchor="middle" fill="#000">R (&#197;)</text>
<text transform="translate(436.0,491.6) rotate(-90)" font-size="16" text-anchor="middle">|FT(k<tspan font-size="10.5" dy="-5.8">2</tspan><tspan dy="5.8" font-size="1">&#8203;</tspan><tspan dy="1.8">&#967;</tspan><tspan dy="-1.8">(</tspan>k))| (&#197;<tspan font-size="10.5" dy="-5.8">&#8722;3</tspan><tspan dy="5.8" font-size="1">&#8203;</tspan>)</text>
<text x="411.0" y="379.2" font-size="28" text-anchor="start" fill="#000" font-weight="bold">e</text>
<text x="455.3" y="370.9" font-size="14.5" text-anchor="start" fill="#000">Zr K-edge</text>
<path d="M641.5,365.5H671.3" stroke="#fb9a57" stroke-width="1.25"/>
<text x="675.0" y="369.8" font-size="13" text-anchor="start" fill="#000">Zr foil</text>
<path d="M641.5,381.9H671.3" stroke="#ff3dab" stroke-width="1.25"/>
<text x="675.0" y="386.0" font-size="13" text-anchor="start" fill="#000">MD-RuZrCoCrCeO<tspan font-size="9" dy="3.2">2</tspan><tspan dy="-3.2" font-size="1">&#8203;</tspan></text>
<path d="M641.5,400.9H671.3" stroke="#7a10e8" stroke-width="1.25"/>
<text x="675.0" y="405.0" font-size="13" text-anchor="start" fill="#000">C-ZrO<tspan font-size="9" dy="3.2">2</tspan><tspan dy="-3.2" font-size="1">&#8203;</tspan></text>
<text x="599.8" y="395.9" font-size="14.5" text-anchor="start" fill="#000">Zr-Zr</text>
<text x="526.4" y="449.6" font-size="14.5" text-anchor="start" fill="#000">Zr-O</text>
<text x="637.2" y="449.1" font-size="14.5" text-anchor="start" fill="#000">Zr-O-Zr</text>
<text x="639.2" y="558.2" font-size="14.5" text-anchor="start" fill="#000">Zr-O-Ru</text>
<path d="M659.4,451.1L627.3,469.6" stroke="#000" stroke-width="1.2"/>
<path d="M619.9,473.8L626.8,466.8L629.4,471.3Z" fill="#000"/>
<path d="M662.4,560.1L617.8,586.5" stroke="#000" stroke-width="1.2"/>
<path d="M610.5,590.8L617.4,583.7L620.0,588.2Z" fill="#000"/>
<path clip-path="url(#cpf)" d="M847.1,629.3C853.3,629.2 873.6,629.2 884.2,629C894.7,628.8 903.7,628.4 910.3,628C916.8,627.6 920.1,627.4 923.3,626.7C926.6,626 927.9,625.4 929.9,623.8C931.8,622.1 933.6,619.7 935.1,616.7C936.6,613.8 937.7,610 939,606.3C940.3,602.6 941.6,598.2 942.9,594.5C944.2,590.8 945.5,587.1 946.8,584.1C948.1,581.1 949.5,578.5 950.7,576.8C952,575 953,574.5 954.1,573.7C955.3,572.8 956.6,572.7 957.8,571.6C959,570.5 960,569.4 961.2,567.1C962.4,564.9 963.8,561.3 965.1,558C966.4,554.7 967.7,550.8 969,547.5C970.3,544.3 971.6,541.2 972.9,538.4C974.2,535.6 975.5,533.2 976.9,530.6C978.2,528 979.5,525.4 980.8,522.7C982.1,520.1 983.4,517.7 984.7,514.9C986,512.2 987.3,509.1 988.6,506.3C989.9,503.5 991.2,500.5 992.5,497.9C993.8,495.3 995.1,492.8 996.4,490.6C997.7,488.5 999,486.5 1000.4,484.9C1001.7,483.3 1002.6,481.9 1004.3,481C1005.9,480 1008.1,479.7 1010.2,479.1C1012.3,478.6 1014.6,477.9 1016.7,477.6C1018.9,477.3 1020.9,477.1 1023.3,477.3C1025.7,477.5 1028.5,477.9 1031.1,478.6C1033.7,479.4 1036.3,480.8 1038.9,481.7C1041.6,482.7 1044.2,483.5 1046.8,484.1C1049.4,484.7 1052,484.9 1054.6,485.1C1057.2,485.4 1059.8,485.5 1062.4,485.4C1065.1,485.3 1067.7,485.1 1070.3,484.4C1072.9,483.6 1075.5,482.4 1078.1,481C1080.7,479.5 1083.3,477.5 1085.9,475.7C1088.6,474 1091.2,472 1093.8,470.5C1096.4,469 1099,467.6 1101.6,466.6C1104.2,465.6 1107,465 1109.4,464.5C1111.8,464.1 1113.8,463.8 1116,464C1118.1,464.2 1120.3,464.7 1122.5,465.6C1124.7,466.4 1126.8,467.8 1129,469.2C1131.2,470.6 1133.2,472.3 1135.5,473.9C1137.9,475.6 1140.8,477.6 1143.4,479.1C1146,480.7 1148.6,482 1151.2,483.1C1153.8,484.1 1156.4,485 1159,485.7C1161.7,486.3 1164.3,486.6 1166.9,487C1169.5,487.3 1172.1,487.6 1174.7,487.8C1177.3,487.9 1180.2,488.1 1182.5,488C1184.9,488 1187.2,487.7 1189.1,487.5C1190.9,487.3 1193,486.8 1193.8,486.7" fill="none" stroke="#4fb0a8" stroke-width="1.5" stroke-linejoin="round" stroke-linecap="round"/>
<path clip-path="url(#cpf)" d="M847.1,629.8C853.3,629.7 873.6,629.5 884.2,629.3C894.7,629.1 903.3,628.7 910.3,628.5C917.2,628.3 921.8,628.3 925.9,628C930.1,627.6 932.7,627.1 935.1,626.4C937.5,625.7 938.6,624.5 940.3,623.8C942,623 943.8,622.4 945.5,622C947.3,621.5 949.2,621.6 950.7,621.2C952.3,620.7 953.4,620.5 954.7,619.3C956,618.2 957.3,616.5 958.6,614.1C959.9,611.7 961.2,608.7 962.5,605C963.8,601.3 965.1,596.7 966.4,591.9C967.7,587.1 969,581.9 970.3,576.3C971.6,570.6 972.9,564.5 974.2,558C975.5,551.5 976.9,544.9 978.2,537.1C979.5,529.3 980.8,520.6 982.1,511C983.4,501.4 984.7,489.7 986,479.7C987.3,469.7 988.6,460.1 989.9,450.9C991.2,441.8 992.5,433.1 993.8,424.8C995.1,416.6 996.6,408.1 997.7,401.3C998.9,394.6 1000,387.9 1000.9,384.4C1001.7,380.8 1002.3,380.4 1003,379.9C1003.7,379.5 1004.3,379.9 1005,381.7C1005.7,383.6 1006.3,386.3 1007.1,390.9C1007.9,395.5 1008.8,403.1 1009.7,409.2C1010.6,415.3 1011.4,422 1012.3,427.4C1013.2,432.9 1014,437.5 1014.9,441.8C1015.9,446.1 1017,449.8 1018.1,453C1019.1,456.3 1020.1,458 1021.2,461.4C1022.3,464.7 1023.5,469.4 1024.6,473.1C1025.7,476.8 1026.9,480.7 1028,483.6C1029.1,486.5 1030.1,488.8 1031.1,490.6C1032.2,492.5 1033.2,493.9 1034.2,494.8C1035.3,495.7 1036.3,496.1 1037.4,496.1C1038.4,496.1 1039.4,496 1040.5,494.8C1041.6,493.6 1042.9,491.1 1044.2,488.8C1045.4,486.5 1046.8,483.2 1048.1,481C1049.4,478.7 1050.8,476.5 1052,475.2C1053.2,474 1054.2,473.4 1055.4,473.4C1056.6,473.4 1057.8,473.9 1059,475C1060.3,476 1061.5,478 1063,479.7C1064.4,481.3 1066,483.2 1067.7,484.9C1069.3,486.5 1070.9,488.1 1072.9,489.6C1074.8,491.1 1077.2,492.8 1079.4,494C1081.6,495.2 1083.8,496.2 1085.9,496.9C1088.1,497.5 1090.3,497.9 1092.5,497.9C1094.6,497.9 1096.8,497.5 1099,496.9C1101.2,496.2 1103.3,495.2 1105.5,494C1107.7,492.9 1109.9,491.3 1112,490.1C1114.2,488.9 1116.4,487.8 1118.6,486.7C1120.8,485.6 1123.1,485 1125.1,483.6C1127.1,482.2 1128.6,480.5 1130.3,478.4C1132.1,476.2 1133.8,473.3 1135.5,470.5C1137.3,467.8 1139,464.5 1140.8,461.9C1142.5,459.3 1144.3,456.8 1146,454.9C1147.7,452.9 1149.3,451.5 1151.2,450.2C1153.2,448.8 1155.6,447.5 1157.7,446.5C1159.9,445.5 1162.3,444.8 1164.3,444.4C1166.2,444 1167.8,443.7 1169.5,443.9C1171.2,444.1 1172.8,444.8 1174.7,445.7C1176.7,446.7 1179.1,448 1181.2,449.6C1183.4,451.3 1185.7,453.7 1187.8,455.6C1189.9,457.6 1192.8,460.4 1193.8,461.4" fill="none" stroke="#b5dc2c" stroke-width="1.5" stroke-linejoin="round" stroke-linecap="round"/>
<path clip-path="url(#cpf)" d="M847.1,629.3C851.1,629.2 865.4,629.2 871.1,629C876.9,628.8 878.1,628.1 881.6,628C885,627.8 888.5,628.3 892,628.2C895.5,628.2 899,627.9 902.4,627.7C905.9,627.5 909.4,627.1 912.9,626.9C916.4,626.7 920.3,626.9 923.3,626.7C926.4,626.4 928.8,626.1 931.2,625.4C933.6,624.6 935.7,623.1 937.7,622C939.6,620.8 941.2,619.3 942.9,618.6C944.7,617.8 946.4,618 948.1,617.5C949.9,617 951.6,616.6 953.4,615.4C955.1,614.2 957.1,612.2 958.6,610.2C960.1,608.3 961.2,606.5 962.5,603.7C963.8,600.9 965.1,597.4 966.4,593.2C967.7,589.1 969,584.3 970.3,578.9C971.6,573.4 972.9,567.6 974.2,560.6C975.5,553.6 976.9,545.4 978.2,537.1C979.5,528.8 980.8,520.1 982.1,511C983.4,501.9 984.7,491 986,482.3C987.3,473.6 988.6,465.7 989.9,458.8C991.2,451.8 992.5,445.9 993.8,440.5C995.1,435.1 996.4,430.1 997.7,426.1C999,422.1 1000.4,418.7 1001.7,416.5C1002.9,414.2 1003.9,413 1005,412.6C1006.1,412.1 1007,412.9 1008.1,413.9C1009.2,414.8 1010.3,416.3 1011.5,418.3C1012.7,420.3 1014.1,423.5 1015.4,426.1C1016.7,428.7 1017.8,431.1 1019.4,434C1020.9,436.8 1022.8,440.4 1024.6,443.1C1026.3,445.8 1028.1,448.1 1029.8,450.2C1031.5,452.2 1033.1,453.7 1035,455.6C1037,457.6 1039.4,460 1041.6,461.9C1043.7,463.8 1045.9,465.6 1048.1,467.1C1050.3,468.7 1052.4,470 1054.6,471.3C1056.8,472.6 1058.7,473.6 1061.1,475C1063.5,476.4 1066.4,478.1 1069,479.7C1071.6,481.2 1074.2,482.7 1076.8,484.1C1079.4,485.5 1082,486.8 1084.6,488C1087.2,489.2 1089.9,490.5 1092.5,491.4C1095.1,492.3 1097.7,493.1 1100.3,493.5C1102.9,493.9 1105.5,494.2 1108.1,494C1110.7,493.9 1113.1,493.2 1116,492.7C1118.8,492.2 1122.3,491.5 1125.1,490.9C1127.9,490.2 1130.3,489.7 1132.9,488.8C1135.5,487.9 1138.2,486.8 1140.8,485.7C1143.4,484.5 1146,483.1 1148.6,481.7C1151.2,480.4 1153.8,479.1 1156.4,477.8C1159,476.5 1161.7,475 1164.3,473.9C1166.9,472.8 1169.5,472.1 1172.1,471.3C1174.7,470.5 1177.3,470 1179.9,469.2C1182.5,468.4 1185.5,467.3 1187.8,466.6C1190.1,465.9 1192.8,465.1 1193.8,464.8" fill="none" stroke="#ff3dab" stroke-width="1.5" stroke-linejoin="round" stroke-linecap="round"/>
<path clip-path="url(#cpf)" d="M847.1,630.1C853.3,630 873.6,629.9 884.2,629.8C894.7,629.7 903.3,629.5 910.3,629.3C917.2,629.1 921.8,629 925.9,628.5C930.1,628 932.7,627.5 935.1,626.4C937.5,625.3 938.8,623.1 940.3,622C941.8,620.8 942.9,619.8 944.2,619.3C945.5,618.9 946.8,619.3 948.1,619.3C949.4,619.3 950.7,619.6 952,619.3C953.4,619.1 954.7,618.6 956,618C957.3,617.5 958.6,617 959.9,616C961.2,614.9 962.5,613.8 963.8,611.5C965.1,609.3 966.4,606.3 967.7,602.4C969,598.5 970.3,593 971.6,588C972.9,583 974.2,577.6 975.5,572.3C976.9,567.1 978.2,562.1 979.5,556.7C980.8,551.2 982.1,545.8 983.4,539.7C984.7,533.6 986,526.7 987.3,520.1C988.6,513.6 989.9,506.4 991.2,500.5C992.5,494.7 993.8,489.5 995.1,484.9C996.4,480.3 997.7,477.5 999,473.1C1000.4,468.8 1001.6,464.6 1003,458.8C1004.3,452.9 1006,445.3 1007.1,437.9C1008.2,430.5 1008.8,420.7 1009.7,414.4C1010.6,408.1 1011.5,403.4 1012.3,400C1013.1,396.7 1013.9,395.2 1014.7,394.3C1015.4,393.4 1016.1,393.4 1016.7,394.8C1017.4,396.2 1018.1,398.9 1018.8,402.6C1019.6,406.3 1020.4,412.2 1021.2,417C1022,421.8 1022.8,427.1 1023.8,431.4C1024.8,435.6 1026,439.3 1027.2,442.6C1028.4,445.8 1029.8,448.7 1031.1,450.9C1032.4,453.2 1033.7,454.8 1035,456.2C1036.3,457.6 1037.6,458.5 1038.9,459.3C1040.2,460.1 1041.6,460.2 1042.9,460.9C1044.2,461.6 1045.5,462.5 1046.8,463.5C1048.1,464.4 1049.4,465.9 1050.7,466.6C1052,467.3 1053.3,467.9 1054.6,467.9C1055.9,467.9 1057.2,467 1058.5,466.6C1059.8,466.2 1061.3,465.6 1062.4,465.6C1063.6,465.5 1064.5,465.6 1065.6,466.1C1066.7,466.6 1067.8,467.6 1069,468.7C1070.2,469.8 1071.4,471.2 1072.9,472.6C1074.4,474 1076.1,475.4 1078.1,477C1080.1,478.7 1082.5,480.6 1084.6,482.3C1086.8,483.9 1089,485.6 1091.2,487C1093.3,488.4 1095.5,489.5 1097.7,490.6C1099.9,491.8 1101.8,493 1104.2,494C1106.6,495.1 1109.4,496.2 1112,496.9C1114.7,497.6 1117.3,498.1 1119.9,498.2C1122.5,498.3 1125.1,497.9 1127.7,497.4C1130.3,497 1132.9,496.2 1135.5,495.6C1138.2,495 1140.8,494.6 1143.4,493.8C1146,492.9 1148.6,492 1151.2,490.6C1153.8,489.3 1156.4,487.3 1159,485.7C1161.7,484.1 1164.3,482.4 1166.9,481C1169.5,479.5 1172.1,478.4 1174.7,477C1177.3,475.7 1180.2,474.1 1182.5,472.6C1184.9,471.1 1187.2,469.2 1189.1,467.9C1190.9,466.6 1193,465.3 1193.8,464.8" fill="none" stroke="#4cc4fa" stroke-width="1.5" stroke-linejoin="round" stroke-linecap="round"/>
<rect x="847.5" y="352.5" width="346.2" height="278.2" fill="none" stroke="#1a1a1a" stroke-width="1.6"/>
<path d="M847.5,630.7v5.3M916.7,630.7v5.3M986.0,630.7v5.3M1055.2,630.7v5.3M1124.5,630.7v5.3M1193.7,630.7v5.3" stroke="#1a1a1a" stroke-width="1.6" fill="none"/>
<path d="M882.1,630.7v2.8M951.4,630.7v2.8M1020.6,630.7v2.8M1089.8,630.7v2.8M1159.1,630.7v2.8" stroke="#1a1a1a" stroke-width="1.6" fill="none"/>
<text x="847.5" y="652.4" font-size="16" text-anchor="middle" fill="#000">7680</text>
<text x="916.7" y="652.4" font-size="16" text-anchor="middle" fill="#000">7700</text>
<text x="986.0" y="652.4" font-size="16" text-anchor="middle" fill="#000">7720</text>
<text x="1055.2" y="652.4" font-size="16" text-anchor="middle" fill="#000">7740</text>
<text x="1124.5" y="652.4" font-size="16" text-anchor="middle" fill="#000">7760</text>
<text x="1193.7" y="652.4" font-size="16" text-anchor="middle" fill="#000">7780</text>
<text x="1020.6" y="677.7" font-size="16" text-anchor="middle" fill="#000">Energy (eV)</text>
<text transform="translate(836.0,491.6) rotate(-90)" font-size="16" text-anchor="middle">XANES (a.u.)</text>
<text x="815.5" y="379.2" font-size="28" text-anchor="start" fill="#000" font-weight="bold">f</text>
<text x="853.8" y="370.9" font-size="14.5" text-anchor="start" fill="#000">Co K-edge</text>
<path d="M1040.2,364.5H1069.8" stroke="#4fb0a8" stroke-width="1.25"/>
<text x="1073.7" y="368.9" font-size="13" text-anchor="start" fill="#000">Co foil</text>
<path d="M1040.2,380.9H1069.8" stroke="#b5dc2c" stroke-width="1.25"/>
<text x="1073.7" y="385.0" font-size="13" text-anchor="start" fill="#000">C-CoO</text>
<path d="M1040.2,396.9H1069.8" stroke="#ff3dab" stroke-width="1.25"/>
<text x="1073.7" y="400.9" font-size="13" text-anchor="start" fill="#000">MD-RuZrCoCrCeO<tspan font-size="9" dy="3.2">2</tspan><tspan dy="-3.2" font-size="1">&#8203;</tspan></text>
<path d="M1040.2,416.2H1069.8" stroke="#4cc4fa" stroke-width="1.25"/>
<text x="1073.7" y="420.5" font-size="13" text-anchor="start" fill="#000">C-Co<tspan font-size="9" dy="3.2">3</tspan><tspan dy="-3.2" font-size="1">&#8203;</tspan>O<tspan font-size="9" dy="3.2">4</tspan><tspan dy="-3.2" font-size="1">&#8203;</tspan></text>
<path clip-path="url(#cpg)" d="M42.5,976.2C43.7,976.5 47.4,977.5 49.9,978C52.3,978.5 54.8,979.2 57.3,979.2C59.7,979.2 62.4,977.8 64.7,978C66.9,978.1 68.8,979.9 70.8,979.9C72.9,979.9 74.9,978.2 77,978C79.1,977.8 81.1,978.8 83.2,978.7C85.2,978.6 87.3,977.6 89.3,977.2C91.4,976.8 93.7,976.1 95.5,976.2C97.4,976.4 99,977.4 100.4,978C101.9,978.6 102.9,980.1 104.1,979.9C105.4,979.7 106.6,977.8 107.8,976.7C109.1,975.7 110.3,974.2 111.5,973.5C112.8,972.8 114.1,972.4 115.2,972.5C116.4,972.7 117.4,973.8 118.4,974.3C119.5,974.8 120.3,976.1 121.4,975.5C122.5,974.9 123.9,973 125.1,970.6C126.3,968.1 127.6,963.8 128.8,960.7C130,957.6 131.3,954.7 132.5,952.1C133.7,949.4 135,947.1 136.2,944.7C137.4,942.2 138.7,940.6 139.9,937.3C141.1,934 142.5,929.9 143.6,924.9C144.7,920 145.6,914.7 146.6,907.7C147.5,900.7 148.5,892 149.5,883C150.5,874 151.5,863.7 152.5,853.4C153.5,843.1 154.5,831.6 155.4,821.3C156.4,811.1 157.4,800.4 158.4,791.7C159.4,783.1 160.4,775.5 161.4,769.5C162.3,763.6 163.2,759.1 164.1,756C164.9,752.8 165.8,751.2 166.5,750.5C167.3,749.8 168,750.3 168.8,751.8C169.5,753.3 170.4,755.5 171.2,759.7C172.1,763.9 173,769.9 173.9,776.9C174.8,783.9 175.8,792.6 176.7,801.6C177.6,810.6 178.5,820.9 179.4,831.2C180.3,841.5 181.2,852.6 182.1,863.3C183,874 183.9,885.1 184.8,895.3C185.7,905.6 186.6,915.9 187.5,924.9C188.4,934 189.2,943 190,949.6C190.8,956.2 191.5,961 192.2,964.4C192.9,967.8 193.4,968.9 194.2,969.8C194.9,970.7 195.7,970.2 196.6,969.8C197.6,969.4 198.7,967.8 199.8,967.4C201,967 202,967.1 203.3,967.4C204.6,967.6 206.2,968.5 207.7,968.8C209.3,969.2 211.5,969.7 212.7,969.3C213.9,969 214,968.5 215,966.9C216,965.2 217.5,962 218.7,959.5C219.9,956.9 221.2,954 222.4,951.6C223.6,949.2 224.9,946.8 226.1,945.2C227.3,943.5 228.6,942.4 229.8,941.7C231,941.1 232.3,940.8 233.5,941.2C234.7,941.6 236,942.7 237.2,944.2C238.4,945.7 239.7,948.2 240.9,950.1C242.1,952 243.4,954.2 244.6,955.8C245.8,957.3 247.1,958.6 248.3,959.5C249.5,960.3 250.8,960.9 252,960.7C253.2,960.5 254.5,959.7 255.7,958.2C256.9,956.8 258.2,954.5 259.4,952.1C260.6,949.6 261.9,946.5 263.1,943.4C264.3,940.4 265.6,936.4 266.8,933.6C268,930.7 269.3,928 270.5,926.2C271.7,924.3 273.1,923.1 274.2,922.5C275.3,921.9 276.1,922 277.2,922.5C278.2,923 279.2,923.9 280.4,925.4C281.5,927 282.8,929.8 284.1,931.8C285.3,933.9 286.5,936.2 287.8,937.8C289,939.3 290.2,940.2 291.5,941C292.7,941.7 293.7,941.9 295.2,942.2C296.6,942.5 298.5,942.2 300.1,942.7C301.7,943.2 303.4,944 305,945.2C306.7,946.3 308.3,948 310,949.6C311.6,951.2 313.3,953.2 314.9,955C316.5,956.9 318.2,958.8 319.8,960.7C321.5,962.6 323.1,964.7 324.8,966.4C326.4,968 328.1,969.5 329.7,970.6C331.3,971.7 333,972.5 334.6,973C336.3,973.6 337.9,973.6 339.6,973.8C341.2,974 342.7,973.9 344.5,974.3C346.4,974.7 348.6,975.5 350.7,976.2C352.7,977 354.8,978.1 356.8,978.7C358.9,979.3 360.9,979.9 363,979.9C365.1,979.9 367.1,979.2 369.2,978.7C371.2,978.3 373.1,977.4 375.3,977.2C377.6,977.1 380.4,977.6 382.7,978C385.1,978.3 388.3,979 389.4,979.2" fill="none" stroke="#4fb0a8" stroke-width="1.5" stroke-linejoin="round" stroke-linecap="round"/>
<path clip-path="url(#cpg)" d="M42.5,973.8C44.1,973.8 49,973.9 52.3,973.8C55.6,973.7 59.1,973.3 62.2,973C65.3,972.8 68.4,973 70.8,972.3C73.3,971.6 74.9,970.4 77,968.8C79.1,967.3 81.1,965.1 83.2,963.2C85.2,961.2 87.3,958.8 89.3,957C91.4,955.2 93.4,953.6 95.5,952.6C97.6,951.5 99.6,951.4 101.7,950.8C103.7,950.3 105.8,950.1 107.8,949.1C109.9,948.1 111.9,946.6 114,944.7C116.1,942.8 118.1,940 120.2,937.8C122.2,935.5 124.5,933 126.3,931.1C128.2,929.2 129.8,927.4 131.3,926.2C132.7,925 133.7,924.2 135,923.9C136.2,923.7 137.4,923.7 138.7,924.4C139.9,925.2 141.1,926.3 142.4,928.6C143.6,931 144.8,934.4 146.1,938.5C147.3,942.6 148.6,948.2 149.8,953.3C150.9,958.4 152.1,965.5 153,969.3C153.8,973.2 154.2,975.6 154.9,976.2C155.6,976.9 156.4,975.4 157.2,973C157.9,970.7 158.6,965.8 159.6,961.9C160.7,958 162.1,953.3 163.3,949.6C164.6,945.9 165.8,943 167,939.7C168.3,936.4 169.5,933.6 170.7,929.9C172,926.2 173.2,922.5 174.4,917.5C175.7,912.6 176.9,906.8 178.1,900.3C179.4,893.7 180.7,885.1 181.8,878.1C183,871.1 184,863.7 185,858.3C186.1,853 187.1,848.9 188,846C188.9,843.1 189.6,841.8 190.5,841.1C191.3,840.3 192,840.3 192.9,841.6C193.8,842.8 194.9,844.4 195.9,848.5C196.9,852.5 198,858.7 199.1,865.7C200.2,872.7 201.3,881.8 202.3,890.4C203.3,899 204.3,908.9 205.3,917.5C206.3,926.2 207.3,935.2 208.2,942.2C209.2,949.2 210.1,955 210.9,959.5C211.8,963.9 212.7,966.6 213.4,968.8C214.1,971.1 213.9,972.5 215,973C216.1,973.6 218.3,972.2 219.9,972.3C221.6,972.4 223.2,973.7 224.9,973.8C226.5,973.9 228.2,973.9 229.8,973C231.4,972.2 233.1,970.8 234.7,968.8C236.4,966.9 238,964 239.7,961.4C241.3,958.9 243,955.9 244.6,953.3C246.2,950.7 248,948 249.5,945.9C251.1,943.8 252.7,942 254,941C255.3,939.9 256.2,939.5 257.4,939.7C258.7,939.9 260,941.1 261.4,942.2C262.7,943.4 264.3,945.5 265.6,946.6C266.9,947.8 268,948.7 269.3,949.1C270.5,949.5 271.5,949.5 273,949.1C274.4,948.7 276.3,947.4 277.9,946.6C279.5,945.9 281.2,945.1 282.8,944.7C284.5,944.2 286.1,944.4 287.8,943.9C289.4,943.4 291.1,943 292.7,941.7C294.3,940.4 296,937.8 297.6,936C299.3,934.3 301.1,932.3 302.6,931.1C304,929.9 305,929.2 306.3,928.6C307.5,928.1 308.7,927.8 310,927.9C311.2,928 312.2,928.4 313.7,929.4C315.1,930.3 317,931.8 318.6,933.6C320.2,935.3 321.9,937.3 323.5,939.7C325.2,942.2 326.8,945.5 328.5,948.4C330.1,951.2 331.8,954.3 333.4,957C335,959.7 337,962.8 338.3,964.4C339.7,966 340.3,966.9 341.3,966.9C342.3,966.9 343.4,966.3 344.5,964.4C345.7,962.6 347,958.7 348.2,955.8C349.4,952.8 350.7,949.1 351.9,946.6C353.1,944.2 354.4,942.2 355.6,941C356.8,939.7 358.2,939.4 359.3,939.2C360.5,939 361.4,939 362.5,939.7C363.6,940.4 364.8,941.4 366,943.4C367.2,945.5 368.4,948.8 369.7,952.1C370.9,955.4 372.1,959.9 373.4,963.2C374.6,966.5 375.9,969.5 377.1,971.8C378.2,974.1 379.2,976 380.3,976.7C381.3,977.5 382.2,977 383.2,976.2C384.3,975.5 385.4,973.4 386.4,972.3C387.5,971.1 388.9,969.8 389.4,969.3" fill="none" stroke="#b5dc2c" stroke-width="1.5" stroke-linejoin="round" stroke-linecap="round"/>
<path clip-path="url(#cpg)" d="M42.5,978C43.7,977.8 47.6,977.6 49.9,977.2C52.1,976.8 54,975.8 56,975.5C58.1,975.2 60.1,975.3 62.2,975.5C64.3,975.7 66.3,976.7 68.4,976.7C70.4,976.7 72.7,976.2 74.5,975.5C76.4,974.8 77.8,973.1 79.5,972.3C81.1,971.5 82.8,971 84.4,970.6C86,970.2 87.9,970.7 89.3,969.8C90.8,969 91.6,968 93,965.6C94.5,963.3 96.1,959.3 98,955.8C99.8,952.3 102.1,948 104.1,944.7C106.2,941.4 108.5,938.9 110.3,936C112.2,933.2 113.6,930.3 115.2,927.4C116.9,924.5 118.7,921 120.2,918.8C121.6,916.5 122.8,914.9 123.9,913.8C125,912.8 125.8,912.4 126.8,912.6C127.9,912.8 128.9,913.2 130,915.1C131.2,916.9 132.5,920 133.7,923.7C135,927.4 136.2,932.1 137.4,937.3C138.7,942.4 140,949.6 141.1,954.5C142.2,959.5 143.2,964.1 144.1,966.9C145,969.7 145.7,971.1 146.6,971.3C147.4,971.5 148.2,969.5 149,968.1C149.9,966.7 150.7,964.3 151.5,963.2C152.3,962 153.1,961.2 154,961.2C154.8,961.2 155.5,961.6 156.4,963.2C157.4,964.7 158.6,968.1 159.6,970.6C160.7,973 161.9,976.4 162.6,978C163.3,979.5 163.5,980.1 164.1,979.9C164.6,979.7 165,978.7 165.8,976.7C166.6,974.8 167.7,970.8 168.8,968.1C169.8,965.4 170.9,962.6 172,960.7C173,958.9 174.1,957.7 175.2,957C176.2,956.3 177.1,956.1 178.1,956.3C179.1,956.5 180.1,957.1 181.1,958.2C182.1,959.4 183.2,961.3 184.3,963.2C185.5,965 186.8,967.9 188,969.3C189.2,970.8 190.5,971.5 191.7,971.8C192.9,972.1 194,971.2 195.4,971.3C196.8,971.4 198.7,971.6 200.3,972.3C202,973 203.8,974.6 205.3,975.5C206.7,976.4 207.7,978 209,978C210.2,978 211.7,976.9 212.7,975.5C213.7,974.1 213.8,971 215,969.3C216.2,967.7 218.3,966.6 219.9,965.6C221.6,964.7 223.2,964 224.9,963.7C226.5,963.3 228.2,963.3 229.8,963.7C231.4,964 233.1,964.8 234.7,965.6C236.4,966.5 237.8,967.9 239.7,968.8C241.5,969.8 243.8,970.8 245.8,971.3C247.9,971.8 249.9,971.5 252,971.8C254.1,972.1 256.1,972.4 258.2,973C260.2,973.7 262.3,975 264.3,975.5C266.4,976 268.4,976.3 270.5,976.2C272.6,976.2 274.4,975.5 276.7,975C278.9,974.5 281.6,973.5 284.1,973C286.5,972.6 289,972.3 291.5,972.3C293.9,972.3 296.4,972.9 298.9,973.3C301.3,973.7 303.8,974.4 306.3,974.8C308.7,975.1 311.4,975 313.7,975.5C315.9,976 318.1,977.1 319.8,978C321.6,978.8 322.8,980.4 324,980.4C325.3,980.4 326.1,979 327.2,978C328.4,976.9 329.5,975.2 330.9,974.3C332.4,973.3 334.2,972.6 335.9,972.3C337.5,972 339.2,972.1 340.8,972.3C342.4,972.5 343.9,973 345.7,973.5C347.6,974.1 349.8,974.9 351.9,975.5C354,976.1 355.8,977 358.1,977.2C360.3,977.4 363,976.9 365.5,976.7C367.9,976.6 370.4,976.2 372.9,976.2C375.3,976.3 377.5,976.8 380.3,977.2C383,977.6 387.9,978.5 389.4,978.7" fill="none" stroke="#ff3dab" stroke-width="1.5" stroke-linejoin="round" stroke-linecap="round"/>
<path clip-path="url(#cpg)" d="M42.5,979.2C43.7,979.3 47.4,980 49.9,979.9C52.3,979.9 54.8,979.2 57.3,978.7C59.7,978.2 62.4,976.9 64.7,976.7C66.9,976.6 68.8,978.2 70.8,978C72.9,977.8 75.4,976.2 77,975.5C78.6,974.8 79.5,973.7 80.7,973.8C81.9,973.9 83.3,975.3 84.4,976.2C85.5,977.1 86.3,979.5 87.4,979.2C88.4,978.9 89.2,977.6 90.6,974.3C91.9,971 93.9,963.8 95.5,959.5C97.1,955.2 98.8,951.3 100.4,948.4C102.1,945.4 103.7,943.8 105.4,941.7C107,939.7 108.9,938.4 110.3,936C111.7,933.7 112.8,931.3 114,927.4C115.2,923.5 116.5,917.3 117.7,912.6C118.9,907.9 119.9,902.7 120.9,899C121.9,895.4 123,892.7 123.9,890.9C124.8,889.1 125.5,888.6 126.3,888.4C127.2,888.3 127.9,888.3 128.8,889.9C129.7,891.5 130.7,894 131.8,897.8C132.8,901.6 133.9,906.8 135,912.6C136,918.4 137.1,925.8 138.2,932.3C139.2,938.9 140.2,946.5 141.1,952.1C142,957.6 142.9,962.7 143.6,965.6C144.3,968.6 144.9,969.8 145.6,969.8C146.2,969.8 146.8,968 147.5,965.6C148.3,963.3 149.2,958.2 150,955.8C150.8,953.3 151.7,951.8 152.5,950.8C153.3,949.9 153.9,949.7 154.7,950.1C155.5,950.5 156.3,951.7 157.2,953.3C158,954.9 158.9,958.2 159.6,959.5C160.3,960.7 160.7,961.3 161.4,960.7C162,960.1 162.5,959.3 163.3,955.8C164.2,952.3 165.3,946.1 166.3,939.7C167.3,933.4 168.4,924.1 169.5,917.5C170.6,911 171.7,905 172.7,900.3C173.7,895.5 174.7,891.8 175.7,889.2C176.7,886.5 177.7,885.1 178.6,884.2C179.5,883.3 180.3,883.3 181.1,883.7C181.9,884.2 182.6,884.8 183.6,886.7C184.5,888.6 185.6,891.6 186.8,895.3C187.9,899 189.2,904.6 190.5,908.9C191.7,913.2 192.9,917.7 194.2,921.2C195.4,924.7 196.6,927.9 197.9,929.9C199.1,931.8 200.3,932.9 201.6,933.1C202.8,933.3 204,932.3 205.3,931.1C206.5,930 207.7,927.5 209,926.2C210.2,924.8 211.7,923.4 212.7,923C213.7,922.6 214.2,923.2 215,923.7C215.8,924.2 216.6,924.7 217.5,926.2C218.3,927.6 219,929.5 219.9,932.3C220.8,935.2 221.9,939.5 222.9,943.4C223.9,947.3 225,952.1 226.1,955.8C227.2,959.5 228.2,963 229.3,965.6C230.4,968.3 231.5,970.3 232.8,971.8C234,973.3 235.4,974.4 236.7,974.8C238.1,975.2 239.4,974.8 240.9,974.3C242.4,973.7 244.2,972.1 245.8,971.3C247.5,970.5 249.3,969.6 250.8,969.3C252.2,969.1 253.2,969.2 254.5,969.8C255.7,970.4 256.9,971.9 258.2,973C259.4,974.2 260.8,976.2 261.9,976.7C262.9,977.3 263.4,977.1 264.3,976.2C265.2,975.4 266.3,973.4 267.3,971.8C268.3,970.2 269.3,968.2 270.5,966.9C271.7,965.6 273,964.5 274.2,963.9C275.4,963.3 276.7,963 277.9,963.2C279.1,963.3 280.4,964.1 281.6,964.9C282.8,965.7 284.1,967.4 285.3,968.1C286.5,968.8 287.5,969.3 288.5,968.8C289.5,968.4 290.4,967.4 291.5,965.6C292.6,963.9 293.9,960.9 295.2,958.2C296.4,955.6 297.6,952.1 298.9,949.6C300.1,947.1 301.3,945.1 302.6,943.4C303.8,941.8 305,940.4 306.3,939.7C307.5,939 308.7,938.9 310,939.2C311.2,939.6 312.4,940.4 313.7,941.7C314.9,943 316.1,944.8 317.4,947.1C318.6,949.5 319.8,952.9 321.1,955.8C322.3,958.6 323.5,961.7 324.8,964.4C326,967.1 327.2,969.8 328.5,971.8C329.7,973.8 330.9,975.7 332.2,976.2C333.4,976.7 334.6,975.7 335.9,974.8C337.1,973.8 338.3,971.8 339.6,970.6C340.8,969.4 342,968.2 343.3,967.6C344.5,967 345.7,966.8 347,966.9C348.2,967 349.4,967.3 350.7,968.1C351.9,968.9 353.1,970.4 354.4,971.8C355.6,973.2 356.8,974.9 358.1,976.2C359.3,977.6 360.5,979.4 361.8,979.7C363,980 364,978.9 365.5,978C366.9,977.1 368.8,975.3 370.4,974.3C372,973.2 373.7,972.2 375.3,971.8C377,971.4 378.6,971.6 380.3,971.8C381.9,972 383.7,972.9 385.2,973C386.7,973.2 388.7,972.6 389.4,972.5" fill="none" stroke="#4cc4fa" stroke-width="1.5" stroke-linejoin="round" stroke-linecap="round"/>
<rect x="42.0" y="701.8" width="346.7" height="279.6" fill="none" stroke="#1a1a1a" stroke-width="1.6"/>
<path d="M42.0,981.4v5.3M157.6,981.4v5.3M273.1,981.4v5.3M388.7,981.4v5.3" stroke="#1a1a1a" stroke-width="1.6" fill="none"/>
<path d="M99.8,981.4v2.8M215.3,981.4v2.8M330.9,981.4v2.8" stroke="#1a1a1a" stroke-width="1.6" fill="none"/>
<text x="42.0" y="1003.1" font-size="16" text-anchor="middle" fill="#000">0</text>
<text x="157.6" y="1003.1" font-size="16" text-anchor="middle" fill="#000">2</text>
<text x="273.1" y="1003.1" font-size="16" text-anchor="middle" fill="#000">4</text>
<text x="388.7" y="1003.1" font-size="16" text-anchor="middle" fill="#000">6</text>
<text x="215.3" y="1028.4" font-size="16" text-anchor="middle" fill="#000">R (&#197;)</text>
<text transform="translate(29.5,841.6) rotate(-90)" font-size="16" text-anchor="middle">|FT(k<tspan font-size="10.5" dy="-5.8">2</tspan><tspan dy="5.8" font-size="1">&#8203;</tspan><tspan dy="1.8">&#967;</tspan><tspan dy="-1.8">(</tspan>k))| (&#197;<tspan font-size="10.5" dy="-5.8">&#8722;3</tspan><tspan dy="5.8" font-size="1">&#8203;</tspan>)</text>
<text x="4.5" y="729.2" font-size="28" text-anchor="start" fill="#000" font-weight="bold">g</text>
<text x="49.0" y="720.4" font-size="14.5" text-anchor="start" fill="#000">Co K-edge</text>
<path d="M235.2,715.0H265.0" stroke="#4fb0a8" stroke-width="1.25"/>
<text x="269.0" y="719.0" font-size="13" text-anchor="start" fill="#000">Co foil</text>
<path d="M235.2,731.0H265.0" stroke="#b5dc2c" stroke-width="1.25"/>
<text x="269.0" y="735.0" font-size="13" text-anchor="start" fill="#000">C-CoO</text>
<path d="M235.2,747.4H265.0" stroke="#ff3dab" stroke-width="1.25"/>
<text x="269.0" y="751.4" font-size="13" text-anchor="start" fill="#000">MD-RuZrCoCrCeO<tspan font-size="9" dy="3.2">2</tspan><tspan dy="-3.2" font-size="1">&#8203;</tspan></text>
<path d="M235.2,766.5H265.0" stroke="#4cc4fa" stroke-width="1.25"/>
<text x="269.0" y="770.6" font-size="13" text-anchor="start" fill="#000">C-Co<tspan font-size="9" dy="3.2">3</tspan><tspan dy="-3.2" font-size="1">&#8203;</tspan>O<tspan font-size="9" dy="3.2">4</tspan><tspan dy="-3.2" font-size="1">&#8203;</tspan></text>
<text x="147.8" y="747.8" font-size="14.5" text-anchor="start" fill="#000">Co-Co</text>
<text x="108.6" y="886.0" font-size="14.5" text-anchor="start" fill="#000">Co-O</text>
<text x="182.6" y="836.1" font-size="14.5" text-anchor="start" fill="#000">Co-O-Co</text>
<text x="214.5" y="907.7" font-size="14.5" text-anchor="start" fill="#000">Co-O-Ru</text>
<path d="M240.5,909.2L183.3,949.4" stroke="#000" stroke-width="1.2"/>
<path d="M176.3,954.3L182.6,946.7L185.6,951.0Z" fill="#000"/>
<g shape-rendering="geometricPrecision"><rect x="448.8" y="701.6" width="344.9" height="279.2" fill="#084f9a"/>
<path fill="#08549e" d="M449,981l344.5,0l0,-39l-12,0l-18,-1l-22,-2l-5.5,-1.5l6,-1.5l10.5,-1.5l7,-1.5l2,-1.5l0.5,-4.5l2,-3l5,-4.5l6.5,-4.5l6,-3l6,-2l6,-1.5l0,-207l-344.5,0z"/>
<path fill="#085aa2" d="M449,981l269,0l4,-1.5l9.5,-1.5l16.5,-1.5l26,-1.5l19.5,0l0,-15l-7.5,0l-9,-0.5l-7.5,-1l-7.5,-1.5l-9,-2l-7.5,-3l-6,-2.5l-8,-4.5l-3.5,-1.5l-7,-1.5l-29,-3l-5,-1.5l25.5,-3l8.5,-1.5l3.5,-1.5l5.5,-4.5l4.5,-3l29,-18.5l6,-3l7.5,-3.5l7.5,-2.5l9,-3l0,-192l-344.5,0l0,102l1.5,1l1.5,2l0.5,3l-0.5,3l-1.5,2.5l-1.5,1zM511.5,838l3.5,-0.5l2.5,0.5l-0.5,1.5l-2,0.5l-2.5,-0.5z"/>
<path fill="#0860a6" d="M449,969l169.5,0.5l27.5,-0.5l17,-2l5.5,-1l2,-1.5l2,-4.5l5.5,-7l1.5,-2l0.5,-3l-0.5,-1.5l-1,-1.5l-3,-1.5l-10.5,-1.5l-49,-3l-1.5,-1.5l56,-3.5l13.5,-1l9,-2l16.5,-6.5l13.5,-5.5l8,-4l14.5,-9.5l8,-4.5l12.5,-6l27.5,-12l0,-181.5l-311,0l-2.5,3l-2.5,2l-4,2.5l-3.5,1.5l-4.5,1.5l-6,1.5l-4.5,0.5l-6,0l0,77l3,0.5l2.5,1.5l2,2l2,2.5l1.5,3l1.5,3l0.5,3l0.5,4.5l0,4l-1,3.5l-1,4.5l-2,3l-2,3l-1.5,1.5l-3,2l-3,1zM504.5,838l1,-1.5l3,-1.5l3.5,-0.5l3,0l3,0.5l3,1l1.5,0.5l1,1.5l0,1.5l-2,1.5l-3.5,1.5l-3,0.5l-4.5,-0.5l-4,-1.5l-1.5,-1.5z"/>
<path fill="#0865aa" d="M449,951.5l13.5,1l19.5,0.5l39,0l18,0l16.5,-1l14.5,-1l11,-1.5l6,-1.5l2.5,-1.5l-0.5,-1.5l-5,-1.5l-14.5,-1.5l-47,-3l9.5,-1.5l79,-3.5l29.5,-1.5l12.5,-1l8.5,-1.5l13.5,-2.5l9,-1.5l16.5,-5l7.5,-2.5l6,-2.5l7.5,-4l14.5,-9.5l5.5,-3l19,-8.5l10,-5l11,-6l8.5,-6l3.5,-2.5l0,-100l-2,-23.5l-7.5,-46.5l-281,0l-1.5,3l-2,3l-4,5l-6,5.5l-7.5,4.5l-7.5,3.5l-7.5,3l-9,2l-9,1l0,49l4.5,1l4.5,3l4.5,5l2.5,4.5l2.5,6l1.5,6l1,7.5l0,7.5l0,6l-1,4.5l-1,3l-2,3l-3.5,3l-3,1.5l-4.5,2l-6,1.5l0,91.5l8,1.5l-8,1zM498.5,838l0.5,-1.5l2,-1.5l3,-1.5l5,-1l4.5,0l4.5,0.5l4.5,1l3,1.5l1,1l0.5,1.5l0,1.5l-1,1.5l-2.5,1.5l-5.5,1.5l-4.5,0.5l-5,-0.5l-5.5,-1.5l-2.5,-1.5l-1.5,-1.5z"/>
<path fill="#086daf" d="M449,933l25.5,1l30,0.5l33,-0.5l34.5,-1l31.5,-1.5l26.5,-2l19.5,-2l19.5,-3l9,-1.5l10.5,-2.5l8.5,-2.5l6.5,-3l6.5,-3l11.5,-8l5,-3l6,-3l25,-11l7.5,-4l7.5,-5l5.5,-4l3,-3l5.5,-6l1.5,-3l2,-4.5l1,-3l0,-4.5l0,-4.5l-1,-4.5l-5,-18l-2,-9l-0.5,-9l0,-30l-0.5,-18l-1.5,-15l-5.5,-40.5l-257.5,0l-2.5,6l-3.5,4.5l-4.5,6l-5.5,5.5l-7.5,6.5l-7.5,5l-7.5,5l-16,9.5l-4.5,3l-3.5,3l-1,1.5l-0.5,1.5l-0.5,1.5l0.5,1.5l1,3l9.5,12.5l3,4.5l3,6l3.5,10l7,24.5l2.5,5.5l2,3l1.5,1.5l1.5,0.5l1.5,0.5l3,-0.5l9,-1.5l6,-0.5l6,0l6,0.5l4.5,1.5l3,1l1.5,1l1.5,2l0.5,1.5l0,1.5l-1,1.5l-2,1.5l-3,1.5l-5,1.5l-6,0.5l-6,0l-4.5,-1l-4.5,-1l-10.5,-3l-3,0l-3,0.5l-9.5,4l-8.5,3l-15,4zM551.5,821.5l2.5,-1l1.5,-0.5l1.5,0.5l1.5,1l-1.5,1.5l-1.5,0l-1.5,0zM687,830.5l0,-1.5l3,0l0.5,1.5zM555.5,750.5l-1.5,-1l-0.5,-1.5l0,-3l0.5,-1l1.5,-1l1.5,0l0.5,0.5l1,1.5l0,3l-0.5,1.5l-1,1z"/>
<path fill="#0876b5" d="M449,930.5l27,1l25.5,0.5l28.5,0l28.5,-1l36,-1.5l26.5,-2l25.5,-2.5l16.5,-2.5l9,-1.5l9,-2l7.5,-2l6,-2.5l7.5,-4l9,-6.5l5,-3l9,-4.5l25,-11l7.5,-4l7,-4.5l7,-6l3,-3l3,-4.5l1.5,-3l1.5,-3l0.5,-3l0.5,-4.5l-1,-7.5l-3.5,-15l-1.5,-10.5l0,-12l1,-31.5l-0.5,-16.5l-1.5,-16.5l-5.5,-39l-238.5,0l-2,4.5l-2.5,4.5l-3,4.5l-4.5,6l-9.5,10.5l-19.5,18l-6.5,7.5l-3,4.5l-1.5,3l-1,4.5l-0.5,4.5l0.5,6l1,6l5,17l3.5,10l2.5,4.5l3,3.5l2,2.5l2.5,1.5l3.5,1.5l19,3l4.5,1l4.5,2l3,1.5l1.5,1.5l0.5,1.5l0.5,1.5l0,1.5l-1,1.5l-1.5,1.5l-2.5,1.5l-4,1.5l-4,1l-9,1l-18,-0.5l-6,0l-4.5,1l-19.5,5l-15,4zM545.5,821.5l1,-1.5l3,-1l3,-0.5l3,-0.5l4,0.5l3.5,1.5l1,1.5l-1,1.5l-3,1.5l-3,1l-3,0l-3,-0.5l-3,-0.5l-2,-1.5zM623.5,830.5l1,-1.5l2.5,-1l3,0l3,0l4,1l1,1.5l-1,1.5l-4,1.5l-3,0l-4.5,-0.5l-1,-1zM681,830.5l0,-1.5l1.5,-1.5l4.5,-1l3,0l4.5,1l1.5,1.5l0.5,1.5l-2,1.5l-4.5,1.5l-3,0l-3,-0.5l-1.5,-1zM555.5,753.5l-1.5,-0.5l-2,-2l-1,-1.5l-0.5,-3l0.5,-3l1.5,-2.5l1.5,-1.5l1.5,-0.5l1.5,0l1.5,1l1.5,2l0.5,1.5l0.5,3l-0.5,3l-1,1.5l-1,2l-1.5,0.5zM682.5,789l-1.5,0l-1.5,-1.5l-0.5,-2l0,-1.5l0.5,-1.5l1.5,-1.5l1.5,0l1.5,0.5l1.5,1l0.5,1.5l0,1.5l-0.5,1.5l-1.5,1.5z"/>
<path fill="#0880bb" d="M449,928.5l22.5,1l28.5,0.5l24,0l28.5,-0.5l34.5,-1.5l28.5,-2l26.5,-2.5l16.5,-2.5l16.5,-3.5l7.5,-2l5.5,-2l6,-3.5l10.5,-7.5l5.5,-3l34,-15.5l7.5,-4l7,-4.5l4,-3l3,-3l2.5,-3l2,-3l2.5,-6l1,-3l0.5,-4.5l-0.5,-6l-2.5,-18l-1,-10.5l0,-10.5l1.5,-31.5l0,-10.5l-0.5,-9l-1.5,-18l-5.5,-34.5l-56.5,0l-2.5,1l-1.5,0.5l-3,-0.5l-1.5,-1l-155,0l-2,4.5l-2.5,4.5l-6.5,9l-8,9l-19.5,21l-5,6l-3.5,4.5l-3.5,6l-2.5,4.5l-1,4.5l-1,6l0,4.5l0.5,4.5l1,4.5l1,4.5l2,4.5l2,4.5l3,4.5l2.5,3l4.5,4.5l5,3l4,1.5l12.5,3.5l6,3l3,2.5l1,1.5l1,1.5l0,1.5l-0.5,1.5l-0.5,1.5l-1.5,1.5l-2.5,1.5l-3.5,1.5l-5.5,2l-9,1.5l-18,0.5l-7.5,1l-40.5,9.5zM540,823l0,-1.5l1,-1.5l2.5,-1.5l4.5,-1l4.5,-0.5l6,0l4.5,1l1.5,0.5l2,1.5l1,1.5l-0.5,1.5l-1.5,1.5l-1,1l-4.5,1l-4.5,1l-6,-0.5l-4.5,-0.5l-3.5,-2zM619.5,830.5l0.5,-1.5l2.5,-1.5l3,-0.5l4.5,-0.5l4.5,0l4.5,1l2,1.5l1,1.5l-0.5,1.5l-2.5,1.5l-4.5,1.5l-4.5,0.5l-4.5,-0.5l-3.5,-1.5l-2,-1.5zM677,830.5l0,-1.5l1.5,-1.5l2.5,-1.5l3,-0.5l4.5,-0.5l4.5,0.5l3,1l2.5,1l1,1.5l0,1.5l-1,1.5l-2.5,1.5l-4.5,1l-3,0.5l-4.5,-0.5l-3,-1l-3,-1.5zM555.5,756l-1.5,-0.5l-1.5,-1l-2,-2l-1.5,-3l-0.5,-4.5l1,-4.5l1.5,-2.5l1.5,-1.5l1.5,-0.5l1.5,-0.5l1.5,0.5l1.5,0.5l1.5,1.5l0.5,1l1.5,3l0.5,4.5l-1,4.5l-1.5,3l-1.5,1l-1.5,1zM681,791l-1.5,-0.5l-1.5,-2l-0.5,-1.5l-0.5,-3l1,-3l1.5,-1l1.5,-1l1.5,0l2.5,0.5l1.5,1.5l1,1.5l0.5,3l-1,2.5l-1.5,2l-1.5,1l-1.5,0z"/>
<path fill="#088bc1" d="M449,926.5l24,1.5l27,0.5l24,0l28.5,-0.5l33,-1.5l28.5,-2l25,-2.5l16.5,-2.5l15,-3l5.5,-1.5l5,-2.5l5,-2.5l11,-7.5l5,-3l34.5,-15.5l9.5,-5.5l7,-4.5l3.5,-3l3,-3l2.5,-3l2,-3l2.5,-6l0.5,-3l0.5,-4.5l0,-6l-2,-16.5l-0.5,-9l0.5,-10.5l2,-30l0,-10.5l0,-10.5l-1,-10.5l-1,-9l-6,-34.5l-46.5,0l-2,2.5l-3,2l-1.5,0.5l-3,0.5l-3,0l-3,-1l-3,-2.5l-1.5,-2l-134,0l-2.5,4.5l-3,4.5l-8.5,12l-27,27.5l-6.5,7l-4.5,6l-4.5,7.5l-2,6l-1.5,6l0,3l0,4.5l1,4.5l1,4.5l2.5,4.5l1.5,3l3.5,4.5l3.5,4l3,2.5l4.5,2.5l3,1.5l3,1l4.5,0l1.5,-0.5l6,-3.5l6,-2l6,-1l7.5,0l6,1l2,0.5l3,1.5l2,1.5l0.5,1.5l0,1.5l-1,1.5l-2,1.5l-4.5,2l-6,1l-10.5,1l-3,0.5l-1,1.5l1,4.5l-0.5,1.5l-0.5,1.5l-1,1.5l-4,3l-3,1.5l-4,1.5l-5,1.5l-6,1l-18,2l-9,1l-19.5,4.5l-24,5.5zM615.5,830.5l1,-1.5l2,-1l2.5,-1.5l4.5,-1l4.5,-0.5l6,0.5l4.5,1l3,2l1.5,0.5l0.5,1.5l-0.5,1.5l-1.5,1.5l-3,1.5l-4.5,1.5l-6,0.5l-6,-0.5l-4,-1.5l-3,-2l-1,-1zM674,830.5l0,-1.5l1,-1.5l3,-2l4.5,-1.5l6,-0.5l6,1l4.5,1.5l2.5,1.5l1,1.5l0,1.5l-0.5,1.5l-1.5,1l-3,1.5l-4.5,1.5l-4.5,0.5l-6,-0.5l-4.5,-1.5l-3.5,-2.5zM555.5,758l-3,-1l-2,-1.5l-1.5,-1.5l-2.5,-4.5l-0.5,-4.5l0,-4.5l0.5,-3l1.5,-2.5l1.5,-2l1.5,-1l3,-1l1.5,0.5l3,1l3,3l1.5,3.5l1,4.5l0,3l-0.5,3l-0.5,2.5l-1.5,2l-1.5,2.5l-1.5,0.5zM681,793l-2.5,-1.5l-2,-2l-1,-2.5l0,-3l1,-3l1.5,-2l1.5,-1l3,-0.5l2.5,0.5l2.5,1.5l1.5,3l0.5,3l-0.5,3l-2,2.5l-1.5,1l-1.5,1z"/>
<path fill="#0896c7" d="M449,925.5l22.5,1l27,0.5l25.5,0l27,-0.5l34.5,-1.5l27,-2l20.5,-2l18,-2.5l13.5,-3l6,-2l5,-1.5l5.5,-3.5l8.5,-6l5.5,-3l32.5,-15l11,-6l7,-4.5l7,-6l2.5,-3l2.5,-3l1.5,-3.5l1.5,-4l0.5,-3l0.5,-4.5l0,-6l-1,-16.5l0,-7.5l0.5,-9l3,-30l0,-10.5l0,-10.5l-1,-10.5l-1.5,-12l-2.5,-12l-5,-21l-36.5,0l-2,3l-4.5,3.5l-4.5,2l-4.5,0.5l-4.5,-1l-3,-1.5l-3,-2.5l-2.5,-4l-112.5,0l-4,6l-9,10.5l-1.5,3l-1,3l0.5,3l3,9l1,3l0.5,4.5l-1,6l-1,3l-1.5,3l-1,1.5l-3,2l-3,1l-3,-0.5l-3,-2l-2,-2l-2.5,-3l-3,-6l-1.5,-1.5l-1.5,-0.5l-1.5,0.5l-1.5,0.5l-4.5,3.5l-7.5,7l-5,5.5l-4.5,6l-3.5,6l-2,4.5l-1,4.5l-0.5,4.5l0.5,4.5l0.5,3l2,4.5l1.5,3l3,4.5l2.5,3l3,3l2.5,1.5l3.5,1.5l3.5,1l3,-0.5l12,-1.5l6,-0.5l6,0.5l6,0.5l4.5,1.5l4,2l1.5,1.5l1,1.5l0,1.5l-0.5,1.5l-1.5,2.5l-3,2l-13,4.5l-1.5,1.5l-3.5,4.5l-4,3l-6.5,3l-4,1.5l-5,1.5l-7.5,2l-24,3l-10.5,2l-21,4.5l-19.5,4.5zM611.5,832l0,-1.5l1,-1.5l2,-1.5l2.5,-1l5.5,-2l6,-0.5l7.5,0.5l6,1l5,2l1.5,1.5l0.5,1.5l-0.5,1.5l-1,1.5l-4,2.5l-6,1.5l-6,1l-7.5,-0.5l-5.5,-1l-4,-2l-2,-1.5zM670,830.5l0.5,-1.5l0.5,-1.5l2,-1.5l2.5,-1.5l5.5,-1.5l6,-1l7.5,1l6,1.5l2.5,1.5l1.5,1.5l1,1.5l0,1.5l-0.5,1.5l-1.5,1.5l-4.5,2.5l-6,1.5l-6,0l-6,-0.5l-6,-1.5l-3,-2l-1.5,-1.5zM682.5,795l-3,-0.5l-1.5,-1l-1.5,-1l-1,-2.5l-1,-1.5l-0.5,-3l0.5,-3l0.5,-1.5l1.5,-2.5l1.5,-1l1.5,-1l3,-0.5l3,1l1.5,0.5l1.5,1.5l2,3.5l0.5,3l-0.5,3l-2,3.5l-1.5,1.5l-1.5,1z"/>
<path fill="#08a1cd" d="M449,924l25.5,1.5l21,0.5l24,0l25.5,-0.5l28.5,-1l28.5,-2l25,-2l19,-2.5l14,-3l4.5,-1.5l4.5,-2l5,-3l9,-6l5.5,-3l32.5,-15l8,-4.5l9,-6l7.5,-6l4,-4.5l3.5,-6l2,-6l0.5,-4.5l0.5,-4.5l-0.5,-16.5l0,-9l4,-30l1,-13.5l0.5,-9l-0.5,-9l-0.5,-9l-1.5,-7.5l-2,-9l-2.5,-9l-4,-11.5l-3,-8l-24.5,0l-3.5,4.5l-3.5,3l-2.5,1.5l-5,2l-3,1l-3,0l-3,-0.5l-3,-0.5l-4.5,-2.5l-4,-4l-3,-4.5l-85.5,0l-8.5,7.5l-15.5,13.5l-3,3l-1.5,1.5l-1.5,3l-0.5,1.5l-0.5,12l-1,6l-1.5,4.5l-2,3l-1.5,1.5l-2,2l-3,1.5l-3,0l-2,-0.5l-2.5,-1l-7.5,-5l-1.5,-0.5l-1.5,0l-2,0.5l-2.5,2l-4.5,3.5l-3.5,3.5l-3.5,4.5l-3,4.5l-1.5,3l-2,6l-0.5,4.5l0,3l1,4.5l1,3l3,4.5l2,3l3,3l2.5,2l3,1.5l4.5,1l18,0l9,1l7,2l3,1.5l2.5,1.5l1.5,1.5l0.5,1.5l0.5,1.5l0.5,1.5l-0.5,2.5l-2.5,5l-1.5,4.5l-1,1.5l-3,1.5l-3.5,1.5l-28,7.5l-13,3l-24,3.5l-12,2.5l-21,4l-19.5,5zM606,832l0.5,-1.5l1.5,-1.5l1.5,-1.5l3,-1.5l7.5,-2l8.5,-1l9,0.5l7,1l4,1.5l3,1.5l1.5,1.5l1,1.5l-0.5,1.5l-1,1.5l-2,1.5l-2.5,1.5l-7.5,2.5l-9,1l-4.5,0l-6,-0.5l-7,-1.5l-4,-1.5l-2.5,-1.5l-1,-1.5zM665.5,830.5l0,-1.5l1.5,-1.5l3.5,-3l3,-1.5l6,-2l3,-0.5l4.5,0l7.5,0.5l4.5,1.5l3,1l2.5,1l2,2l1.5,1l0.5,1.5l0,1.5l-0.5,1.5l-1,1.5l-2,1.5l-3,1.5l-3,1l-4.5,1l-7.5,0.5l-7.5,-0.5l-7,-2l-3,-1.5l-2.5,-1.5l-1.5,-1.5zM681,797l-3,-1l-3,-3l-1.5,-2.5l-0.5,-2l0,-4.5l0.5,-3l1,-1.5l2,-3l3,-1.5l3,-0.5l3,1l2.5,1l1.5,1.5l1,1.5l1.5,3l0,4.5l-0.5,2.5l-0.5,2l-2.5,3l-3,2l-1.5,0.5z"/>
<path fill="#08add3" d="M449,923l24,1.5l21,0.5l24,0l25.5,-0.5l31.5,-1l25.5,-2l20.5,-2l18,-2l15,-3.5l6,-1.5l4.5,-2l3.5,-2l9,-6l5.5,-3l29.5,-13.5l8.5,-4.5l7,-4.5l7.5,-6l5.5,-6l4,-6l2.5,-6l1,-4.5l0.5,-4.5l0.5,-16.5l0.5,-7.5l1.5,-7.5l4.5,-22.5l1.5,-13.5l0.5,-9l0,-9l-0.5,-9l-1.5,-9l-2.5,-8l-3,-9l-3,-6.5l-4.5,-7.5l-3,-3.5l-3,-2l-1.5,-0.5l-3,0l-3,1l-10.5,7l-6,3l-6,1.5l-6,0.5l-6,-1.5l-3,-1l-3,-2l-5,-4.5l-5,-6l-55,0l-14,9l-21,13.5l-7.5,5l-4.5,3.5l-3,3.5l-1.5,3l-3.5,12l-2,4.5l-2,3.5l-3,3l-3,1.5l-3,1l-4.5,-0.5l-7.5,-1.5l-3,0.5l-1.5,0.5l-4.5,3.5l-4.5,5l-3,5l-2.5,5.5l-0.5,4.5l0.5,3l0.5,3l1,3l1.5,3l2.5,3l3,3l2,1.5l2.5,1.5l5.5,1.5l20,2.5l6,1.5l4.5,1.5l4,2l4,3l5.5,6l1.5,1.5l3,1l3,0.5l3,0l3,-1l9.5,-3.5l5.5,-1l5.5,-1l7.5,-1l6,0l6,1l6,1l9,2.5l3,0.5l1.5,0l3,-1l9,-4.5l4.5,-1.5l6,-1l4.5,-0.5l6,1l6,1.5l6,2l3.5,2l2,1.5l1,1.5l1,1.5l0,1.5l-0.5,1.5l-1,1.5l-1.5,1.5l-3,2l-4.5,2l-6,1l-6,1l-7.5,0l-6,-0.5l-6,-1.5l-7.5,-2l-3,-0.5l-3,0.5l-12,3.5l-10.5,1.5l-12,0l-19,-1l-7.5,0.5l-42,6.5l-27,4.5l-28.5,4.5l-28.5,6l-21,5.5zM681,800l-3,-1.5l-3,-2.5l-1.5,-2l-1,-2.5l-1,-3l0,-3l1,-4.5l1,-3l1.5,-1.5l3,-2.5l1.5,-0.5l3,0l3,0.5l1.5,0.5l3,2.5l1.5,2l1.5,2l0.5,4.5l0,3l-0.5,3l-1.5,2.5l-1,2l-3.5,3l-3,1z"/>
<path fill="#08b8da" d="M449,922l21,1.5l24,0.5l22.5,0.5l22.5,-0.5l25.5,-1l28.5,-2l24,-2l17.5,-2.5l9,-1.5l6,-1.5l9.5,-3.5l4,-2l14,-8.5l29.5,-13.5l5.5,-3l7.5,-4.5l5.5,-4.5l5.5,-6l3,-4.5l2.5,-6l1.5,-4.5l0.5,-4.5l1.5,-15l1,-7.5l2.5,-9l7,-22.5l2,-7.5l1,-7.5l1,-9l0.5,-7.5l-0.5,-7.5l-1,-7.5l-1.5,-7.5l-2.5,-7.5l-2.5,-6l-3.5,-6l-3.5,-4l-3,-2.5l-3,-1.5l-3,-0.5l-4.5,0.5l-12,4.5l-6,1.5l-6,0.5l-6,-0.5l-4.5,-1.5l-4.5,-2l-5.5,-3.5l-9.5,-7l-3,-1.5l-3,-1l-3,-1l-10.5,0l-7.5,1.5l-6,2.5l-7.5,3.5l-13.5,7.5l-22,11.5l-12,7.5l-6,5l-3,3.5l-7,13l-2,3.5l-3,2.5l-3,2.5l-3,1.5l-3,0.5l-7.5,1l-2.5,0.5l-2,1.5l-3,3l-3,3l-1.5,3l-1,3l-0.5,3l-0.5,3l1,3l1,3l3,4.5l3,3l2,1.5l2.5,1.5l4.5,2l4.5,1l12,2.5l9,2.5l5.5,2.5l9.5,5.5l4.5,1.5l3,0.5l4.5,0l18,-2l10,-0.5l10.5,0.5l13.5,1.5l4.5,0l3,-0.5l3,-1.5l16.5,-8.5l3,-0.5l3,1l18,7.5l4.5,2l4.5,2.5l3,3l0.5,1.5l0.5,1.5l-0.5,1.5l-0.5,1.5l-3,3l-4.5,2.5l-4.5,1.5l-6,1.5l-7.5,1l-10.5,0.5l-16.5,-1l-6,0l-24,2l-25,0.5l-15,1l-21,2l-16.5,1.5l-48,7.5l-16.5,2.5l-22.5,5l-21,5.5zM684,806l-1.5,0l-3,-1.5l-4.5,-4l-1.5,-2.5l-1.5,-3.5l-1,-3l-1,-3l0,-3l0.5,-3l1,-3l1.5,-3l2,-2l3,-2l3,-0.5l1.5,0l3,0.5l3,1l2,1.5l1.5,1.5l2,3l1,3l0.5,3l0,3l-0.5,3l-1,3l-1.5,3l-2.5,4l-1.5,1.5l-3,2.5z"/>
<path fill="#06cce5" d="M449,921l25.5,1.5l22.5,1l25.5,0l25.5,-0.5l30,-1.5l28.5,-2.5l19,-2l15,-3l8.5,-2l6.5,-3l16.5,-9.5l26.5,-12l8.5,-4.5l5,-3l5.5,-4.5l3,-3l2,-3l2,-3l1,-3l0,-3l0,-3l-1,-3l-1.5,-2l-3,-3.5l-3,-2l-4.5,-1l-24,1.5l-33,-0.5l-43,1l-34.5,1.5l-16.5,1.5l-13.5,1.5l-42,6l-16.5,3l-15,3l-12,3l-13.5,4zM750,751l-1.5,-5.5l-1,-5l-2,-4.5l-2,-4.5l-2.5,-3l-3,-3.5l-3,-2.5l-3,-2l-3,-1l-4.5,0l-18,3l-4.5,0.5l-4.5,0l-4.5,-1l-6,-1.5l-15,-7.5l-6,-2l-7.5,-1l-4.5,0l-4.5,1l-6,1.5l-6,2l-16,8l-18,8.5l-9,4.5l-9,6l-6,5l-3,3l-8.5,12l-3.5,4l-4.5,3.5l-9.5,4.5l-3.5,3l-2.5,3l-1.5,3l-0.5,3l0,3l1.5,4.5l2,3l3,3l4.5,3l6.5,3l16.5,5.5l15,6l6,2l4.5,1l6,0l20.5,-0.5l19.5,0.5l6,-0.5l4.5,-1l4.5,-2.5l3.5,-3l3.5,-4.5l1,-3l0,-3l-2,-10.5l-0.5,-4.5l0.5,-4.5l1,-3l2,-4l3,-3l1.5,-1l3,-1l4.5,0l3,0.5l4,2.5l3,3l1.5,3l1,3l1,4.5l0,4.5l-1,7.5l0,3l1,3.5l3,4l4.5,4.5l2.5,1.5l6,3l3.5,2l4.5,1l3,0.5l1.5,0l1.5,-1l3,-2l3,-3.5l3,-4.5l3,-5l3,-5.5l3.5,-9l3,-10.5l1.5,-10.5l0.5,-10.5z"/>
<path fill="#04e2f1" d="M449,920l22.5,1.5l24,1l24,0l25.5,-0.5l30,-1.5l24,-1.5l19.5,-2.5l14.5,-2.5l10,-2l8,-3.5l16,-9l24.5,-11l10.5,-5.5l7,-4.5l3,-3l2.5,-3l2.5,-4.5l0.5,-3l-0.5,-1.5l-1.5,-3l-3,-3l-5,-3l-7,-1.5l-9,-1l-16.5,-1l-18,-1l-16.5,0l-46,0.5l-16.5,1l-18,1l-22.5,2.5l-22.5,3.5l-18,3l-15,2.5l-19.5,5l-13.5,4zM554,788.5l1,3l2.5,3l3.5,3l4.5,3l6,3l7,3l11.5,4.5l9,3.5l7.5,1.5l9,1l23.5,-0.5l9,-0.5l4.5,-1.5l4.5,-2.5l5,-4l3,-4.5l1,-2.5l0.5,-2l0.5,-12l0.5,-4.5l1.5,-4.5l1.5,-3l3,-3.5l3,-2l3,-1l4.5,0l3,0.5l3,1.5l3,2.5l3,3.5l2.5,6l2,10.5l1,3l1.5,3l2,2.5l4.5,4l4.5,2.5l4.5,1l3,0l3,-1l3,-1.5l3,-2l3,-3l4.5,-6l4.5,-8.5l2.5,-9l1.5,-9l0.5,-9l-1,-9l-1,-4.5l-2,-4.5l-2,-4l-2,-3.5l-2.5,-3l-3,-2.5l-3,-2l-3,-1l-3,-1l-4.5,0l-15,1.5l-9,0l-9,-1.5l-16.5,-5.5l-6,-1.5l-7.5,-0.5l-7.5,0.5l-4.5,1l-4.5,1.5l-34,14.5l-9,4.5l-9,6l-5.5,4l-5,4.5l-10.5,13.5l-10.5,10.5l-2.5,4.5l-1,3z"/>
<path fill="#01fbfd" d="M449,919.5l22.5,1.5l21,0.5l24,0.5l24,-0.5l28.5,-1.5l24,-1.5l20,-2l15.5,-3l8.5,-1.5l8.5,-3.5l17,-9l23.5,-10.5l9,-4.5l7,-4.5l5,-4.5l2.5,-3l0.5,-1.5l0.5,-3l0,-1.5l-1.5,-3l-1,-1.5l-3,-2l-5.5,-2.5l-6.5,-1.5l-10.5,-1.5l-12,-1l-15,-1l-19.5,-0.5l-43,0.5l-16.5,0.5l-18,1l-16.5,1.5l-21,3l-18,3l-15,2.5l-21,5l-18,5.5zM565,787l1.5,3l2,3l3.5,3l3,2.5l4.5,2.5l6,3.5l6,2.5l7.5,3l10,2.5l9.5,1.5l13,0l10.5,-1l4.5,-1.5l4.5,-2l4.5,-3l4.5,-4.5l2,-3l1,-3l2.5,-13.5l1.5,-4.5l1.5,-3l2,-3.5l3,-2.5l3,-2l3,-0.5l3,-0.5l4.5,1l4.5,2l3,2.5l4,5l1.5,3l3.5,8.5l1.5,2.5l1.5,2l3,2.5l4.5,2.5l4.5,0.5l4.5,-0.5l4.5,-2l4.5,-3.5l3,-3.5l3,-5.5l2,-5l2,-6l0.5,-6l0,-6l-0.5,-6l-1,-4.5l-1.5,-3.5l-1.5,-4l-2.5,-3l-2,-2l-3,-2.5l-3,-2l-3,-1l-3,-1l-4.5,0l-15,0.5l-7.5,0l-9,-1.5l-16.5,-4l-6,-1.5l-7.5,0l-6,0.5l-9,2.5l-31,11.5l-9,4.5l-9,5.5l-6,5l-5,5l-5,6l-5.5,7.5l-3,4.5l-1.5,4.5l-0.5,3z"/>
<path fill="#00fdf7" d="M449,918.5l21,1.5l21,1l22.5,0l22.5,0l25.5,-1l25.5,-2l21,-2l16,-2.5l10.5,-2.5l7.5,-3l16.5,-8.5l23.5,-10.5l8.5,-4.5l7,-4.5l5,-4.5l1.5,-3l0.5,-1.5l0,-3l-1.5,-3l-1.5,-1.5l-2.5,-1.5l-6,-2.5l-7.5,-1.5l-9,-1.5l-13.5,-1.5l-15,-0.5l-19.5,-1l-38.5,0l-16.5,1l-16.5,1l-16.5,1.5l-15,2l-18,2.5l-16.5,3l-13.5,3l-10.5,2.5l-10.5,3l-7.5,2.5zM574,785.5l1,3l2,3l5,4.5l4,3l4,2.5l9,4l9,3l9,1.5l10,1l9,-1l6,-1.5l4.5,-2l5,-3l4,-4l3,-3.5l1.5,-3l1.5,-4.5l2.5,-9l1.5,-4.5l2,-3l2,-3l2.5,-2.5l3,-2l3,-1l4.5,-1l3,0.5l3,1l4.5,2l3,2.5l3.5,3.5l7,11l3,3l3,1.5l3,1l3,0.5l3,-0.5l4,-1.5l2,-1.5l3.5,-3l2.5,-4l2,-3.5l1.5,-4.5l0.5,-4.5l0,-6l-0.5,-4.5l-2,-6l-1.5,-3l-2,-3l-4,-3.5l-3,-2l-3,-1l-3,-0.5l-4.5,-0.5l-15,0.5l-6,0l-7.5,-1l-15,-4l-7.5,-1l-7.5,-0.5l-6,1l-9,2l-28,9l-9,4l-8.5,5l-4,3l-4.5,4.5l-4,4.5l-4.5,6l-2,4.5l-2,4.5l-0.5,4.5z"/>
<path fill="#00faec" d="M449,917.5l18,1.5l22.5,1l22.5,0.5l22.5,0l24,-1l25.5,-2l19.5,-2l15,-2l10,-2.5l9,-3l20,-10l17.5,-7.5l9,-4.5l7.5,-4.5l5,-4.5l2,-3l0.5,-1.5l0.5,-3l-0.5,-1.5l-1.5,-1.5l-1.5,-1.5l-2,-1.5l-7,-2.5l-7.5,-1.5l-9,-1.5l-12,-1.5l-15,-0.5l-18,-1l-37,0l-16.5,0.5l-15,1l-18,1.5l-13.5,1.5l-13.5,2l-16.5,3l-13.5,3l-12,2.5l-10.5,3.5l-10.5,3.5zM581,784l2,4.5l4,4.5l6,5l8,4l8.5,3l7.5,1.5l8.5,0.5l7.5,-0.5l6,-1.5l4.5,-2l4.5,-2.5l5,-4.5l2.5,-3.5l2.5,-4l5,-15l3,-6.5l2,-2.5l2.5,-3l4.5,-3l4.5,-2l3,-0.5l4.5,0l3,1l4.5,3l3,2.5l9,10l3,3l4.5,2.5l4.5,1l3,-1l3,-1.5l2,-1.5l2,-3l1.5,-3l1,-4.5l0,-4.5l0,-3l-2,-4.5l-3,-4l-2,-2l-2,-1.5l-5,-1.5l-3,-0.5l-4.5,0l-13.5,1.5l-6,0l-6,-1l-13.5,-4.5l-7.5,-2l-4.5,-0.5l-4.5,0.5l-9,1l-19.5,4l-10,3l-9,3.5l-7.5,4.5l-4.5,3.5l-4,3.5l-3.5,4.5l-3,4.5l-2,4.5l-1,3l-0.5,4.5z"/>
<path fill="#00f2d9" d="M449,916.5l18,2l21,1l21,0.5l21,0l25.5,-1l22.5,-1.5l19.5,-2l16.5,-2.5l11.5,-2.5l9,-3l45.5,-21.5l7.5,-4.5l3.5,-3l2.5,-3l0.5,-1.5l0.5,-3l-0.5,-1.5l-1,-1.5l-1.5,-1.5l-2,-1.5l-5.5,-2l-7.5,-2l-9,-1.5l-10.5,-1.5l-13.5,-1l-16.5,-0.5l-34,-0.5l-16.5,0.5l-15,0.5l-16.5,1.5l-15,1.5l-13.5,2l-16.5,2.5l-15,3l-13.5,3.5l-12,3.5l-10.5,3.5zM589,787l3.5,4.5l5.5,4.5l7,3.5l7.5,2.5l7.5,1l7,0l7.5,-1l6,-2l4.5,-3l4.5,-4l3.5,-4.5l2.5,-4.5l3,-9l4,-18l1,-4.5l-1,-3l-1,-1.5l-3,-1.5l-3,-1l-6,-1l-7.5,0l-10.5,1l-9,1.5l-7,2l-7.5,3l-6,3.5l-4.5,3.5l-4.5,5l-3.5,5l-2,4.5l-1,4.5l0.5,4.5z"/>
<path fill="#00eac9" d="M449,915.5l18,2l19.5,1.5l21,0.5l22.5,-0.5l22.5,-0.5l22.5,-1.5l19.5,-2l16.5,-2.5l10,-2.5l10.5,-3l35.5,-16.5l9.5,-4.5l7,-4.5l3.5,-3l2,-3l0.5,-1.5l0.5,-1.5l-0.5,-1.5l-0.5,-1.5l-1.5,-1.5l-2,-1.5l-3,-1l-6,-2.5l-7.5,-1.5l-10.5,-1.5l-12,-1l-32.5,-2l-30,0l-28.5,1.5l-16.5,1.5l-13.5,1.5l-27,4l-15,3.5l-13.5,3l-11.5,3.5l-9.5,4zM594,785.5l3.5,4.5l4.5,3.5l6,3l6,2l6,1l5.5,0l6,-1l6,-2l4.5,-2.5l4.5,-4l3,-4.5l2.5,-4.5l1.5,-6l0.5,-6l-0.5,-6l-1,-4.5l-2,-3l-1.5,-1.5l-2,-1.5l-4,-1.5l-5.5,-1l-6,0l-7.5,0.5l-7,2l-6,2l-5,2.5l-4,3.5l-4.5,4l-3,4.5l-2,4.5l-0.5,4.5l0.5,4.5z"/>
<path fill="#00e4be" d="M449,915l16.5,2l18,1l21,0.5l21,0l22.5,-0.5l22.5,-1.5l19.5,-2l16.5,-2l12,-2.5l10,-3.5l32,-14.5l9.5,-4.5l7.5,-4.5l4,-3l2.5,-3l1,-1.5l0.5,-1.5l0,-1.5l-0.5,-1.5l-1.5,-1.5l-1.5,-1.5l-2.5,-1l-4.5,-2l-7.5,-2l-9,-1.5l-12,-1.5l-29.5,-1.5l-30,-0.5l-27,1l-15,1l-13.5,1.5l-13.5,1.5l-15,2.5l-16.5,3.5l-13.5,3.5l-13.5,4l-10.5,4.5zM599,784l2.5,3l3.5,3l4.5,3l5,1.5l5.5,1l5.5,0l4.5,-0.5l4.5,-1.5l3,-2l4,-3l2.5,-3l2.5,-4.5l1.5,-4.5l0.5,-4.5l-0.5,-4.5l-1,-3l-2,-3l-2.5,-3l-3.5,-2l-4.5,-1l-4.5,-1l-6,0.5l-5.5,1l-4.5,1.5l-4.5,2.5l-4.5,3l-3,3l-2.5,3l-1,3l-1,4.5l0.5,4.5z"/>
<path fill="#00deb3" d="M449,914l15,2l18,1.5l19.5,0.5l21,0l24,-0.5l21,-1.5l19.5,-1.5l16.5,-2.5l12,-2.5l10,-3.5l9,-4l29,-13l8.5,-4.5l6,-4.5l2.5,-3l0.5,-1.5l0,-1.5l0,-1.5l-1,-1.5l-1.5,-1.5l-3.5,-2l-6,-2l-6.5,-2l-9.5,-1.5l-11,-1l-15,-1l-16,-1l-27,-0.5l-27,1.5l-15,1l-13.5,1.5l-24,3.5l-16.5,3.5l-16.5,4l-12,4l-10.5,4.5zM604.5,782.5l2,2.5l2.5,2l3.5,2l3,1.5l3,0.5l4,0.5l4.5,-0.5l3,-1l3,-1l3,-2l3,-3l1.5,-2.5l1.5,-3.5l0.5,-3l0,-3l-0.5,-3l-1.5,-2l-1.5,-2.5l-3,-2.5l-3,-1.5l-3,-0.5l-4.5,-0.5l-4.5,0.5l-4,1l-3,1l-4,2.5l-3.5,3l-2,3l-1,3l-0.5,3l0.5,3z"/>
<path fill="#00d7a8" d="M449,913l12,2l18,1.5l19.5,1l21,0l22.5,-0.5l21,-1l19.5,-2l16.5,-2l12,-2.5l10,-3.5l10.5,-4l26,-11.5l8.5,-4.5l6.5,-4.5l3,-3l1,-1.5l0.5,-1.5l0,-1.5l-0.5,-1.5l-1,-1.5l-2,-1.5l-2.5,-1.5l-3.5,-1l-6,-2l-8,-1.5l-10,-1l-13.5,-1.5l-14.5,-1l-27,-0.5l-27,0.5l-15,1.5l-13.5,1l-24,3.5l-21,4l-15,4l-14,4.5l-10,5zM611.5,781l1.5,1.5l2,1.5l4,1.5l2,0.5l3,0l4.5,-1.5l3,-1.5l1.5,-1.5l2,-3.5l0.5,-3l0,-1.5l-1,-3l-1,-1.5l-2,-1.5l-2,-1.5l-2.5,-0.5l-3,-0.5l-3,0.5l-4,1.5l-3,1.5l-1.5,1.5l-1.5,2l-1,1.5l0,3l0,1.5z"/>
<path fill="#00cf9e" d="M449,912l12,2l16.5,1.5l18,1l21,0.5l21,-0.5l22.5,-1l19.5,-1.5l16.5,-2.5l13,-3l11,-3l11.5,-5l23,-10l8.5,-4.5l6.5,-4.5l2.5,-3l0.5,-1.5l0.5,-1.5l0,-1.5l-1,-1.5l-1.5,-1.5l-2,-1.5l-5.5,-2l-7.5,-2l-7.5,-1.5l-10.5,-1l-25,-2l-27,-0.5l-25.5,0.5l-24,2l-24,3l-21,4l-18,5l-13.5,4.5l-5,2l-5.5,3.5z"/>
<path fill="#00c893" d="M449,910.5l4.5,1.5l7.5,1l13.5,2l18,1l19.5,0.5l21,-0.5l21,-0.5l19.5,-2l18,-2l13.5,-3l12,-3l11.5,-5l18,-7.5l10.5,-5.5l7,-4.5l3.5,-3l1,-1.5l0.5,-1.5l0,-1.5l0,-1.5l-1,-1.5l-2,-1.5l-4.5,-2l-7,-2.5l-8,-1.5l-9,-1l-23.5,-2l-25.5,-1l-24,0.5l-24,1.5l-25.5,3.5l-22.5,4l-18,4.5l-7.5,2.5l-7,2.5l-6,3l-5,3.5z"/>
<path fill="#00c189" d="M449,909l3,1l6.5,2l13,1.5l16.5,1.5l19.5,1l21,0l21,-1l19.5,-1.5l18,-2l13.5,-2.5l12,-3.5l13,-5l16.5,-7l12.5,-6l6.5,-4.5l3,-3l1,-1.5l0.5,-1.5l0,-1.5l-0.5,-1.5l-1.5,-1.5l-2,-1.5l-4.5,-1.5l-6,-2l-7.5,-1.5l-9,-1.5l-23.5,-2l-24,-1l-24,0.5l-25.5,2l-22.5,3l-19.5,3.5l-18,4.5l-13.5,4.5l-5,2l-5.5,3l-4.5,3.5z"/>
<path fill="#01bd82" d="M449,907l3,1.5l4.5,1.5l12,2.5l16.5,2l18,0.5l21,0.5l21,-1l21,-1.5l18,-2l15,-2.5l12,-3.5l13,-5l15.5,-6.5l12,-6l6.5,-4.5l3,-3l0.5,-1.5l0.5,-1.5l0,-1.5l-2,-2l-3,-2.5l-3.5,-1.5l-7,-1.5l-7.5,-1.5l-9,-1.5l-22,-2l-22.5,-0.5l-22.5,0.5l-22.5,1.5l-22.5,2.5l-19.5,3.5l-18,4.5l-13.5,4.5l-5.5,2l-5.5,3l-4.5,3l-2.5,3z"/>
<path fill="#01b97b" d="M449,904.5l1,1l2.5,1.5l3,1.5l5.5,2l13.5,2l18,1.5l21,1l21,-0.5l22.5,-1l19.5,-2l15,-2.5l12,-2.5l12,-4l13,-5l15,-7l8,-4.5l3.5,-3l1.5,-1.5l2,-3l0,-1.5l-0.5,-1.5l-1,-1l-1.5,-2l-3,-1.5l-4.5,-1.5l-5,-1.5l-8.5,-1.5l-19,-2l-21,-1.5l-22.5,0l-22.5,1l-21,2.5l-19.5,2.5l-19.5,4.5l-15,4l-7.5,2.5l-4.5,2.5l-4.5,2l-4.5,3l-1.5,1.5l-2.5,3l-0.5,1.5z"/>
<path fill="#02b574" d="M449.5,899.5l1,3l1,1.5l2,2l4.5,2l9,2.5l15,2.5l19.5,1l22.5,0.5l22.5,-1l22.5,-2l16.5,-2l13.5,-3l12,-3.5l14.5,-5.5l13.5,-6l9.5,-5.5l4,-3l1.5,-1.5l1,-1.5l0.5,-1.5l0,-1.5l-1,-1.5l-1,-1.5l-2,-1.5l-3.5,-1.5l-4.5,-1l-12,-3l-16,-2l-19.5,-1l-19.5,-0.5l-21,1l-19.5,1.5l-19.5,2.5l-18,3.5l-15.5,3.5l-13,4.5l-10,4.5l-3.5,2.5l-2.5,2l-1.5,1.5l-2,3l-1,3z"/>
<path fill="#02b16d" d="M452,899.5l1,3l1.5,1.5l2,1.5l3,2l3.5,1l6,1.5l14.5,2.5l19.5,1l21,0.5l22.5,-1l21,-2l16.5,-2l13.5,-3l13.5,-4l13,-5l14.5,-6.5l7.5,-4.5l3.5,-3l1.5,-1.5l1,-1.5l0,-1.5l0,-1.5l-1,-1.5l-1.5,-1.5l-1.5,-0.5l-4,-2.5l-3.5,-0.5l-12,-3l-16,-2l-18,-1l-19.5,-0.5l-19.5,1l-19.5,1.5l-18,2.5l-18,3l-15,4l-13.5,4l-9.5,4.5l-2.5,2l-3.5,2.5l-1.5,1.5l-2,3l-0.5,3z"/>
<path fill="#03ae66" d="M454,898l1,3l1,1.5l2,2l3,2l7.5,2.5l5.5,1l8,1.5l18,1.5l19.5,0.5l21,-0.5l21,-1.5l16.5,-2.5l13.5,-2.5l12,-3l13.5,-4.5l13,-5.5l6,-3l5.5,-3l4,-3l1.5,-1.5l2,-3l0,-1.5l0,-1.5l-1,-1.5l-2,-1.5l-2.5,-1.5l-4,-1.5l-11,-2.5l-13,-2l-16.5,-1l-19.5,-1l-19.5,0.5l-19.5,1.5l-18,2l-18,3.5l-15,3.5l-13.5,4l-9,3.5l-3,2l-4.5,2.5l-1.5,1.5l-2.5,3l-1,3z"/>
<path fill="#04aa5f" d="M456,898l1.5,3l1,1.5l1.5,1.5l4,2.5l7.5,2.5l7,1l6.5,1l16.5,1.5l19.5,0.5l21,-1l19.5,-1.5l15,-1.5l13.5,-2.5l12,-3.5l15,-5l13.5,-6l8.5,-4.5l4,-3l1.5,-1.5l1.5,-3l0.5,-1.5l-0.5,-1.5l-1.5,-1.5l-2,-1.5l-3,-1.5l-3.5,-1l-10.5,-2.5l-14.5,-2l-18,-1.5l-18,0l-18,0.5l-19.5,1.5l-16.5,2l-16.5,3l-15,3.5l-13.5,4l-10,4.5l-3.5,2.5l-2.5,2l-1.5,1.5l-1.5,3l-1,3z"/>
<path fill="#0aa75b" d="M458,896.5l1,3l0.5,1.5l3,3l3,1.5l3.5,1.5l4,1l10.5,2l16.5,1.5l18,1l21,-0.5l19.5,-1.5l16.5,-2l13.5,-2.5l13.5,-3.5l13.5,-4.5l13,-6l8,-4.5l4,-3l1.5,-1.5l1,-1.5l0.5,-1.5l0,-1.5l-0.5,-1.5l-1.5,-1.5l-2.5,-1.5l-4.5,-1.5l-10.5,-3l-14.5,-2l-16.5,-1.5l-16.5,0l-18,0.5l-18,1l-16.5,2l-16.5,3l-15,3l-12,4l-9.5,3.5l-4,2.5l-3.5,2l-1.5,1.5l-2.5,3l-1,1.5z"/>
<path fill="#15a65a" d="M460.5,896.5l0.5,3l1,1.5l2,2l3,2l3,1l4.5,1.5l10.5,2l15,1.5l18,0.5l19.5,0l18,-1.5l15,-1.5l13.5,-2.5l12,-2.5l13.5,-4.5l13,-5l9.5,-5l4.5,-3l1.5,-1.5l2.5,-3l0.5,-1.5l-0.5,-1.5l-1.5,-2l-3,-2l-3,-1.5l-9,-2.5l-11.5,-2l-15,-1.5l-18,-0.5l-18,0l-18,1.5l-16.5,1.5l-16.5,3l-16,3l-12.5,4l-9,3.5l-4.5,2.5l-3,2l-2,1.5l-2,3l-1,1.5z"/>
<path fill="#21a559" d="M462.5,896.5l1,3l1,1.5l1.5,1.5l2.5,1.5l3,1.5l5,1.5l10,2l15,1.5l16.5,0.5l19.5,0l18,-1.5l15,-1.5l13.5,-2.5l13.5,-3.5l12,-3.5l11.5,-5l9,-4.5l4,-3l2,-1.5l2,-3l0,-1.5l0,-1.5l-2,-2l-3,-2l-3,-1l-9,-2.5l-13,-2.5l-16.5,-1l-16.5,-0.5l-18,0.5l-16.5,1l-16.5,2l-16.5,3l-13.5,3l-12,3.5l-7.5,3.5l-4.5,2.5l-3,1.5l-1.5,1.5l-2.5,3l-0.5,1.5z"/>
<path fill="#2ca458" d="M464.5,896.5l1,3l1.5,1.5l1.5,1.5l2.5,1.5l4,1.5l4,1.5l10.5,2l14.5,1l17,0.5l18,0l16.5,-1.5l15,-2l13.5,-2l12,-3l13.5,-4.5l12.5,-5.5l8,-4.5l3.5,-3l1.5,-1.5l0.5,-1.5l0,-1.5l-0.5,-1.5l-1,-1.5l-2,-1.5l-3.5,-1.5l-3.5,-1.5l-6,-1.5l-12.5,-2l-15,-1l-16.5,-0.5l-16.5,0.5l-18,1l-15,2l-16.5,2.5l-13.5,3.5l-11.5,3l-8,3.5l-7,4l-1.5,1.5l-2.5,3l-0.5,1.5z"/>
<path fill="#3ea559" d="M466,895l1,3l1,1.5l3,3l3,1.5l4,1.5l10,2.5l13.5,1.5l16.5,0.5l18,0l16.5,-1l15,-2l13.5,-2.5l13.5,-3l13.5,-4.5l12,-5l8,-4.5l3.5,-3l1,-1.5l0.5,-1.5l0,-1.5l-0.5,-1.5l-1,-1.5l-2.5,-1.5l-3,-1.5l-9,-2.5l-12,-2l-15,-1l-15,-0.5l-15,0l-16.5,1.5l-15,1.5l-15,2.5l-13.5,2.5l-12,3.5l-9.5,3.5l-4,2.5l-3.5,2l-3,3l-1,1.5z"/>
<path fill="#53a75b" d="M468,895l1,3l1,1.5l1.5,1.5l2.5,1.5l3,1.5l4.5,1.5l9.5,2l13.5,1.5l15,0.5l16.5,0l16.5,-1l15,-2l13.5,-2.5l13.5,-3l12,-4l11.5,-5l8,-4.5l3,-3l1.5,-1.5l0.5,-1.5l-0.5,-1.5l-0.5,-1.5l-1.5,-1.5l-2.5,-1.5l-3.5,-1.5l-8.5,-2l-12,-2l-13.5,-1l-15,-0.5l-16.5,0.5l-15,1l-15,1.5l-15,2.5l-13.5,3l-10.5,3l-9,4l-6.5,3.5l-3,3l-0.5,1.5z"/>
<path fill="#67aa5e" d="M470,895l1,3l1,1.5l2,1.5l2.5,1.5l7,3l9,1.5l12,1.5l13.5,0.5l15,0l16.5,-1l13.5,-1.5l13.5,-2l12,-3l13.5,-3.5l10.5,-4.5l9,-4.5l4,-3l1.5,-1.5l1,-1.5l0.5,-1.5l0,-1.5l-1,-1.5l-1.5,-1.5l-2.5,-1.5l-4,-1.5l-4,-1l-10.5,-2l-13.5,-1.5l-15,-0.5l-15,0l-16.5,1l-15,1.5l-15,2.5l-13.5,3l-11.5,3l-8,3.5l-4.5,2.5l-3,1.5l-3,3l-1,1.5z"/>
<path fill="#7cac60" d="M472,895l1,2.5l1.5,2l2,1.5l2.5,1.5l6,2.5l9,1.5l12,1.5l13.5,0.5l15,0l15,-1l13.5,-1.5l13.5,-2.5l13.5,-3l12,-3.5l9,-3.5l8.5,-4.5l4,-3l1.5,-1.5l1,-1.5l0,-1.5l0,-1.5l-1,-1.5l-2,-1.5l-2.5,-1.5l-8,-2.5l-11,-2l-13,-1l-15,-0.5l-15,0l-15,1l-15,2l-13.5,2l-12.5,2.5l-10.5,3l-8.5,3.5l-5,2.5l-2,1.5l-3,3l-1,1.5l-0.5,1.5z"/>
<path fill="#92ac62" d="M474,895l0.5,1.5l1.5,2.5l1.5,1l3,2l6,2.5l9,1.5l12,1.5l13.5,0.5l13.5,0l15,-1l13.5,-1.5l13.5,-2.5l12,-2.5l12,-3.5l9,-3.5l8,-4.5l4,-3l1.5,-1.5l0.5,-1.5l0.5,-1.5l-0.5,-1.5l-1,-1.5l-2,-1.5l-3,-1.5l-8,-2l-10.5,-2l-13.5,-1l-13.5,-0.5l-13.5,0l-15,1l-15,2l-13.5,2l-12,2.5l-10.5,3.5l-9,3.5l-5.5,3l-3,3l-1,3z"/>
<path fill="#a9ac65" d="M475.5,895l1,1.5l1,1.5l1.5,1.5l3,2l2.5,1l5,1.5l7.5,1.5l12,1.5l13.5,0.5l13.5,0l15,-1l13.5,-2l13.5,-2.5l12,-2.5l10.5,-3.5l9.5,-4l5.5,-3l4,-3l1.5,-1.5l0.5,-1.5l0.5,-1.5l-0.5,-1.5l-1.5,-1.5l-2,-1.5l-3.5,-1.5l-6.5,-1.5l-10.5,-2l-12,-1l-15,-0.5l-13.5,0l-15,1l-15,2l-13,2l-12.5,3l-10,3l-7,3l-4.5,3l-3,3l-1,1.5l-0.5,1.5z"/>
<path fill="#bfac67" d="M477.5,893.5l0,1.5l1,1.5l1,1.5l2.5,2l5.5,2.5l9.5,2.5l10.5,1.5l12,0.5l13.5,0l15,-1l13.5,-1.5l13.5,-2.5l12,-2.5l10.5,-3l10.5,-4l5.5,-3.5l4,-3l1.5,-1.5l0.5,-1.5l0,-1.5l-0.5,-1.5l-1.5,-1.5l-2.5,-1.5l-2.5,-1l-6,-2l-10.5,-1.5l-12,-1l-12,-0.5l-13.5,0l-13.5,1l-13.5,1.5l-12,1.5l-10.5,2.5l-11,2.5l-8.5,3l-6,3l-3.5,3l-1.5,1.5l-0.5,1.5z"/>
<path fill="#d1ab68" d="M479.5,893.5l0,1.5l1,1.5l1,1.5l2,1.5l3,1.5l4,1.5l8,2l10.5,1.5l12,0.5l13.5,0l13.5,-1l13.5,-1.5l12,-2l12,-2.5l12,-4l8.5,-3.5l6,-3l3.5,-3l1.5,-1.5l0.5,-1.5l0,-1.5l-1,-1.5l-1.5,-1.5l-4,-2l-8,-2.5l-9.5,-1.5l-11,-1l-12,0l-13.5,0l-13.5,1l-13.5,1.5l-12,2l-12,2.5l-9,2.5l-9,3.5l-4.5,3l-3,3l-1,1.5z"/>
<path fill="#e0aa68" d="M481,893.5l0.5,1.5l1,1.5l1.5,1.5l2,1.5l6.5,3l8.5,1.5l11,1.5l12,0.5l12,-0.5l13.5,-0.5l13.5,-2l12,-2l11.5,-3l10,-3l10,-4l5.5,-3.5l3,-3l0.5,-1.5l-0.5,-1.5l-0.5,-1.5l-2,-1.5l-4.5,-2l-7.5,-2l-9,-1.5l-10.5,-1l-12,0l-12,0l-13.5,1l-13.5,1.5l-12,2l-10.5,2l-10,3l-7.5,3l-5,3l-3,3l-0.5,1.5z"/>
<path fill="#efa968" d="M483,893.5l0.5,1.5l1,1.5l1.5,1.5l2.5,1.5l5.5,2.5l7.5,1.5l9,1l12,1l12,-0.5l12,-0.5l12,-1l12,-2l10.5,-2.5l10.5,-2.5l10.5,-4l6,-3.5l3.5,-3l1.5,-1.5l0,-1.5l0,-1.5l-1,-1.5l-2,-1.5l-2,-1l-5.5,-2l-8,-1.5l-10.5,-1l-12,-0.5l-12,0l-13.5,0.5l-13.5,1.5l-12,2l-11.5,2l-9.5,3l-8,3l-5,3l-3,3l-1,1.5z"/>
<path fill="#f9a465" d="M485,893.5l0.5,1.5l1,1.5l2,1.5l2.5,1.5l4.5,2l7.5,1.5l9,1l10.5,1l12,-0.5l12,-0.5l12,-1.5l12,-1.5l10.5,-2.5l10.5,-3l8.5,-3.5l6,-3l3.5,-3l1.5,-1.5l0,-1.5l0,-1.5l-1,-1.5l-3.5,-2l-7.5,-2.5l-7.5,-1l-10.5,-1.5l-12,-0.5l-12,0.5l-12,0.5l-12,1.5l-12,2l-10.5,2l-9.5,2.5l-7.5,3l-5,3l-3,3l-0.5,1.5z"/>
<path fill="#fb9c5f" d="M487,893.5l0.5,1.5l1,1.5l4,2.5l5.5,2l7,1.5l10,1.5l10.5,0.5l10.5,-0.5l12,-0.5l12,-1.5l10.5,-1.5l10.5,-2.5l9,-3l8.5,-3l5.5,-3l4,-3l1,-1.5l0,-1.5l-0.5,-1.5l-1,-1.5l-2.5,-1.5l-6,-2l-9,-2l-10.5,-1l-10.5,-0.5l-12,0.5l-12,0.5l-12,1.5l-11.5,1.5l-9.5,2.5l-9,2l-7.5,3l-5,3l-3,3l-0.5,1.5z"/>
<path fill="#fc9459" d="M488.5,893.5l1,1.5l1.5,1.5l3,2l6,2.5l7.5,1.5l9,1l9,0l10.5,0l12,-0.5l10.5,-1.5l10.5,-1.5l10.5,-2.5l9,-2.5l8,-3l5.5,-3l4,-3l1,-1.5l0,-1.5l-0.5,-1.5l-1.5,-1.5l-2.5,-1.5l-6.5,-2l-9,-1.5l-9,-1l-12,-0.5l-10.5,0.5l-12,0.5l-12,1.5l-10.5,2l-10.5,2l-7.5,2.5l-5.5,2l-5.5,3l-1.5,1.5l-1,1.5l-1,1.5z"/>
<path fill="#fe8c53" d="M490.5,893.5l1,1.5l1,1l3,2l6,2.5l7.5,1.5l8,0.5l10,0.5l10.5,0l10.5,-0.5l10.5,-1.5l10.5,-1.5l10.5,-2.5l9,-2.5l6,-2.5l6,-3l3.5,-3l1,-1.5l0,-1.5l-0.5,-1.5l-2,-1.5l-2.5,-1.5l-4.5,-1.5l-8.5,-1.5l-10.5,-1l-10.5,-0.5l-10.5,0.5l-12,0.5l-12,1.5l-10.5,2l-9,2l-9,2.5l-4.5,2l-4.5,2.5l-2,1.5l-1,1.5l-0.5,1.5z"/>
<path fill="#ff814c" d="M492.5,892l0,1.5l1,1.5l3.5,2.5l5.5,2l6.5,1.5l9,1l9,0.5l9,0l10.5,-0.5l10.5,-1l10.5,-2l10.5,-2l9,-2.5l5.5,-2.5l6,-3l2,-1.5l1.5,-1.5l0.5,-1.5l0.5,-1.5l-1,-1.5l-1.5,-1.5l-3.5,-1.5l-5,-1.5l-8,-1.5l-9,-0.5l-9,-0.5l-10.5,0.5l-10.5,0.5l-10.5,1l-9,1.5l-9,2l-7.5,2l-6,2l-5,2l-4,3l-1,1.5z"/>
<path fill="#ff7644" d="M494.5,892l0,1.5l1,1.5l3,2l2,1l4,1.5l6,1l7.5,1l9,0.5l10.5,0l10.5,-0.5l10.5,-1.5l10.5,-1.5l9,-2l8.5,-3l7,-3l5,-3l1.5,-1.5l0.5,-1.5l0,-1.5l-0.5,-1.5l-2,-1.5l-3.5,-1.5l-6,-1.5l-6,-1l-9,-0.5l-9,-0.5l-9,0.5l-10.5,0.5l-10.5,1l-10.5,1.5l-7,1.5l-8,2.5l-6,2l-5.5,3l-1.5,1.5l-1,1.5z"/>
<path fill="#ff6a3d" d="M496.5,892l0,1.5l1.5,1.5l2,1.5l4.5,2l7.5,1.5l7.5,1l9,0.5l9,0l10.5,-1l9,-1l10.5,-1.5l9,-2l7.5,-2.5l7.5,-3l5,-3l1.5,-1.5l0.5,-1.5l0,-1.5l-1,-1.5l-2.5,-1.5l-2,-1l-6,-1.5l-6,-1l-7.5,-0.5l-9,-0.5l-9,0.5l-10.5,0.5l-9,1l-10.5,1.5l-9,2l-7.5,2l-4.5,2l-5,2.5l-2,1.5l-1,1.5z"/>
<path fill="#ff5f36" d="M498.5,892l0.5,1.5l1,1.5l2.5,1.5l4,1.5l7,1.5l7.5,1l7.5,0.5l16.5,-0.5l9,-1l9,-1.5l9,-1.5l9,-2.5l5,-2l6.5,-3l2,-1.5l1.5,-1.5l0.5,-1.5l0,-1.5l-1.5,-1.5l-2.5,-1.5l-4,-1.5l-6,-1l-7.5,-1l-9,-0.5l-9,0l-10.5,1l-10.5,1l-9,1.5l-9,1.5l-7,2l-5,2l-4.5,2.5l-2,1.5l-1,1.5z"/>
<path fill="#ff542f" d="M500.5,892l0.5,1.5l1.5,1.5l3,1.5l4.5,1.5l5,1l7.5,1l7.5,0.5l16.5,-0.5l9,-1l9,-1.5l9,-2l6,-2l6,-2l5,-2.5l2,-1.5l1.5,-1.5l0.5,-1.5l-0.5,-1.5l-1,-1l-3,-2l-5,-1.5l-4,-0.5l-7.5,-1l-9,-0.5l-9,0.5l-9,0.5l-9,0.5l-9,1.5l-9,2l-6.5,1.5l-4,2l-6,2.5l-1.5,1.5l-1,1.5z"/>
<path fill="#ff4827" d="M502.5,892l1,1.5l1,1l3,2l4.5,1l4.5,1l6,1l7.5,0l7.5,0l9,-0.5l9,-0.5l7.5,-1.5l9,-2l5.5,-1.5l5,-1.5l6,-3l2,-1.5l1,-1.5l0.5,-1.5l-0.5,-1.5l-1.5,-1.5l-1.5,-0.5l-4.5,-1.5l-6,-1.5l-7.5,-0.5l-7.5,-0.5l-9,0.5l-9,0.5l-8,0.5l-8.5,1.5l-8,1.5l-5.5,1.5l-4.5,2l-5.5,2.5l-1.5,1.5l-1,1.5z"/>
<path fill="#ff3d20" d="M504.5,892l1,1.5l3.5,2l3,1.5l6.5,1l7,1l7.5,0l15,-0.5l15,-2l7.5,-1.5l7.5,-2l5.5,-2.5l2.5,-1.5l2.5,-1.5l1,-1.5l0.5,-1.5l-0.5,-1.5l-2.5,-1.5l-3.5,-1.5l-7,-1.5l-7.5,-0.5l-7.5,-0.5l-16.5,1l-15,2l-7,1l-8,2.5l-5.5,2l-2.5,1.5l-1.5,1.5l-1,1.5z"/>
<path fill="#ff3119" d="M507,892l1,1.5l2.5,1.5l4.5,1.5l6,1l12,1l15,-0.5l9,-1l7.5,-1.5l8,-2l4.5,-1.5l4,-1.5l3,-1.5l2,-1.5l1.5,-1.5l0,-1.5l-0.5,-1.5l-2.5,-1.5l-4.5,-1.5l-6.5,-1l-6,-0.5l-7.5,0l-15,0.5l-9,1l-7.5,1l-8.5,2l-4.5,1.5l-3.5,1.5l-2.5,1.5l-2,1.5l-0.5,1.5z"/>
<path fill="#ff2c16" d="M509,890.5l0.5,1.5l1,1.5l3,1.5l6,1.5l12,1.5l7.5,0l7.5,-0.5l7.5,-1l9,-1l12,-3.5l4.5,-1.5l2,-1.5l2.5,-1.5l1,-1.5l0,-1.5l-1,-1.5l-2.5,-1.5l-5,-1l-3,-0.5l-12,-1l-15,0.5l-12,1.5l-12,2.5l-8.5,2.5l-2.5,1.5l-1.5,1.5z"/>
<path fill="#ff2813" d="M511.5,890.5l0.5,1.5l1.5,1.5l3.5,1.5l5.5,1.5l6,0.5l6,0.5l13,-1l12.5,-1.5l6.5,-1.5l5.5,-1.5l4.5,-1.5l3,-1.5l2,-1.5l1,-1.5l0,-1.5l-1,-1.5l-3.5,-1.5l-7,-1.5l-12.5,-0.5l-13.5,0.5l-13,1.5l-7,1.5l-5,1.5l-3.5,1.5l-2.5,1.5l-2,1.5z"/>
<path fill="#ff2311" d="M514,890.5l0.5,1.5l2,1.5l6,2l10.5,1l12,0l12,-1.5l6.5,-1.5l6,-1.5l4,-1.5l3.5,-1.5l2,-1.5l1,-1.5l0,-1.5l-2,-1.5l-3.5,-1.5l-2.5,-0.5l-10.5,-1l-13.5,0.5l-12.5,1l-7.5,1.5l-5,1.5l-4,1.5l-3,1.5l-1.5,1.5z"/>
<path fill="#ff1f0e" d="M516.5,890.5l1,1.5l3,1.5l6,1.5l9.5,1l10.5,-0.5l10.5,-1l9.5,-2.5l4.5,-1.5l3.5,-1.5l2,-1.5l1,-1.5l-0.5,-1.5l-2,-1.5l-5.5,-1.5l-11,-0.5l-12,0l-10.5,1.5l-10.5,2l-4,1.5l-3,1.5l-1.5,1.5z"/>
<path fill="#ff1b0c" d="M519.5,890.5l1.5,1.5l3.5,1.5l4,1l9,0.5l9,0l9,-1.5l10.5,-2l5.5,-2.5l2,-1.5l1,-1.5l-0.5,-1.5l-2,-1l-6,-1.5l-9,-0.5l-10.5,0.5l-11,1l-7,2l-4,1l-3,1.5l-1.5,1.5z"/>
<path fill="#ff1609" d="M523,890.5l1.5,1.5l7,2l9,0.5l9,-0.5l9.5,-2l5.5,-1.5l4,-1.5l2,-1.5l0.5,-1.5l-1,-1.5l-4,-1.5l-3,-0.5l-7.5,0l-10.5,0l-10.5,2l-7,1.5l-3,1.5l-1.5,1.5z"/></g>
<path d="M448.8,701.6H793.7V980.8" fill="none" stroke="#1a1a1a" stroke-width="1"/>
<path d="M448.8,701.1V980.8H794.2" fill="none" stroke="#1a1a1a" stroke-width="1.6"/>
<path d="M448.8,980.8v5.3M448.8,980.8h-5.3M535.0,980.8v5.3M448.8,911.0h-5.3M621.2,980.8v5.3M448.8,841.2h-5.3M707.5,980.8v5.3M448.8,771.4h-5.3M793.7,980.8v5.3M448.8,701.6h-5.3" stroke="#1a1a1a" stroke-width="1.6" fill="none"/>
<path d="M491.9,980.8v2.8M448.8,945.9h-2.8M578.1,980.8v2.8M448.8,876.1h-2.8M664.4,980.8v2.8M448.8,806.3h-2.8M750.6,980.8v2.8M448.8,736.5h-2.8" stroke="#1a1a1a" stroke-width="1.6" fill="none"/>
<text x="448.8" y="1002.1" font-size="16" text-anchor="middle" fill="#000">0</text>
<text x="535.0" y="1002.1" font-size="16" text-anchor="middle" fill="#000">4</text>
<text x="621.2" y="1002.1" font-size="16" text-anchor="middle" fill="#000">8</text>
<text x="707.5" y="1002.1" font-size="16" text-anchor="middle" fill="#000">12</text>
<text x="793.7" y="1002.1" font-size="16" text-anchor="middle" fill="#000">16</text>
<text x="440.3" y="986.9" font-size="16" text-anchor="end" fill="#000">0</text>
<text x="440.3" y="917.1" font-size="16" text-anchor="end" fill="#000">1</text>
<text x="440.3" y="847.3" font-size="16" text-anchor="end" fill="#000">2</text>
<text x="440.3" y="777.5" font-size="16" text-anchor="end" fill="#000">3</text>
<text x="440.3" y="707.7" font-size="16" text-anchor="end" fill="#000">4</text>
<text x="621.2" y="1027.4" font-size="17.3" text-anchor="middle" fill="#000">k (&#197;<tspan font-size="11.5" dy="-7.0">&#8722;1</tspan><tspan dy="7.0" font-size="1">&#8203;</tspan>)</text>
<text transform="translate(426.0,841.2) rotate(-90)" font-size="17.3" text-anchor="middle">R+&#916;R (&#197;)</text>
<text x="411.5" y="729.0" font-size="28" text-anchor="start" fill="#000" font-weight="bold">h</text>
<text x="455.6" y="721.4" font-size="15" text-anchor="start" fill="#fff" font-weight="bold">MD-RuZrCoCrCeO<tspan font-size="9" dy="3.2">2</tspan><tspan dy="-3.2" font-size="1">&#8203;</tspan></text>
<text x="595.0" y="771.5" font-size="16" text-anchor="start" fill="#000">Ru-O-M</text>
<text x="529.3" y="893.8" font-size="16" text-anchor="start" fill="#000">Ru-O</text>
<g shape-rendering="geometricPrecision"><rect x="847.6" y="702.0" width="345.0" height="278.2" fill="#084f9a"/>
<path fill="#08549e" d="M847.5,980l345,0l0,-38.5l-16.5,-0.5l-16.5,-1l-19,-1.5l-5,-1.5l5.5,-1.5l10,-1.5l7,-1.5l2.5,-1.5l1,-4.5l1,-1.5l3,-3l2.5,-1.5l6,-3l5,-2l7.5,-2.5l6,-1l0,-210l-345,0z"/>
<path fill="#085aa2" d="M847.5,980l266.5,0l4.5,-1.5l10,-1.5l16.5,-1.5l26.5,-1l21,-0.5l0,-14.5l-7.5,0l-9,-0.5l-9,-1l-7.5,-1.5l-9,-2l-7.5,-3l-6,-3l-6.5,-4l-3,-1.5l-8.5,-2l-31.5,-2.5l-5.5,-1.5l13,-1.5l17,-1.5l8.5,-1.5l3,-0.5l2.5,-1l7.5,-6l6.5,-4.5l12,-7.5l9,-4.5l6.5,-3l8,-3l9.5,-3l7.5,-1.5l0,-196l-345,0z"/>
<path fill="#0860a6" d="M847.5,968.5l170,-0.5l28,-1l6,-0.5l7.5,-1.5l3,-1.5l3.5,-4l5.5,-5l2.5,-2.5l1,-1.5l1,-3l-0.5,-1.5l-1,-1.5l-4,-1.5l-11.5,-1.5l-56,-3l-2.5,-1.5l62,-3l17,-1.5l8.5,-1.5l28.5,-8.5l9,-3.5l10,-4.5l14,-9.5l7.5,-4.5l11,-4l25,-8l0,-186.5l-329.5,0l-1,3l-2,3l-3.5,4l-4.5,3l-4.5,2zM921,711l-1,-1.5l0.5,-1.5l0.5,-1l0.5,1l0.5,1.5z"/>
<path fill="#0865aa" d="M847.5,950.5l19,1.5l20,0.5l24,0l22.5,-0.5l19.5,-1l13.5,-1.5l6.5,-0.5l5.5,-1.5l2,-1.5l-1.5,-1.5l-7.5,-1.5l-18,-1.5l-47,-2l-16.5,0l-13.5,0l-15,1l-13.5,1zM847.5,935.5l24,1l25.5,0l73.5,-2l57,-2.5l18,-1.5l16.5,-2l16.5,-3l13.5,-3l19.5,-5l9,-2.5l4.5,-2l4.5,-2.5l13.5,-9.5l8,-4.5l8.5,-4l33,-12l0,-160.5l-3,-18l-264,0l1,4.5l0.5,3l-0.5,3l-1,3l-1.5,2l-1.5,1.5l-1.5,0.5l-1.5,-0.5l-1.5,-1l-2,-2.5l-1,-3l-0.5,-3l0.5,-3l1,-4.5l-40,0l-1.5,6l-3,6l-3,5l-4,5.5l-3.5,4l-4.5,3.5l-4.5,3l-4.5,2zM905.5,841l0,-1.5l2.5,-1.5l2.5,-0.5l3,0l4.5,1l2,1l0,1.5l-2,1.5l-3,1l-3,0l-5,-1z"/>
<path fill="#086daf" d="M847.5,931.5l28.5,1l27,0.5l31.5,-0.5l33,-1l30,-1l27,-2l27,-3l21,-3l10.5,-2l12,-2.5l13.5,-4l9,-3.5l7.5,-3.5l16,-10.5l8,-4.5l7.5,-3.5l22.5,-9l13.5,-6.5l0,-102l-1.5,-4.5l-1.5,-6.5l-8,-58l-252,0l0,3l0.5,4.5l-1,4.5l-0.5,3l-1.5,2.5l-1.5,2l-1.5,1.5l-1.5,1l-1.5,0l-1.5,0l-1.5,-0.5l-1.5,-1l-2,-2.5l-1.5,-3l-1.5,-3l-0.5,-4.5l-0.5,-4.5l0.5,-3l-23,0l-2,6l-4,7.5l-5,9l-7,10.5l-6,8l-4.5,6l-6,6.5l-6,5.5l0,54l7.5,7.5l4.5,5.5l3,5.5l1,3l0,1.5l-1,3l-2.5,3l-5,3l-7.5,3zM900,841l0,-1.5l1,-1.5l2,-1l3,-1l4.5,-1l4.5,0.5l4.5,0.5l4,2l1,1.5l0,1.5l-1,1.5l-2.5,1.5l-3,1l-4.5,0.5l-4.5,0l-4.5,-1l-3.5,-2zM946.5,823l1.5,-0.5l3,-0.5l3,0.5l1.5,0.5l0,1.5l-3,1l-1.5,0l-3,-0.5l-1.5,-0.5zM1019.5,833.5l0.5,-1.5l3,-1.5l4.5,-0.5l3,0.5l1.5,0.5l2,1l0.5,1.5l-1.5,1.5l-2.5,0.5l-3,0.5l-3,0l-3,-1zM1081.5,795l-1.5,-1l-0.5,-1l0.5,-0.5l1.5,-1l1.5,1.5zM1083,830.5l0.5,-1.5l1,-0.5l3,-1l3,0l3.5,1.5l0,1.5l-2,1.5l-3,0.5l-3.5,-0.5zM949.5,751l-1.5,-1.5l-0.5,-2.5l0.5,-2.5l1.5,-1l1.5,0l1.5,2l0,1.5l0,1.5l-0.5,1.5l-1,0.5z"/>
<path fill="#0876b5" d="M847.5,928.5l30,1.5l27,0.5l30,-0.5l31.5,-1l36,-1.5l27,-2l25.5,-3l18,-2.5l12,-2.5l10,-3l8.5,-3l14.5,-6.5l9,-4.5l22.5,-13l28,-13.5l8.5,-4.5l7,-4.5l0,-78l-3,-3.5l-2,-3.5l-2,-4.5l-1,-4.5l-1,-7.5l-2.5,-25.5l-5,-36l-243,0l0,4.5l0,4.5l-1,4.5l-1.5,4.5l-2,3l-2,3l-2.5,1.5l-3,1l-3,0l-1.5,-1l-3,-2l-3.5,-4l-4,-6l-1.5,-2l-1.5,-1l-1.5,-0.5l-1.5,0.5l-1.5,1l-4.5,4.5l-7.5,9l-6,8.5l-5,8.5l-6,10.5l-4.5,9l-4,9l-2.5,7.5l-0.5,6l-0.5,5.5l1,6l1,4.5l2,6l2.5,4.5l11,19.5l1,3l1,3l-0.5,1.5l-1.5,3l-3.5,3l-2,1.5l-6,3l-3.5,1.5l-12.5,4zM893.5,839.5l1,-1.5l2,-1.5l3,-1.5l6.5,-1.5l6,-0.5l6,1l5,1l3,1.5l1.5,1.5l0.5,1.5l0,1.5l-1,1.5l-3,2l-2.5,1l-3.5,1l-6,0.5l-7.5,-0.5l-6,-1.5l-4,-2.5l-1,-1.5zM941,824.5l0.5,-1.5l1.5,-1.5l3.5,-1l3,-0.5l3,0l3,0.5l3.5,1l1.5,1.5l0,1.5l-1.5,1.5l-3.5,1.5l-3,0l-4.5,0l-3,-0.5l-2,-1zM1016,833.5l0.5,-1.5l2,-1.5l4.5,-1.5l4.5,0l4.5,0.5l4,1l2,1.5l0,1.5l-1,1.5l-3,1.5l-6.5,1l-4.5,-0.5l-2.5,-0.5l-3.5,-1.5zM1079.5,830.5l0,-1.5l2,-1.5l3,-1l4.5,-0.5l3,0.5l4,1l1.5,1.5l0,1.5l-1,1.5l-1.5,1l-3,1l-3,0l-3,0l-3,-0.5l-2.5,-1.5zM949.5,754.5l-1.5,-1l-1.5,-1l-1,-2.5l-0.5,-3l0.5,-3l1,-3l1.5,-1.5l1.5,-0.5l1.5,0.5l2,1.5l1,1.5l0.5,1.5l0.5,3l-0.5,3l-1.5,3l-2,1zM1079,796l-1,-1.5l-0.5,-1.5l0.5,-1.5l0.5,-0.5l1.5,-1l1.5,0l1.5,0l1.5,1.5l1,1.5l-0.5,1.5l-1,1.5l-2.5,1l-1.5,0z"/>
<path fill="#0880bb" d="M847.5,926.5l31.5,1.5l24,0.5l28.5,-0.5l31.5,-0.5l36,-2l33,-2.5l19.5,-2l18,-3l10.5,-2l9.5,-3l7,-3l12,-6l16.5,-7l9,-4.5l19.5,-12l20,-11l12,-7.5l7,-5l0,-60l-4.5,-4l-3.5,-4l-2.5,-4.5l-2,-6l-1,-9l-1,-19.5l-1,-10.5l-5,-37.5l-139,0l-0.5,1.5l-1,1.5l-1,1l-1.5,0l-1.5,-1l-0.5,-1.5l-0.5,-1.5l-88,0l-1.5,10.5l-2.5,7.5l-3.5,6l-2,3l-2,1.5l-1.5,1.5l-3,1l-1.5,0.5l-3,0l-3,-0.5l-7.5,-3.5l-3,-0.5l-1.5,0l-3,1.5l-3,2l-4.5,4l-4.5,5l-4,5.5l-3.5,5l-3.5,7l-3,6l-2,6l-2,6l-1,4.5l-0.5,6l0,5.5l0.5,6l1.5,6l1.5,4.5l2.5,5l3.5,5.5l4,6l3,3.5l3,2l3,0.5l3,0l10.5,-0.5l6,-0.5l6,0.5l6,1l4.5,1.5l3,2l2,2l0,1.5l0,1.5l-1,1.5l-2,1.5l-3,1.5l-4.5,1.5l-5,1l-4.5,0.5l-6,-0.5l-15,-2l-3,0l-3,0l-4.5,1.5l-13.5,5.5l-9,3l-10.5,3zM937,824.5l0,-1.5l1.5,-1.5l3,-1.5l5,-1l4.5,-0.5l4.5,0.5l4.5,1l2.5,1.5l1.5,1.5l0,1.5l-1,1.5l-3,2l-4.5,1l-6,0.5l-4.5,0l-4.5,-1.5l-3,-1.5zM1012.5,833.5l0.5,-1.5l1.5,-1.5l3,-1.5l4,-1l6,-0.5l4.5,0.5l4.5,1l3,1.5l1.5,1.5l0,1.5l-0.5,1.5l-2.5,1.5l-1.5,0.5l-4.5,1.5l-4.5,0l-6,0l-4.5,-1.5l-1.5,-0.5l-2,-1.5zM1076.5,830.5l0,-1.5l1.5,-1.5l2,-1l4.5,-1.5l4.5,0l4.5,0.5l3,1l2.5,1l1,1.5l0,1.5l-0.5,1.5l-3,2l-3,1l-4.5,0.5l-4.5,0l-4.5,-1.5l-3,-2zM949.5,756.5l-1.5,0l-1.5,-1l-2,-2.5l-1,-3l-0.5,-4.5l0.5,-4.5l1.5,-3l1.5,-1.5l1.5,-1l1.5,0l1.5,0l1.5,1l1.5,1.5l1.5,3l1,4.5l-0.5,4.5l-1,3l-1,1l-1.5,1.5l-1.5,1zM1077,796.5l-1,-2l0,-1.5l1,-2l1.5,-1.5l1.5,-0.5l3,0l2.5,1l1,1.5l0.5,1.5l-0.5,1.5l-0.5,1.5l-1.5,1.5l-1.5,1l-3,0l-1.5,-0.5z"/>
<path fill="#088bc1" d="M847.5,925l25.5,1l30,1l27,-0.5l30,-0.5l33,-1.5l28.5,-2l25.5,-3l18,-2.5l11,-2.5l8.5,-3l6,-2.5l9,-5.5l5.5,-2.5l15.5,-5.5l7.5,-3l8.5,-5l18.5,-13l22.5,-14.5l7.5,-5.5l7.5,-6.5l0,-42l-7.5,-6.5l-4,-5l-3,-5.5l-2,-6l-1,-9l-0.5,-21l-1,-12l-1.5,-12l-4,-27l-132,0l-0.5,3l-2,3l-1.5,1.5l-3,0.5l-2.5,-0.5l-2,-2l-1.5,-2.5l-0.5,-3l-68,0l-2.5,4.5l-8.5,11.5l-5,8l-3.5,4.5l-5,4.5l-3,2l-4.5,2l-4.5,1l-9,1l-4.5,1.5l-3,1.5l-4.5,3.5l-3,2.5l-4,4.5l-3.5,4.5l-3,5l-2.5,5.5l-2,4.5l-1.5,6l-1,4.5l-0.5,5.5l0,4.5l1,6l1.5,4.5l2,4.5l2.5,4.5l3.5,4.5l3,3.5l3,2.5l3.5,1.5l6,1.5l28,2.5l1.5,-1l0,-3l0,-1.5l1,-1.5l1.5,-1.5l2,-1l6,-2l4.5,-1l4.5,0l7.5,1l5.5,1.5l2,1.5l1.5,1.5l0,1.5l-0.5,1.5l-1,1.5l-2.5,1.5l-6.5,2l-6,1l-13.5,-0.5l-2,0.5l0.5,1.5l1,3l0.5,1.5l-0.5,1.5l-0.5,1.5l-1,1.5l-2,1.5l-3,1.5l-5,2l-6,1.5l-6,0.5l-7.5,0l-12,0l-6,0.5l-4.5,1l-16,5l-20,5.5zM1009,833.5l0.5,-1.5l1,-1.5l2.5,-1.5l5.5,-1.5l7.5,-1l7.5,0.5l6,2l3,1.5l1.5,1.5l0,1.5l-0.5,1.5l-1.5,1.5l-3.5,1.5l-5,1.5l-7.5,0.5l-6,-0.5l-5.5,-1.5l-3,-1.5l-2,-1.5zM1073.5,830.5l0,-1.5l1.5,-1.5l2,-1.5l6,-1.5l6,-0.5l6,0.5l4.5,1.5l1.5,1.5l1,1.5l0,1.5l-0.5,1.5l-1,1.5l-2.5,1.5l-4.5,1.5l-4.5,0.5l-6,-0.5l-5,-1.5l-2.5,-1.5l-1.5,-1.5zM949.5,758.5l-1.5,0l-1.5,-0.5l-1.5,-1l-2,-2.5l-2,-4.5l-1,-6l0.5,-6l1.5,-4l1.5,-2l1.5,-1.5l1.5,-0.5l1.5,0l3,0.5l1.5,1l2,2l1,1.5l1.5,3l0.5,3l0.5,3l0,3l-0.5,3l-1.5,4.5l-2,2l-1.5,1.5l-1.5,0.5zM1077,798.5l-1.5,-2.5l-0.5,-3l0.5,-2l1.5,-1.5l1.5,-1l3,-1l3,1l2.5,1.5l1,1.5l0,3l-0.5,2l-1.5,2l-1.5,1l-3,0.5l-3,-0.5z"/>
<path fill="#0896c7" d="M847.5,924l21,1l25.5,0.5l24,0l24,-0.5l28.5,-1l30,-1.5l24,-2l22.5,-2.5l18,-3l7.5,-2l5,-1.5l6.5,-3l10,-6l6,-3l7,-2.5l10.5,-3.5l6,-2l6,-3l6,-3.5l6.5,-5l16,-14.5l16,-11l6.5,-5l7,-7l2.5,-3l2.5,-4l0,-17l-3,-4.5l-7.5,-8l-4.5,-6l-3,-5.5l-1.5,-4l-1,-3l-1,-9l0.5,-24l-1,-13.5l-2,-16.5l-4.5,-22.5l-68.5,0l-2,2l-1.5,0.5l-1.5,-0.5l-1,-0.5l-1.5,-1.5l-50,0l-1,4.5l-2,3l-1.5,1.5l-1.5,1l-3,1l-3,-0.5l-2.5,-1.5l-1.5,-1.5l-1.5,-3l-1.5,-4.5l-51,0l-3.5,7.5l-6,10.5l-1.5,3l0,1.5l0,3l2.5,10.5l0,4.5l0,3l-0.5,4.5l-1,3l-2.5,4.5l-1.5,1.5l-3,1.5l-3,0l-3,-1l-2.5,-2l-2,-3l-4.5,-8.5l-1.5,-2l-1.5,-0.5l-3,0.5l-7.5,3.5l-12,4.5l-6,3l-5,4l-5,4.5l-3.5,4.5l-3.5,6l-2.5,6l-1.5,6l0,5.5l0.5,4.5l1,4.5l1.5,4.5l2.5,4.5l3.5,4.5l3,2.5l4.5,3l4,2l5,1.5l4.5,1l4.5,0.5l3,-0.5l3,-0.5l6.5,-3.5l7,-2.5l7.5,-1l9,0l7.5,1l3.5,1l3,1.5l2,1.5l1,1.5l0.5,1.5l0,1.5l-0.5,1.5l-2,2.5l-3,1.5l-6,2.5l-10,2.5l-2,1l-4.5,3.5l-4.5,3l-6,2.5l-4.5,1.5l-6,1.5l-6,1l-19.5,1l-7.5,1l-6,1l-36,10.5zM1004.5,833.5l0.5,-1.5l1.5,-1.5l2,-1.5l2.5,-1l7.5,-2l7.5,-0.5l7.5,0.5l4.5,1l3,1l3,1l2,1.5l1,1.5l0.5,1.5l-0.5,1.5l-1.5,1.5l-2.5,1.5l-5,2l-4.5,0.5l-7.5,0.5l-7.5,-0.5l-7.5,-1.5l-4.5,-2.5l-1.5,-1.5zM1070,830.5l0.5,-1.5l1,-1.5l2.5,-1.5l3,-1.5l6,-1.5l6,-0.5l6,1l4.5,1l2.5,1.5l1.5,1.5l0.5,1.5l0,1.5l0,1.5l-1,1.5l-3.5,2.5l-4.5,2l-6,0.5l-7.5,-0.5l-6,-2l-2,-1l-2,-1.5l-1,-1.5zM1078.5,801l-2.5,-2l-1,-1.5l-1,-3l0.5,-3l0.5,-1.5l1.5,-1l2,-1.5l3,-0.5l3,0.5l2.5,1.5l1,1l1,1.5l0.5,1.5l-0.5,3l-1.5,2.5l-1.5,1.5l-1.5,1l-3,0.5z"/>
<path fill="#08a1cd" d="M847.5,922.5l25.5,1.5l21,0.5l24,0l24,-0.5l31.5,-1l27,-1.5l22.5,-2l19.5,-2l16.5,-3l6.5,-1.5l5.5,-2l6.5,-2.5l13,-7.5l6,-3l8,-3l17.5,-5.5l6,-3l4.5,-2.5l5,-4l4.5,-4.5l10,-13l3,-3.5l4.5,-3.5l12,-8l6,-5l2.5,-3l2,-3l2,-4.5l0.5,-3l0,-4.5l-1.5,-4.5l-2.5,-4.5l-6,-8.5l-2.5,-5l-2,-4.5l-2,-6l-0.5,-4l0,-6l1,-24l0,-7.5l-0.5,-7.5l-1,-9l-1.5,-9l-5.5,-22.5l-61,0l-2.5,3.5l-1.5,1l-3,1l-3,-0.5l-1.5,-1.5l-1.5,-1.5l-0.5,-2l-46,0l-0.5,3l-1,3l-1.5,2.5l-1.5,2l-3,2l-1.5,0.5l-3,0l-1.5,0l-2.5,-1l-2.5,-1.5l-1.5,-1.5l-2.5,-4.5l-1.5,-4.5l-40,0l-6.5,14.5l-5,9.5l-1,2.5l-1,5l-0.5,10.5l-1,6l-2.5,6l-2.5,3.5l-1.5,1.5l-3,1.5l-1.5,0l-3,0l-2,-0.5l-2.5,-1.5l-6,-5.5l-1.5,-1l-1.5,-0.5l-1.5,0l-4.5,1.5l-12,5.5l-6,3l-4.5,3l-4.5,4l-3,3.5l-2.5,4.5l-2,4.5l-1,4.5l-0.5,4l1,4.5l0.5,3l1.5,3l2,3l2.5,3l3,3l6,4l6,2.5l6,1l4.5,-0.5l15,-2.5l7.5,-0.5l9,0l9,2l6,2.5l3.5,2l1.5,1.5l1,1.5l1.5,3l2,6l-0.5,1.5l-1.5,1.5l-3,1.5l-5,1.5l-19,4l-22.5,6l-10.5,2l-19.5,1.5l-7.5,1l-10.5,2.5l-33,9.5zM996.5,833.5l1.5,-1.5l2,-1.5l2.5,-1.5l5.5,-2l9,-2l9,-0.5l9,0.5l4.5,1l4.5,1.5l4,1.5l2,1.5l1.5,1.5l0.5,1.5l-0.5,1.5l-1.5,1.5l-2,1.5l-4,2l-4.5,1l-4.5,1l-9,0.5l-10.5,-1l-10,-2l-4,-1.5l-3,-1.5l-1.5,-1.5zM1066,832l0,-1.5l1,-1.5l1,-1.5l2,-1.5l2.5,-1l3,-1.5l4.5,-1l7.5,-1l7.5,0.5l3,0.5l3,1.5l3,2l1.5,1.5l0.5,1.5l0,1.5l0,1.5l-1,1.5l-1,1.5l-3,2.5l-4.5,2l-6,0.5l-7.5,0l-4.5,-1l-4.5,-1l-3,-1.5l-2.5,-1.5l-1.5,-1.5zM1080,802.5l-3,-1l-2.5,-2.5l-1.5,-3l0,-3l1,-3l1,-1l2,-1.5l3,-1.5l3,0l3.5,1.5l1.5,1.5l1.5,1l1,3l0,3l-1.5,3l-3,2.5l-3,1z"/>
<path fill="#08add3" d="M847.5,921.5l22.5,1l22.5,1l24,0l25.5,-0.5l22.5,-1l28.5,-1.5l27,-2l18,-2l10.5,-1.5l7.5,-1.5l7.5,-2l4.5,-1.5l6,-3l11,-6l9,-4.5l8.5,-3.5l18,-5.5l4.5,-2l4.5,-2.5l5.5,-4.5l5,-6l3.5,-6l4,-9l3,-4.5l1.5,-2l3,-2.5l9.5,-6l4,-3l3.5,-4.5l1.5,-3l1,-3l0,-3l-0.5,-4.5l-2,-4.5l-4.5,-9l-1.5,-4.5l-1.5,-4.5l-1,-4.5l-0.5,-4.5l0.5,-5.5l2.5,-27l0,-7.5l-0.5,-6l-1,-9l-1.5,-9l-3,-12l-3.5,-12l-54.5,0l-2,3l-3,3l-2,1l-3,0.5l-3,-0.5l-2,-1l-2.5,-3l-1.5,-3l-42,0l-1.5,6l-1.5,3l-1.5,2l-1.5,1.5l-3,2l-1.5,0.5l-3,0.5l-4.5,-1l-2,-1l-2.5,-1.5l-4,-4.5l-4.5,-7.5l-28.5,0l-3.5,6l-6,13.5l-6,12.5l-1.5,4.5l-2.5,11.5l-1.5,4.5l-2.5,4.5l-2.5,2.5l-3,2.5l-1.5,0.5l-3,0.5l-4.5,-0.5l-7.5,-3l-3,0l-3,1l-9,4l-7.5,4.5l-5.5,4.5l-4,4.5l-1.5,3l-1.5,3l-0.5,3l0,2.5l0,3l1,3l2,3l2,3l3.5,3l3,2l4.5,2.5l4.5,1.5l3,0.5l4.5,0.5l22.5,-0.5l6,0.5l6,1l6,2l4.5,1.5l10.5,6l3,1.5l6,1l6,0l18,-2.5l12,-0.5l6,0.5l6,1l5,1l8.5,3l3,0.5l3,-0.5l8,-4.5l2.5,-1l7.5,-2.5l4.5,-0.5l4.5,-0.5l7.5,0.5l6,2l3,1.5l2.5,2l1,1.5l0.5,3l0,1.5l-1,2l-3,3.5l-3,2.5l-4.5,1.5l-4.5,1l-6,0l-6,-0.5l-6,-1.5l-10.5,-3l-3,-0.5l-3,0.5l-5.5,2l-6.5,2l-6,1l-6,1l-6,0l-7.5,0l-19.5,-1.5l-6,0l-6,0.5l-33,3.5l-10.5,1.5l-22.5,4.5l-21,2.5l-9,1.5l-12,2.5l-33,9zM1078.5,803.5l-3,-1.5l-2.5,-3l-1,-3l0,-3l0.5,-1.5l1.5,-2.5l3,-2.5l3,-1l3,0l1.5,0.5l3.5,1.5l1.5,1.5l1,1l1,3l0,3l0,1.5l-1,1.5l-1.5,2l-3,2.5l-3,0.5l-1.5,0.5z"/>
<path fill="#08b8da" d="M847.5,920.5l21,1l24,1l24,0l24,-0.5l27,-1l27,-1.5l22.5,-1.5l19.5,-2.5l14.5,-2.5l11,-3l7,-3l10.5,-6l9,-4.5l12.5,-5l18,-6l4.5,-2l4.5,-2.5l3,-2.5l3,-3l2.5,-3l1.5,-3l2.5,-6l3,-10.5l3,-6l4,-6l9.5,-9l2,-3l0.5,-3l0.5,-3l-0.5,-3l-3.5,-15l-0.5,-4.5l0,-4.5l0.5,-8.5l3,-18l1,-7.5l0.5,-9l0,-9l-1,-9l-2.5,-10.5l-3,-12l-4,-10.5l-48.5,0l-3,4.5l-3.5,3l-3,1.5l-3,0.5l-3,-0.5l-3,-2l-2.5,-2.5l-2,-4.5l-39,0l-1,4.5l-1,3l-2,3l-2,2.5l-2,2l-2.5,1.5l-3,0.5l-3,0.5l-5,-1l-3.5,-1.5l-2.5,-1.5l-3.5,-3l-8,-7.5l-4.5,-3l-10.5,0l-3,2.5l-1.5,2l-3.5,6l-7,14.5l-6,12.5l-6,16.5l-1.5,3l-2,3l-4,3.5l-3,1.5l-1.5,0.5l-3,0.5l-9,0l-4.5,1l-8,5l-6.5,4.5l-4.5,4.5l-1.5,3l-1,3l0,2.5l0.5,3l1.5,3l1,1.5l3,3l3.5,2.5l4.5,2l4.5,1.5l8,1.5l14.5,1.5l10.5,1.5l9,2l16.5,6l4.5,1.5l4.5,0.5l6,0.5l16.5,-1l10.5,0.5l7.5,0.5l13.5,2.5l4.5,0l4.5,-0.5l12,-4l7.5,-2l9,-0.5l7.5,1l4.5,1l3,2l3,2l1.5,1.5l1,1.5l0.5,3l-0.5,3l-1.5,3l-4,4.5l-3,2.5l-3,1.5l-3,1l-3,0l-4.5,0l-21,-3l-7.5,-0.5l-25.5,2.5l-10.5,0.5l-18,-0.5l-7.5,0l-36,3l-15,1.5l-22,3.5l-29,4l-19.5,4.5l-28.5,7.5zM1077,805l-1.5,-1l-2,-2l-1,-1.5l-1,-3l-0.5,-1.5l0,-3l1.5,-3l2,-2.5l2.5,-1.5l3,-1l3,0l3,0.5l1.5,0.5l3,3l1,1l1.5,3l0,3l0,1.5l-1.5,3l-2.5,3l-1.5,1l-3,1.5l-1.5,0l-3,0z"/>
<path fill="#06cce5" d="M847.5,919.5l22.5,1.5l21,0.5l24,0l24,0l22.5,-1l27,-1.5l25.5,-2l18,-2l15,-2.5l6,-2l6,-2l6,-2.5l12.5,-6.5l10,-4.5l13.5,-5.5l16.5,-5.5l4.5,-2l3,-2l3,-2l2.5,-2.5l2,-3l2,-3l1.5,-4.5l2.5,-12l1.5,-4.5l3,-7l6,-11l2,-6l1,-6l0.5,-15l1,-7.5l1,-7l4.5,-18l2,-9l0.5,-7.5l0,-6l-0.5,-7.5l-1,-7.5l-2,-9l-2.5,-7.5l-2.5,-7.5l-3.5,-7.5l-41.5,0l-3.5,4.5l-5,4l-4,2l-3.5,0.5l-3,-0.5l-1.5,-0.5l-3,-2l-2.5,-3.5l-2,-4.5l-36,0l-2,7.5l-1.5,3l-2.5,3l-3,3l-3,1.5l-3,1l-3,0.5l-6,-0.5l-7,-2.5l-6,-3l-8,-6l-3,-1.5l-3,-0.5l-3,1l-3,2l-1.5,1.5l-3,4l-15,30l-5,11.5l-4,6l-3,3.5l-4.5,3l-10.5,4l-5,3l-4,3l-3,3l-2.5,3l-0.5,1.5l-0.5,2.5l0,1.5l0.5,2.5l1.5,2l3.5,3l5.5,3l9,3l22.5,5.5l21,6l10.5,2.5l9,1.5l24,0.5l18,1.5l4.5,0l6,-0.5l15,-4l9,-2l7.5,0l7.5,2l3,1.5l3,1.5l3,2.5l2,2.5l1,1.5l0.5,3l-0.5,3l-1.5,4l-4.5,8l-1.5,1.5l-1.5,1l-1.5,1l-3,1l-4.5,0l-27,-3.5l-13.5,-0.5l-22.5,1l-31.5,0.5l-33,2l-24,2l-43.5,6.5l-16.5,3l-24,6.5l-10.5,3zM1081.5,808.5l-4.5,-1.5l-3,-2l-1.5,-1.5l-1.5,-3l-1,-4.5l1,-4.5l1.5,-2.5l1,-1.5l3.5,-2.5l2.5,-0.5l2,-0.5l4.5,1l2.5,1l2,1.5l1.5,1.5l1.5,2.5l0.5,1.5l0.5,3l-0.5,3l-0.5,2l-1.5,2.5l-1.5,2l-3,2l-3,1z"/>
<path fill="#04e2f1" d="M847.5,918.5l21,1.5l22.5,0.5l22.5,0.5l22.5,-0.5l27,-1l25.5,-1l22.5,-2l18,-2.5l15,-2.5l10.5,-3l6,-2.5l19,-9.5l20,-8.5l17.5,-6.5l3.5,-1.5l3,-2l3,-2.5l1.5,-1.5l2,-3l1.5,-3l1.5,-4.5l1.5,-10.5l1,-4.5l8.5,-21l2,-7.5l1.5,-16.5l1.5,-7.5l1.5,-6l6,-17.5l1,-6l1.5,-7.5l0.5,-6l0,-7.5l-1,-7.5l-1.5,-7.5l-2.5,-9l-2.5,-7.5l-3,-6.5l-3,-5.5l-34,0l-6,6l-5,3.5l-4.5,2l-4.5,1l-2.5,-0.5l-2,-0.5l-3.5,-2.5l-1.5,-1.5l-2,-3l-2,-4.5l-33,0l-1.5,4.5l-1.5,4.5l-1.5,3l-3,3.5l-3,2.5l-3,2l-3,1l-3,0.5l-7.5,-0.5l-7.5,-1l-5.5,-2l-9.5,-5.5l-3,-0.5l-3,0.5l-3,2.5l-2.5,3l-2,3l-18.5,36l-4,6l-4.5,5.5l-9,8l-3,3l-2,3l-1,3l0,2.5l1.5,3l3,3l4.5,3l7.5,3l8,3l23.5,8.5l12,3l10.5,1.5l10,0.5l29,1l6,0l6,-1l7.5,-2.5l4.5,-2l1.5,-1.5l0,-1.5l-4.5,-6.5l-1.5,-5.5l-0.5,-4.5l1,-3l1.5,-2.5l1.5,-1.5l1.5,-1.5l2.5,-1.5l4.5,-1l3,0l2.5,1l3,1.5l1.5,1.5l2.5,2.5l1.5,3l0.5,3l0,3l-0.5,3l-1.5,6l-0.5,1.5l1,1.5l1.5,1.5l6.5,3.5l6,5l3.5,3.5l1.5,3l0.5,3l0,3l-3,10.5l-2,4.5l-2,2l-1.5,1l-3,1.5l-4.5,0.5l-6,-0.5l-24,-3.5l-16.5,-1l-46.5,0.5l-31.5,1.5l-28.5,2.5l-39,5l-18,3l-18,4.5l-22.5,6.5z"/>
<path fill="#01fbfd" d="M847.5,918l22.5,1l21,1l22.5,0l24,0l22.5,-1l25.5,-1.5l22.5,-1.5l18,-2.5l15,-3l6,-1.5l6,-2l22.5,-10.5l38.5,-16.5l6.5,-3.5l3,-2.5l1.5,-1.5l2,-3l1,-3l1,-4.5l0.5,-7.5l0.5,-4.5l1.5,-4.5l6,-12l2.5,-7.5l2,-7.5l2,-15l1,-6l2,-7.5l7.5,-19l1.5,-6l1,-6l0.5,-6l0,-7.5l-0.5,-6l-1.5,-7.5l-2,-7.5l-2.5,-7.5l-3.5,-7l-3,-4.5l-2.5,-3.5l-24.5,0l-10,7.5l-5,3l-3,1.5l-3,1l-4.5,0.5l-4.5,-0.5l-1.5,-1l-3,-2l-3.5,-4l-2.5,-6l-30,0l-3,9l-4,6l-2,2.5l-2.5,2l-2,1.5l-3,1l-3,1l-4.5,0.5l-6,0.5l-6,-0.5l-6,-1l-7.5,-3.5l-3,-1l-3,0l-1.5,0.5l-3,2l-1.5,2l-3,4.5l-19.5,35.5l-8.5,14l-2,4.5l0,3l0.5,3l1.5,2.5l2.5,3l4,3l3.5,2.5l12,5.5l13.5,5l15,4l13.5,2l16.5,0.5l10.5,0l9,-1l7.5,-1.5l4.5,-2l2,-1.5l1,-1.5l0,-1.5l-1.5,-7.5l0,-4.5l1,-4.5l2,-3.5l3,-2.5l2,-1l2.5,-1.5l4.5,0l3,0.5l2.5,1l2.5,1.5l2,1.5l2.5,2.5l2,4.5l2,9l1,3l2,3l10.5,13.5l3,4.5l0.5,3l0.5,3l-1.5,13.5l-1,3l-3,3l-2,1.5l-2.5,1l-3,1l-3,0l-6,-0.5l-22.5,-4l-18,-1.5l-13.5,-0.5l-22.5,0l-33,1l-27,2l-25.5,2.5l-31.5,4l-10.5,2l-12,3l-16.5,4l-15,5z"/>
<path fill="#00fdf7" d="M847.5,917l21,1.5l24,1l24,0l25.5,-0.5l27,-1l25.5,-2l21,-2l16.5,-2.5l10.5,-2.5l9,-3.5l16.5,-7.5l24.5,-10.5l21,-10.5l5,-3l2.5,-3l1,-1.5l1.5,-3l0,-4.5l-1.5,-4l-1.5,-1l-1.5,0l-9,2l-3,0.5l-4.5,0l-6,-0.5l-18,-4l-15,-2l-16.5,-1l-22.5,-0.5l-34.5,0.5l-34.5,2l-15,1.5l-21,2.5l-13.5,2l-13.5,2.5l-13.5,3l-12,3l-19.5,6zM1129.5,838.5l3,-4.5l1.5,-3l2.5,-6.5l1.5,-6l2.5,-15l1,-6l2.5,-7.5l6,-13l2.5,-7.5l2,-7.5l1,-9l0.5,-6l-1,-7.5l-1.5,-7.5l-2,-7.5l-3,-7.5l-3,-6l-4,-5l-3,-2.5l-2.5,-1.5l-10.5,0l-6.5,3l-12.5,7.5l-4,2l-6,2l-4.5,0.5l-3,-0.5l-3,-1l-4,-3l-4,-4.5l-3,-6l-26.5,0l-3.5,9l-3,6l-4,4.5l-3,2l-3,1.5l-3,1.5l-4.5,1l-7.5,1l-6,0l-6,-0.5l-9,-3l-3,-0.5l-3,1l-1.5,1l-3,3l-4.5,7l-11.5,21l-7,13.5l-2.5,7.5l-0.5,4.5l0.5,4.5l2.5,4l4.5,4.5l7,4.5l9,4.5l10,4l10.5,2.5l10.5,2l10.5,1l12,0l10.5,-0.5l10.5,-2l3,-1l3,-1.5l1.5,-1.5l1,-1.5l0.5,-3l0.5,-6l0.5,-3l1.5,-4.5l2,-2.5l3,-3l4,-1.5l3.5,-1l4.5,0.5l3,1l3.5,2.5l3.5,3l3,4l3.5,7l5.5,8l4.5,9l5.5,9l2,4.5l1,6l1,4l1.5,1.5l1.5,0l1.5,-0.5z"/>
<path fill="#00faec" d="M847.5,916l21,1.5l22.5,1l24,0.5l24,-0.5l24,-1l27,-1.5l19.5,-2l16.5,-2.5l10.5,-2.5l9,-3l43,-18.5l11.5,-6l9.5,-6l3.5,-3l1,-1.5l1,-1.5l0,-1.5l-0.5,-1.5l-2.5,-1.5l-9.5,-2l-16.5,-4.5l-7.5,-2l-9,-1.5l-9,-1l-19.5,-1l-34.5,0l-19.5,0.5l-18,1l-16.5,1l-16.5,1.5l-21,2.5l-13.5,2l-13.5,3l-13.5,3l-15,4.5l-12,4zM1153,738l-1,-6l-2,-6l-2.5,-6l-2,-4.5l-2.5,-3.5l-3,-3.5l-3,-2l-3,-1.5l-4.5,-0.5l-4.5,1l-4.5,2l-12.5,6.5l-5.5,2l-6,2l-4.5,0l-3,0l-3,-1l-4.5,-3l-4,-4.5l-4,-7.5l-23,0l-4.5,10.5l-3.5,6l-4.5,4.5l-3,2.5l-3,1.5l-3,1l-4.5,1.5l-13.5,2l-6,-0.5l-9,-2l-3,0l-3,1l-3,2.5l-3,3.5l-4.5,7.5l-7,12.5l-4.5,9l-2,6l-1.5,4.5l-0.5,4.5l0.5,4.5l1,3l2,2.5l4,4.5l6.5,5l9,4.5l10.5,4l12,2.5l10.5,1.5l12,0.5l9,-0.5l9,-1l6,-1.5l4.5,-2l1.5,-1l1.5,-2l1,-2.5l2,-7.5l1,-3l1.5,-2.5l2.5,-3l2.5,-2l4.5,-2l4.5,-0.5l4.5,1l4.5,2l4,3l14,14.5l3,4.5l3,9l3,6l4.5,6.5l1.5,1.5l1.5,0.5l1.5,-0.5l1.5,-1l1.5,-2l1.5,-3.5l2,-6l2.5,-13.5l2,-7.5l2.5,-7l7,-15l3,-7.5l1.5,-6l1,-7.5l0,-7.5z"/>
<path fill="#00f2d9" d="M847.5,915.5l19.5,1.5l21,1l22.5,0.5l24,-0.5l27,-1l22.5,-1.5l19.5,-2l16.5,-2l12,-2.5l10.5,-3.5l42.5,-18l8.5,-4.5l6.5,-4.5l3.5,-3l1,-1.5l1,-1.5l0,-1.5l-0.5,-1.5l-1,-1.5l-2,-1.5l-3,-1.5l-7.5,-3l-8.5,-2.5l-7.5,-1.5l-10.5,-2l-10.5,-1l-12,-0.5l-18,-0.5l-19.5,0l-37.5,1.5l-18,1l-16.5,1.5l-15,2l-16.5,2.5l-15,3l-13.5,3.5l-13.5,4l-12,4zM1152,739.5l-1.5,-6l-1.5,-5l-2,-5.5l-2.5,-4.5l-1.5,-3l-3,-3l-3,-2.5l-3,-1.5l-3,-0.5l-4.5,0.5l-4.5,1.5l-13,5.5l-6.5,2.5l-6,1l-4.5,0.5l-3,-0.5l-3,-1l-4.5,-2.5l-4.5,-4.5l-5.5,-9l-19.5,0l-5.5,12l-4,6l-4.5,5l-4.5,3l-3,1l-4.5,1.5l-13.5,3l-6,0.5l-10.5,-1l-3,0l-3,1l-3,2.5l-3,4l-4,6.5l-5,9l-3.5,7.5l-2.5,6l-1,4.5l-0.5,4.5l0.5,4.5l1,3l2,3l3.5,4l5.5,4.5l4,2.5l4.5,2.5l10.5,3.5l10.5,2.5l10.5,1.5l10.5,0.5l7.5,-0.5l7.5,-1l7.5,-1.5l4.5,-1.5l3,-2l1.5,-1.5l1.5,-3l2.5,-6.5l1,-3l2,-2.5l3.5,-3l3,-2l4.5,-1.5l3,0l4.5,0.5l4.5,2l4,2.5l6.5,5l10,6.5l2.5,3l2,3l5,13l2,2l1,1l1.5,0l1.5,-1l1.5,-3l4,-13.5l2,-6l2.5,-6l8.5,-16l3.5,-9l1.5,-6l1,-6l0,-6z"/>
<path fill="#00eac9" d="M847.5,914.5l18,1.5l21,1l22.5,0.5l22.5,0l24,-1l24,-1.5l21,-2l16.5,-2l12,-2.5l10.5,-3.5l33,-13.5l9.5,-4l8,-4.5l6,-4.5l2.5,-3l1,-1.5l0.5,-1.5l-0.5,-1.5l-0.5,-1.5l-1.5,-1.5l-4.5,-3l-7,-2.5l-6,-2l-9,-2l-9,-1.5l-10.5,-1l-12,-0.5l-18,-0.5l-19.5,0l-18,0.5l-18,1l-30,2.5l-18,2l-13.5,2l-15,3l-16.5,4l-15,4.5l-10.5,4zM972,784.5l2.5,4.5l4,4l4,3.5l6,3.5l6,2.5l7.5,2.5l9,2l7.5,1l10.5,0.5l9,-0.5l10.5,-1.5l7.5,-2.5l3,-1.5l2,-2l1,-1.5l4,-9l3.5,-4l3,-2.5l3,-1.5l3,-1l3,-0.5l3,0l3,0.5l5.5,2l11,6l9.5,4l4.5,3l5.5,5l1.5,0.5l1.5,-0.5l1.5,-1l1.5,-2l10.5,-16.5l5,-9l3,-7.5l2,-7.5l1,-9l-1,-9l-1.5,-7.5l-3,-7.5l-3,-6l-4,-4l-1.5,-1.5l-3,-1.5l-3,-0.5l-4.5,0.5l-4.5,1l-11.5,4.5l-8,2.5l-6,1l-6,0l-3,-1l-3,-1l-4.5,-3l-4.5,-4.5l-6.5,-9l-14.5,0l-2,3l-5.5,10.5l-3,4.5l-4.5,5.5l-5,3.5l-4,2l-4.5,1.5l-13.5,3l-6,1l-10.5,-0.5l-3,0.5l-3,1l-3,3l-3,3.5l-4.5,7.5l-4,7.5l-3,7.5l-1,4.5l-1,4.5l0.5,4.5z"/>
<path fill="#00e4be" d="M847.5,913.5l18,2l19.5,1l21,0.5l22.5,0l22.5,-1l24,-1l21,-2l16.5,-2.5l12,-2l12,-4l39,-15.5l9,-4.5l6.5,-4.5l3,-3l0.5,-1.5l1,-1.5l0,-1.5l-0.5,-1.5l-1,-1.5l-3.5,-3l-4.5,-2l-6,-2.5l-7.5,-2l-9,-1.5l-9,-1l-13.5,-1l-16.5,-0.5l-18,0l-34.5,1l-19.5,1l-15,1.5l-28.5,3.5l-16.5,3l-16.5,4l-16.5,5l-12,4.5zM974.5,783l2,4.5l4,4l3.5,3.5l6,3.5l7.5,3l7.5,2.5l9,1.5l7.5,1l9,0l9,-0.5l9,-1.5l6,-2l3,-1.5l3,-3l5.5,-9l4.5,-4.5l2,-2l2.5,-1l5,-1.5l4.5,0l4.5,0.5l4.5,1.5l10.5,4.5l9,2.5l9,3.5l3,0l1.5,0l1.5,-1l3,-2.5l6,-7l6,-9.5l3.5,-7.5l2,-7.5l1,-7.5l-0.5,-9l-1.5,-7.5l-3,-7.5l-3,-5l-3,-3.5l-1.5,-1l-3,-2l-3,-0.5l-4.5,0l-14.5,4.5l-9.5,2l-7.5,1l-6,-0.5l-4.5,-1l-4.5,-3l-3.5,-3l-7,-8.5l-3,-2.5l-1.5,-1l-6.5,0l-2.5,2l-1.5,1.5l-7.5,13l-3.5,4.5l-4,4l-4.5,3.5l-6,2.5l-10.5,3.5l-10.5,2l-13.5,0.5l-3,1l-3,2.5l-3,3l-4,6l-4,7.5l-2,6l-1.5,4.5l-0.5,4.5l0,4.5z"/>
<path fill="#00deb3" d="M847.5,912.5l16.5,2l19.5,1.5l21,0.5l22.5,0l24,-1l22.5,-1l19.5,-2l16.5,-2l12,-2.5l12,-3.5l25.5,-10l13.5,-5.5l8.5,-4.5l6.5,-4.5l3,-3l0.5,-1.5l0.5,-1.5l0,-1.5l-0.5,-1.5l-1,-1.5l-4,-3l-6,-2.5l-6,-2l-7.5,-1.5l-9,-1.5l-10.5,-1l-12,-0.5l-16.5,-0.5l-18,0l-33,1l-30,2l-13.5,1.5l-16.5,2.5l-16.5,3l-16.5,4.5l-15,4.5l-12,5zM976.5,781.5l2,4.5l3.5,4l5,4.5l6,3l7.5,3.5l7.5,2l9,1.5l7.5,0.5l9,0l7.5,-1l7.5,-1.5l6,-2l3,-2l3,-3l6,-8l3,-3.5l4.5,-3l3,-1l3,-0.5l3,-0.5l4.5,0.5l4.5,1l7.5,3l4.5,1l16.5,3l3,0l3,-0.5l1.5,-0.5l3,-2l4.5,-4.5l5.5,-7.5l3.5,-7.5l2.5,-7.5l1,-7.5l-0.5,-7.5l-1.5,-7.5l-2,-6l-2.5,-4.5l-3,-4l-1.5,-1l-3,-2l-3,-1l-4.5,0l-15,4l-9,1.5l-7.5,1l-6,-0.5l-3,-1l-3,-1l-4.5,-3l-2.5,-2l-6.5,-7l-3,-2.5l-3,-1.5l-3,0l-3,1l-3,3l-7,11.5l-4.5,6l-3.5,3l-4.5,3l-7.5,3.5l-13.5,3.5l-6,1.5l-10.5,0.5l-3,1l-3,1l-3,2l-3,3.5l-3,4.5l-3,6l-2,6l-1.5,4.5l-0.5,4.5l0.5,4.5z"/>
<path fill="#00d7a8" d="M847.5,912l15,1.5l19.5,1.5l19.5,1l22.5,0l24,-1l22.5,-1l19.5,-2l16.5,-2l12,-2.5l12,-3.5l22.5,-8.5l16.5,-6.5l9,-4.5l6,-4.5l2.5,-3l1,-1.5l0,-1.5l0,-1.5l-0.5,-1.5l-1.5,-1.5l-3,-2l-4.5,-2.5l-7.5,-2l-7.5,-2l-9,-1l-22.5,-1.5l-31.5,-1l-31.5,1l-18,1l-15,1.5l-27,3.5l-16.5,3l-18,4.5l-15,5l-12,5zM979,781.5l2,4.5l4,4l4,3l5.5,3.5l7.5,3l7.5,2l7.5,1.5l9,0.5l7.5,0l7.5,-1l7.5,-2l6,-2l3,-2l1.5,-1.5l6.5,-7.5l4,-4.5l4.5,-2.5l4.5,-1.5l4.5,-0.5l4.5,0.5l13.5,3l4.5,1l15,1l3,0l3,-0.5l4.5,-2.5l4.5,-4.5l4.5,-6l3.5,-7l2,-6l1,-7.5l-0.5,-7.5l-1,-6l-2,-6l-3,-5l-3,-3.5l-1.5,-1l-3,-1.5l-3,-0.5l-3,0l-15,3l-12,2l-6,0l-4.5,-0.5l-6,-2l-4.5,-2.5l-2.5,-2l-6.5,-6l-3,-2.5l-3,-1l-3,0l-3,1.5l-1.5,1l-3,4l-6,9l-3.5,4.5l-4,3l-4.5,3l-7.5,3.5l-12,3.5l-7.5,1.5l-10.5,1.5l-3,1l-3,1.5l-3,2l-3,4l-2.5,4l-2,4.5l-2,4.5l-1,4.5l0,4.5l0,4.5z"/>
<path fill="#00cf9e" d="M847.5,911l14.5,2l17,1.5l19.5,0.5l21,0.5l22.5,-0.5l22.5,-1.5l19.5,-1.5l17.5,-2l12.5,-2.5l12,-3l16.5,-6l21,-8.5l9,-4l7.5,-4.5l3,-3l1,-1.5l0.5,-1.5l0.5,-1.5l-0.5,-1.5l-0.5,-1.5l-1.5,-1.5l-2,-1.5l-3.5,-1.5l-6,-2.5l-7.5,-1.5l-7.5,-1l-10.5,-1.5l-12,-0.5l-31.5,-1l-31.5,0.5l-15,1l-15,1l-27,3.5l-21,4l-18,4.5l-15,5l-6,2.5l-6,3zM980.5,780l2,4.5l4,4.5l3.5,3l6,3.5l7.5,3l7.5,2l7.5,1l7.5,0.5l7.5,0l6,-1l7.5,-1.5l6,-2l3,-2l3,-2.5l6.5,-7l3.5,-3l5,-3l4.5,-1.5l4.5,-0.5l4.5,0l12,2.5l4.5,0.5l16.5,0l4.5,-0.5l4.5,-2l4.5,-3.5l4.5,-5.5l3,-5.5l2.5,-6.5l1,-6l0,-7.5l-1,-6l-2.5,-6l-2.5,-4.5l-3.5,-3.5l-3,-2l-3,-0.5l-3,0l-13.5,2l-9,1l-9,0.5l-6,-0.5l-5.5,-1.5l-5,-2.5l-12,-9l-3,-1l-3,0l-1.5,0.5l-3,2.5l-8,11l-4,4.5l-4.5,3.5l-3.5,2.5l-7,3l-10.5,3.5l-9,2l-13.5,2.5l-3,1.5l-3,2l-3,3.5l-2,3l-2.5,4.5l-1.5,4.5l-1,4.5l0,3l0,4.5z"/>
<path fill="#00c893" d="M847.5,909.5l12,2.5l16.5,1.5l19.5,1l21,0.5l21,-0.5l22.5,-1l19.5,-1.5l18,-2.5l15,-2.5l12,-3.5l15,-5l20.5,-8l10,-4.5l7,-4.5l3,-3l1,-1.5l0.5,-1.5l0,-1.5l-0.5,-1.5l-0.5,-1.5l-2,-1.5l-4.5,-2.5l-6,-2l-7.5,-2l-9,-1l-22.5,-2l-30,-1l-30,1l-27,2l-13.5,1l-15,2.5l-19.5,3.5l-19.5,5l-15,5l-6,2.5l-6,3zM982.5,778.5l1,3l1.5,3l2.5,3l2.5,2l6,4l4.5,2l4.5,2l9,2l10.5,1l10.5,-0.5l9,-1.5l7.5,-2l4.5,-2.5l3,-2.5l5.5,-5.5l3.5,-3.5l4.5,-3l4.5,-1.5l4.5,-1l4.5,0l13.5,2l6,0l16.5,-1l4.5,-1l3,-1l3,-2.5l4,-4l3,-4.5l2,-4.5l1,-4.5l1,-6l0,-6l-1,-4.5l-2,-6l-3,-4.5l-2,-2.5l-1.5,-1l-3,-1.5l-3,-0.5l-3,0l-12,2l-10.5,0.5l-6,0.5l-6,-0.5l-6,-1.5l-4.5,-2l-4.5,-2.5l-9,-6l-3,-1l-3,0.5l-1.5,0.5l-3,2.5l-7.5,9.5l-4,4.5l-4,3l-4.5,3l-6.5,3l-9,3l-11,3l-12,2.5l-3,1l-3,2l-2,2l-2.5,3l-1.5,3l-2,4.5l-1.5,4.5l0,3l0,4.5z"/>
<path fill="#00c189" d="M847.5,908.5l10.5,2.5l15,1.5l18,1l21,1l22.5,-0.5l21,-1l21,-1.5l18,-2l14,-2.5l13,-3.5l15,-5l21,-8l9.5,-4.5l7,-4.5l3,-3l1,-1.5l0.5,-1.5l0,-1.5l-0.5,-1.5l-1,-1l-2,-2l-5.5,-2.5l-6,-2l-7,-1.5l-8,-1l-21,-2l-27,-0.5l-28.5,0.5l-15,0.5l-15,1.5l-25.5,3l-19.5,3.5l-19.5,4.5l-15,5l-6.5,3l-5.5,3l-3,2zM984.5,778.5l1,3l2,3l4,4.5l3,2l4.5,2l7.5,3.5l9,2l9,0.5l10.5,-0.5l9,-1.5l6,-2l4.5,-2l4.5,-3l6,-5.5l3.5,-3l4,-2.5l4.5,-1.5l4.5,-1l3,0l13.5,1l6,0l18,-2l4.5,-1l3,-1.5l3,-2.5l3,-3l2.5,-4l2,-4.5l1.5,-4.5l0.5,-4.5l0,-4.5l-0.5,-4.5l-1.5,-4.5l-3,-5l-3,-3l-3,-2l-4.5,-0.5l-18,1.5l-10.5,0l-7.5,-0.5l-6,-1.5l-4.5,-1.5l-13.5,-7.5l-3,-0.5l-1.5,0l-2.5,1l-2,1.5l-12,12.5l-4.5,4l-4.5,2.5l-6,3l-7.5,2.5l-10.5,3l-14.5,4l-3.5,1.5l-2,1.5l-2.5,2l-1.5,2.5l-2,3l-2,4.5l-1,4.5l0,3l0,3z"/>
<path fill="#01bd82" d="M847.5,907l4,1.5l6.5,1.5l12,1.5l18,1.5l21,0.5l21,0l22.5,-0.5l21,-2l18,-2l15,-2.5l13.5,-3.5l16.5,-5.5l18.5,-7l9.5,-4.5l7,-4.5l3,-3l0.5,-1.5l0.5,-1.5l0,-1.5l-1,-1.5l-1,-1.5l-2.5,-1.5l-4.5,-2l-6,-2l-7.5,-1.5l-7.5,-1l-22.5,-2l-27,-0.5l-27,0.5l-25.5,2l-25.5,3l-19.5,3.5l-18,4l-9,3l-7.5,2.5l-5.5,2.5l-6,3l-5,3.5zM986,777l1,3l1.5,3l4,4.5l3.5,2.5l3,1.5l7.5,3.5l9,2l9,1l9,-0.5l9,-1.5l7.5,-2.5l4.5,-2l3,-2l10.5,-9l3,-1.5l4.5,-2l4.5,-1l4.5,-0.5l12,0.5l6,0l19.5,-2.5l3,-1l3,-1l3,-2l3,-3l2,-3l2.5,-4.5l1.5,-4.5l0.5,-4.5l0,-4.5l-1,-4.5l-1.5,-4.5l-2.5,-4l-3,-2.5l-3,-1.5l-4.5,-0.5l-10.5,1l-7.5,0l-10.5,-0.5l-6,-0.5l-4.5,-0.5l-4.5,-1.5l-4.5,-2l-7.5,-3.5l-3,-1.5l-3,0l-1.5,0l-1.5,0.5l-3,2l-12,12l-4.5,3l-4.5,3l-4.5,2l-7,2.5l-25.5,7.5l-3.5,1.5l-2.5,1.5l-2,1.5l-2,3l-1.5,3l-1.5,3l-1,6l0,3z"/>
<path fill="#01b97b" d="M847.5,905.5l3.5,1.5l4,1l10.5,2l16.5,2l19.5,1l21,0l22.5,-0.5l21,-1l19.5,-2l15,-2.5l13.5,-3.5l15,-4.5l16.5,-6l13.5,-5.5l7.5,-4.5l4,-3l1,-1.5l0.5,-1.5l0.5,-1.5l-0.5,-1.5l-0.5,-1.5l-1.5,-1.5l-3.5,-2l-6,-2l-6,-1.5l-7.5,-1.5l-19.5,-1.5l-25.5,-1.5l-27,0.5l-25.5,1.5l-25.5,2.5l-21,3.5l-18,4l-15,4.5l-6,2.5l-6.5,3l-5,3l-5,4zM988,777l2,4.5l2,3l2.5,2l6,4l7.5,3.5l7.5,1.5l9,1l7.5,0l9,-1.5l6,-2l6,-2l4.5,-3l10.5,-8l4.5,-2.5l3,-1l3,-1l4.5,-0.5l13.5,0l6,-0.5l19.5,-3.5l3,-1l3,-1.5l3,-2l3,-3l2,-3l1,-3l1.5,-4.5l0,-3l0,-4.5l-0.5,-3l-1.5,-4.5l-2.5,-4l-3,-2l-3,-1.5l-4.5,-0.5l-15,0.5l-18,-1l-4.5,-1l-4.5,-1.5l-13.5,-5l-3,-0.5l-3,0.5l-1.5,0.5l-3,1.5l-10,9.5l-3.5,3l-7.5,4.5l-9,3.5l-25.5,8l-4.5,1.5l-2.5,2l-3.5,3l-1.5,3l-1.5,3l-1,3l0,3l0,3z"/>
<path fill="#02b574" d="M847.5,902.5l1.5,1.5l3,2l3,1l6,1.5l8,1.5l7,1l18,1l22.5,0.5l22.5,0l22.5,-1.5l19.5,-2l16.5,-2.5l13.5,-3l12,-3.5l18,-6l12,-5l9,-4.5l4,-3l1.5,-1.5l2,-3l0,-1.5l-0.5,-1.5l-1,-1.5l-1.5,-1.5l-3,-1.5l-4.5,-1.5l-6,-1.5l-7.5,-1.5l-19.5,-2l-24,-1l-24,0l-24,1l-24,2.5l-21,3l-16.5,3.5l-16.5,4.5l-13,5l-8.5,4.5l-3.5,3l-2.5,3l-1,1zM989.5,775.5l1.5,4.5l3.5,4.5l3,2.5l3,2l6,2.5l7.5,2.5l9,1l7.5,0l9,-1l7.5,-2l6,-3l4.5,-2.5l10.5,-7.5l3,-2l4.5,-1.5l7.5,-1.5l12,-0.5l6,-0.5l19.5,-4l3,-1l3,-1l3,-2l2,-1.5l2,-3l1.5,-3l1,-3l1,-3l0,-4.5l-0.5,-3l-1.5,-4.5l-2,-3l-2,-2l-3,-1.5l-4.5,-0.5l-13.5,-0.5l-19.5,-1.5l-9,-2l-12,-4l-3,-0.5l-3,0l-3,1l-3,2l-11,9.5l-4.5,3l-4,2l-9,4l-25.5,8l-4.5,2l-3,2l-3,3l-2.5,4.5l-1,3l-0.5,3z"/>
<path fill="#02b16d" d="M848.5,898l1,3l1,1.5l1.5,1.5l3,1.5l4,1.5l6,1.5l15.5,2l19.5,1.5l24,0l25.5,-0.5l22.5,-2l16.5,-2l15,-3l15,-4l15,-5l15,-5.5l5.5,-2.5l5,-3l4.5,-3l1.5,-1.5l1,-1.5l0.5,-1.5l0,-1.5l-0.5,-1.5l-1,-1l-2.5,-2l-3,-1.5l-3.5,-1l-6,-1.5l-6,-1.5l-15,-1.5l-21,-1.5l-22.5,0l-22.5,0.5l-22.5,2l-19.5,2l-18,3l-16.5,4l-14,4.5l-10.5,4.5l-7.5,4.5l-1.5,1.5l-2.5,3l-1.5,3zM991.5,775.5l2,4.5l3.5,4.5l5,3.5l6,3l7.5,2l7.5,1l7.5,0l7.5,-1l7.5,-2l6,-2.5l4.5,-2.5l12,-8l3,-1.5l4.5,-2l7.5,-1.5l10.5,-0.5l6,-1l19.5,-4.5l6,-2l3,-1.5l1.5,-1.5l1.5,-2l2,-2.5l1,-3l1,-3l0,-3l0,-3l-1,-3l-1.5,-3l-3,-3l-3,-1l-4.5,-1l-12,-0.5l-19.5,-2.5l-7.5,-1.5l-13.5,-3.5l-3,-0.5l-3,0.5l-4.5,2l-13.5,10.5l-7.5,4l-7.5,3.5l-24,7.5l-4,2l-3.5,1.5l-3,3l-1.5,1.5l-2,3l-1,4.5l-0.5,3z"/>
<path fill="#03ae66" d="M851,898l1,3l1.5,1.5l2,1.5l3,1.5l4.5,1.5l6.5,1.5l14,1.5l19.5,1.5l24,0l24,-1l21,-1.5l16.5,-2l15,-3l15,-4l16.5,-6l13,-5l8.5,-4.5l4.5,-3l1,-1.5l1,-1.5l0.5,-1.5l0,-1.5l-0.5,-1.5l-1,-1l-3,-2l-3.5,-1.5l-4,-1l-12,-2.5l-16.5,-2l-21,-1l-21,0l-22.5,1l-21,1.5l-21,3l-16.5,3l-15,3.5l-12,4l-9,4l-7,4.5l-2,1.5l-2.5,3l-1,3zM993.5,775.5l2,4.5l3.5,4l5,3.5l5.5,2.5l6,1.5l7.5,1l7.5,0l7.5,-1l7.5,-2l6,-2.5l4.5,-2.5l10.5,-7l3,-1.5l4.5,-1.5l6,-1.5l13.5,-1.5l6,-1.5l19.5,-5l4.5,-2l2.5,-1l2,-2l1.5,-1.5l1.5,-2.5l1.5,-4.5l0.5,-3l-0.5,-3l-1.5,-3l-1.5,-2.5l-1.5,-1l-3,-1.5l-3,-0.5l-10.5,-1l-22.5,-3.5l-18,-4l-3,0l-3,0l-3,1l-3,1.5l-12,8.5l-7.5,4.5l-7.5,3l-21.5,7.5l-5.5,2l-4.5,2.5l-3.5,3l-1,1.5l-2,3l-1,4.5z"/>
<path fill="#04aa5f" d="M853.5,898l1.5,3l1.5,1.5l2,1.5l3.5,1.5l5,1.5l4.5,1l13.5,1.5l18,1.5l21,0l22.5,-0.5l21,-1.5l16,-2l14,-2.5l15,-4l15,-4.5l15,-5.5l9.5,-4.5l4.5,-3l1.5,-1.5l2.5,-3l0.5,-1.5l-0.5,-1.5l-1,-1.5l-1.5,-1.5l-2.5,-1.5l-4,-1.5l-10.5,-2.5l-15,-2l-19.5,-1l-22.5,-0.5l-22.5,1l-21,1.5l-19.5,2.5l-16.5,2.5l-15,3.5l-13.5,4.5l-10,4l-7,4.5l-2,1.5l-2,3l-1.5,3zM995.5,775.5l2.5,4.5l2.5,3l4.5,3l6,3l6,1.5l7.5,1l6,-0.5l7.5,-1l6,-1.5l7,-2.5l5,-3l10.5,-6.5l7.5,-3l6,-1.5l12,-2l6,-1l9,-2.5l13.5,-5l4.5,-2.5l3,-3.5l1.5,-2.5l0.5,-1.5l0,-4.5l-1.5,-3l-1,-1.5l-2.5,-1.5l-3,-1l-21,-4l-15,-2.5l-13.5,-3l-4.5,0l-3,0.5l-3,1l-3,1.5l-12,8l-7.5,4l-6.5,3l-20.5,6.5l-5.5,2.5l-5,2.5l-3.5,3.5l-2,3l-1,4.5z"/>
<path fill="#0aa75b" d="M855.5,896.5l1,3l1,1.5l2,1.5l2.5,1.5l3.5,1.5l5.5,1.5l12.5,2l16.5,1l21,0.5l22.5,-0.5l21,-1.5l16.5,-2l15,-2.5l15,-3.5l15,-5l14,-5l9.5,-4.5l4.5,-3l1.5,-1.5l2.5,-3l0,-1.5l-0.5,-1.5l-1,-1.5l-2,-1.5l-2.5,-1.5l-3.5,-1l-10.5,-2.5l-13.5,-2l-18,-1l-21,-0.5l-21,0.5l-21,1.5l-19.5,2.5l-16.5,2.5l-15,3.5l-13.5,4l-11,4.5l-4,2l-3,2.5l-2,1.5l-2,3l-1,3zM997.5,774l1,3l1,1.5l2,3l3.5,3l6,3l6,1.5l6,1l6,0l7.5,-1l7,-1.5l6.5,-3l6,-3l9,-5.5l7.5,-3l6,-2l18,-3l9,-3l11,-4.5l5.5,-3l3,-3l1,-3l0,-3l-0.5,-1.5l-0.5,-1.5l-3,-2l-3,-1.5l-10,-2.5l-11,-2.5l-22.5,-4l-4.5,-0.5l-4.5,0l-3,1l-3,1l-13.5,9l-6.5,3.5l-7,2.5l-18,6l-6,2.5l-4.5,2.5l-3.5,3l-2.5,3l-1,3l-0.5,1.5z"/>
<path fill="#15a65a" d="M858,896.5l1,3l1.5,1.5l2,1.5l2.5,1.5l4.5,1.5l5,1l12,2l18,1.5l19.5,0l21,-0.5l19.5,-1.5l16.5,-2l15,-2.5l13.5,-3.5l15,-4.5l13,-5l9.5,-4.5l4.5,-3l1.5,-1.5l1.5,-1.5l0.5,-1.5l0.5,-1.5l-0.5,-1.5l-2,-2l-3,-1.5l-4.5,-2l-10.5,-2l-15,-2l-19.5,-1l-19.5,-0.5l-21,1l-19.5,1.5l-16.5,2l-16.5,2.5l-15,3.5l-12,3.5l-10.5,4.5l-4.5,2.5l-2.5,2l-2,1.5l-2,3l-1,3zM1000,774l0.5,2l1,2.5l2.5,3l4.5,3l4,2l4.5,1l6,1l6,0l6,-0.5l7.5,-2l6,-2.5l6,-2.5l10.5,-6l7.5,-3.5l6,-1.5l15,-3l6,-2l4.5,-1.5l9,-4.5l4.5,-3l2.5,-3l1,-1.5l0,-1.5l-0.5,-1.5l-1.5,-1.5l-2,-1.5l-6.5,-3l-8.5,-3l-8.5,-2l-16.5,-3l-6,0l-4.5,0.5l-3,0.5l-3,1.5l-12,7.5l-7.5,3.5l-6,2.5l-16.5,5.5l-6,2l-4,2.5l-4.5,3l-2.5,3l-1.5,3l0,1.5z"/>
<path fill="#21a559" d="M860,896.5l1.5,3l1.5,1.5l2.5,1.5l3,1.5l4.5,1.5l4.5,1l12,1.5l16.5,1.5l19.5,0l19.5,-0.5l19.5,-1.5l15,-2l15,-2.5l15,-4l15,-4.5l14.5,-5.5l8,-4.5l4,-3l1,-1.5l0.5,-1.5l0,-1.5l-0.5,-1.5l-2,-1.5l-2,-1.5l-5.5,-2l-11.5,-2.5l-14,-1.5l-18,-1l-19.5,-0.5l-19.5,1l-19.5,1.5l-18,2l-15,2.5l-14,3.5l-13,4l-8.5,3.5l-3.5,2l-3.5,2.5l-2,1.5l-2,3l-1,3zM1002.5,774l1,3l2,3l3.5,3l5,2l4.5,1.5l6,1l6,-0.5l6,-1l6,-1.5l6,-2.5l15,-7.5l6,-3l7.5,-2.5l16.5,-3.5l9,-3.5l5.5,-3l3.5,-3l2.5,-3l0.5,-1.5l-0.5,-1.5l-0.5,-1.5l-1.5,-1.5l-2,-1.5l-5.5,-3l-6.5,-2.5l-9,-2l-10.5,-1.5l-6,-0.5l-4.5,0.5l-3,1l-4.5,1.5l-12,7.5l-6,3l-7.5,2.5l-15,4.5l-8,4l-5,3l-2.5,3l-2,3l0,1.5z"/>
<path fill="#2ca458" d="M862.5,895l0.5,3l1,1.5l2,1.5l2,1.5l4,1.5l5,1.5l11,2l15,1l19.5,0.5l19.5,-0.5l19.5,-1.5l16.5,-2l15,-2.5l15,-3.5l15,-4.5l13.5,-5.5l8.5,-4.5l3.5,-3l1,-1.5l0.5,-1.5l0,-1.5l-1,-1.5l-1.5,-1.5l-3,-1.5l-4,-1.5l-11.5,-2.5l-13.5,-1.5l-16.5,-1l-18,-0.5l-18,0.5l-19.5,1.5l-15,2l-16.5,2.5l-15,3l-11.5,3.5l-9.5,3.5l-7,4l-2.5,1.5l-2.5,3l-1,1.5zM1005,774l1,3l2.5,3l4,3l3.5,1.5l5.5,1l4.5,0.5l4.5,0l6,-1.5l6,-1.5l4.5,-2l16.5,-8.5l6,-2.5l6,-2l14,-3l8,-3l5.5,-3l3.5,-3l2,-3l0.5,-1.5l-0.5,-1.5l-0.5,-1.5l-1.5,-1.5l-2,-1.5l-5,-2.5l-6,-2l-7,-1.5l-8,-1l-6,-0.5l-4.5,0.5l-3,1l-3.5,1.5l-11.5,6.5l-6,3l-7.5,2.5l-15,4.5l-4.5,2l-4.5,2.5l-4,3l-2.5,3l-1,3z"/>
<path fill="#3ea559" d="M864.5,895l0,1.5l1,1.5l1,1.5l2,1.5l2.5,1.5l4,1.5l4,1l10.5,2l15,1l16.5,0.5l19.5,-0.5l18,-1l16.5,-2l13.5,-2l13.5,-3l15,-4.5l14,-5l9.5,-4.5l4,-3l1.5,-1.5l1,-1.5l0.5,-1.5l-0.5,-1.5l-1,-1.5l-2,-1.5l-4.5,-2l-9.5,-2.5l-13,-2l-16.5,-1l-18,-0.5l-18,0.5l-18,1.5l-18,2l-15,2l-13.5,3l-12.5,3.5l-10,4l-7,3.5l-2,1.5l-2.5,3l-1.5,3zM1007.5,774l1,3l2.5,2.5l2.5,2l3.5,1.5l4.5,1l4.5,0.5l4.5,-0.5l6,-1l4.5,-1l5,-2l16,-8.5l6,-2.5l6,-2l14,-3.5l8,-3l2.5,-1.5l3.5,-3l2,-3l0,-1.5l-0.5,-1.5l-0.5,-1.5l-1.5,-1.5l-2,-1.5l-3,-1.5l-4.5,-1.5l-7,-1.5l-6.5,-1l-6,0l-4.5,1l-6,2l-12,6.5l-6,3l-6,2l-15,4.5l-7,3l-4.5,3l-2.5,3l-1.5,3z"/>
<path fill="#53a75b" d="M866.5,895l0.5,1.5l1,1.5l1,1.5l2.5,1.5l3,1.5l7.5,2l10.5,2l15,1l16.5,0.5l18,-0.5l16.5,-1l15,-2l15,-2.5l15,-3.5l13,-3.5l12.5,-4.5l9,-4.5l4,-3l1.5,-1.5l1,-1.5l0,-1.5l0,-1.5l-1.5,-1.5l-2,-1.5l-3.5,-1.5l-5,-1.5l-5,-1l-13.5,-2l-16.5,-1l-16.5,-0.5l-18,0.5l-18,1.5l-16.5,2l-15,2l-13.5,3l-12,3.5l-10,4l-3.5,1.5l-4,3l-3,3l-1,3zM1010.5,774l1.5,3l1,1.5l2.5,1.5l4.5,2l3,0.5l4.5,0.5l4.5,-0.5l4.5,-1l8.5,-3l14,-7.5l6,-2.5l7.5,-3l14,-3.5l4,-2l3,-1.5l4,-2.5l1,-1.5l0.5,-1.5l0.5,-1.5l-0.5,-1.5l-1,-1.5l-2,-1.5l-2.5,-1.5l-4.5,-1.5l-6,-1.5l-6,-0.5l-4.5,0.5l-4.5,0.5l-5.5,2.5l-11,5.5l-6,3l-4.5,1.5l-16.5,4.5l-6,2.5l-3.5,2.5l-3,3l-1.5,3z"/>
<path fill="#67aa5e" d="M868.5,895l0.5,1.5l1,1.5l1.5,1.5l4.5,2.5l7.5,2l10.5,2l13.5,1l16.5,0.5l18,-0.5l16.5,-1l15,-2l15,-2.5l13.5,-3l13.5,-4l11.5,-4l9,-4.5l4,-3l1.5,-1.5l0.5,-1.5l0,-1.5l-0.5,-1.5l-1,-1.5l-2.5,-1.5l-4,-1.5l-9.5,-2.5l-12,-1.5l-15,-1l-18,-0.5l-16.5,0.5l-18,1.5l-16.5,2l-15,2l-13.5,3l-12,3.5l-8,3.5l-4,2l-3.5,2.5l-3,3l-1,3zM1013.5,774l0.5,1.5l1.5,1.5l1.5,1l4.5,2l6,1l4.5,-0.5l4,-0.5l8,-3l12,-7l7.5,-3.5l7.5,-2.5l12.5,-3.5l3.5,-1.5l3,-1.5l2,-1.5l1.5,-2l0.5,-1l0,-1.5l-0.5,-1.5l-1.5,-1.5l-2.5,-1.5l-5,-1.5l-7.5,-1l-4.5,0.5l-3,0.5l-6,2l-12,6l-4.5,2l-6,2l-12,3l-7.5,3l-3,1.5l-3.5,3l-1.5,3l0,1.5z"/>
<path fill="#7cac60" d="M870.5,893.5l0,1.5l1,1.5l1,1.5l2,1.5l2.5,1.5l3.5,1.5l4.5,1l9,2l13.5,1l15,0.5l16.5,-0.5l16.5,-1l15,-1.5l15,-2.5l15,-3.5l13.5,-3.5l10.5,-4l9.5,-4.5l3.5,-3l1.5,-1.5l0.5,-1.5l0,-1.5l-0.5,-1.5l-1.5,-1.5l-3,-1.5l-4,-1.5l-7.5,-2l-12,-1.5l-15,-1l-16.5,-0.5l-16.5,0.5l-16.5,1l-15,2l-15,2l-12,2.5l-12,3.5l-9,3l-7,4l-4,3l-1.5,3zM1017.5,774l1,1.5l1.5,1.5l4.5,1.5l3,0l3,0l6,-1l4.5,-2l3.5,-1.5l8.5,-5.5l6,-3l6,-2.5l13.5,-4l3.5,-1.5l3,-1.5l1.5,-1.5l0.5,-1.5l0,-1.5l-1.5,-1.5l-3.5,-1.5l-2,-0.5l-6,0l-4.5,1l-3,1l-10.5,5l-6,2.5l-6,2l-13.5,3l-7,2.5l-3.5,2l-2,2.5l-1,2z"/>
<path fill="#92ac62" d="M872.5,893.5l0.5,2l1.5,2l2.5,2l2,1l7.5,2.5l9,1.5l13.5,1.5l15,0.5l16.5,-0.5l16.5,-1l15,-2l15,-2.5l13.5,-3l13.5,-4l10.5,-4l7,-3.5l4,-3l1,-1.5l0.5,-1.5l0,-1.5l-0.5,-1.5l-2,-1.5l-3,-1.5l-4,-1.5l-7.5,-1.5l-12,-1.5l-15,-1l-15,-0.5l-16.5,0.5l-16.5,1.5l-15,1.5l-13.5,2l-13.5,3l-10.5,3l-9,3.5l-5.5,3l-3.5,3l-1.5,3zM1022,772.5l1,1.5l3,1.5l3,0.5l4.5,-0.5l4,-1.5l5,-3l3.5,-3l1,-1.5l0,-1.5l-3,-1l-3,0l-6,0.5l-4.5,1l-3,1l-3,1.5l-1.5,1.5l-1,1.5z"/>
<path fill="#a9ac65" d="M874.5,893.5l0.5,1.5l1,1.5l1.5,1.5l3,2l7,2.5l9.5,1.5l12,1.5l13.5,0.5l15,-0.5l16.5,-1l15,-1.5l13.5,-2l12,-2.5l13.5,-4l10.5,-3.5l8.5,-3.5l4.5,-3l2,-1.5l1,-1.5l0.5,-1.5l-0.5,-1.5l-1,-1.5l-2,-1.5l-3,-1.5l-8.5,-2l-10.5,-2l-13.5,-1l-15,-0.5l-16.5,0.5l-16.5,1l-15,1.5l-15,2.5l-13.5,2.5l-10.5,3l-8.5,3.5l-5.5,3l-3.5,3l-1,1.5l-0.5,1.5z"/>
<path fill="#bfac67" d="M876.5,893.5l0.5,1.5l1,1.5l2,1.5l2,1.5l4,1.5l3.5,1l9,1.5l12,1.5l13.5,0.5l15,-0.5l15,-1l15,-1.5l13.5,-2l13.5,-3l12,-3.5l10.5,-3.5l6.5,-3l4.5,-3l1.5,-1.5l1,-1.5l0.5,-1.5l-0.5,-1.5l-1,-1.5l-2.5,-1.5l-3.5,-1.5l-6.5,-1.5l-10.5,-2l-13.5,-1l-15,-0.5l-15,0.5l-16.5,1l-15,1.5l-13.5,2l-13.5,3l-10.5,3l-8,3l-5.5,3l-2,1.5l-2.5,3l-1,1.5z"/>
<path fill="#d1ab68" d="M878.5,893.5l0.5,1.5l1.5,1.5l1.5,1.5l3,1.5l7.5,2.5l9,1.5l10.5,1l13.5,0.5l13.5,-0.5l15,-1l13.5,-1.5l13.5,-2l13.5,-3l12,-3l10,-3.5l6.5,-3l2.5,-1.5l3.5,-3l1,-1.5l0,-1.5l-0.5,-1.5l-1,-1.5l-2.5,-1.5l-3,-1l-7,-2l-11,-1.5l-13.5,-1l-13.5,-0.5l-15,0.5l-15,1l-15,1.5l-13.5,2l-11.5,2.5l-10.5,3l-8,3l-5.5,3l-2,1.5l-3,3l-0.5,1.5z"/>
<path fill="#e0aa68" d="M881,893.5l0.5,1.5l1,1.5l2.5,1.5l3,1.5l6,2l9,1.5l11,1l13,0.5l13.5,-0.5l15,-1l13.5,-1.5l13.5,-2.5l12,-2.5l11,-3l10,-3.5l8,-4l3.5,-3l0.5,-1.5l0.5,-1.5l-1,-1.5l-1.5,-1.5l-2.5,-1.5l-3,-1l-8,-2l-10,-1.5l-13.5,-0.5l-13.5,-0.5l-13.5,0.5l-15,1l-13.5,1.5l-13.5,2l-10.5,2.5l-10.5,3l-7,2.5l-6,3l-2,1.5l-2.5,3l-0.5,1.5z"/>
<path fill="#efa968" d="M882.5,892l0.5,1.5l0.5,1.5l1.5,1.5l2.5,1.5l3.5,1.5l3,1l7.5,1.5l10.5,1l12,0.5l13.5,0l15,-1l13.5,-1l13.5,-2.5l12,-2.5l12,-3l10.5,-4l7,-3.5l3.5,-3l1,-1.5l0,-1.5l-1,-1.5l-1.5,-1.5l-3,-1.5l-7.5,-2l-10.5,-1.5l-10.5,-1l-13.5,-0.5l-13.5,0l-15,1l-13.5,1.5l-13.5,2l-10.5,2l-10.5,3l-8,3l-6,3l-3.5,3l-1,1.5z"/>
<path fill="#f9a465" d="M884.5,892l0.5,1.5l1,1.5l1.5,1.5l2.5,1.5l5.5,2l7.5,1.5l10.5,1l12,0.5l13.5,0l13.5,-1l13.5,-1.5l12,-1.5l12,-2.5l12,-3.5l11.5,-4l5.5,-3l2,-1.5l1.5,-1.5l0.5,-1.5l0,-1.5l-1,-1.5l-2,-1.5l-3,-1.5l-7.5,-2l-10.5,-1.5l-12,-1l-12,0l-13.5,0.5l-13.5,0.5l-13.5,1.5l-11.5,2l-9.5,2l-10,2.5l-8.5,3l-5.5,3l-3.5,3l-1,1.5z"/>
<path fill="#fb9c5f" d="M886.5,892l0.5,1.5l1,1.5l3,2l6,2.5l7.5,1.5l10.5,1l10.5,0.5l12,0l13.5,-0.5l13.5,-1.5l12,-2l11,-2l11.5,-3l9,-3l6.5,-3l4.5,-3l1.5,-1.5l0.5,-1.5l-0.5,-1.5l-1,-1.5l-2.5,-1.5l-3.5,-1.5l-4,-1l-9,-1.5l-10.5,-1l-12,-0.5l-13.5,0l-13.5,1l-13.5,1.5l-12,1.5l-10.5,2l-9.5,2.5l-8.5,3l-5.5,3l-3.5,3l-1,1.5z"/>
<path fill="#fc9459" d="M888.5,892l0.5,1.5l1.5,1.5l3.5,2l6,2.5l7.5,1l9,1l10.5,0.5l12,0l12,-0.5l12,-1.5l12,-1.5l10.5,-2.5l11,-2.5l9.5,-3l6.5,-3l4.5,-3l1,-1.5l0.5,-1.5l0,-1.5l-1.5,-1.5l-2.5,-1.5l-6.5,-2l-9,-1.5l-10.5,-1l-12,-0.5l-12,0l-13.5,1l-11.5,1l-11,1.5l-10.5,2l-10.5,2.5l-8.5,3l-6,3l-3,3l-1,1.5z"/>
<path fill="#fe8c53" d="M891,892l0.5,1.5l1.5,1.5l2.5,1.5l6,2l7.5,1.5l9,1l10.5,0.5l12,0l12,-1l12,-1l12,-2l12,-2.5l9,-2.5l6,-2l7,-3l4,-3l1.5,-1.5l0.5,-1.5l-0.5,-1.5l-1.5,-1.5l-3,-1.5l-5,-1.5l-9,-1.5l-10.5,-1l-12,-0.5l-12,0l-13.5,1l-12,1l-12,2l-9.5,2l-10,2.5l-5,2l-6,3l-2,1.5l-1.5,1.5l-0.5,1.5z"/>
<path fill="#ff814c" d="M893,892l0.5,1.5l1.5,1.5l3,1.5l5,1.5l7.5,1.5l9,1l10.5,0.5l10.5,0l12,-1l12,-1l12,-2l10.5,-2.5l10,-2.5l8.5,-3l5.5,-3l1.5,-1.5l1,-1.5l0.5,-1.5l-0.5,-1.5l-1.5,-1.5l-3.5,-1.5l-5,-1.5l-9.5,-1.5l-10,-1l-12,0l-12,0l-11.5,1l-12.5,1.5l-10,1.5l-9.5,2l-9,2.5l-6,2l-4.5,2.5l-2,1.5l-1.5,1.5l-0.5,1.5z"/>
<path fill="#ff7644" d="M895,892l1,1.5l1,1l4,2l5,1.5l8,1.5l8.5,0.5l10.5,0.5l10.5,-0.5l10.5,-0.5l12,-1.5l10,-1.5l9.5,-2l9.5,-2.5l8,-3l5.5,-3l2,-1.5l1,-1.5l0,-1.5l-0.5,-1.5l-2,-1.5l-3.5,-1.5l-6,-1.5l-8,-1l-10.5,-1l-10.5,0l-12,0.5l-10.5,0.5l-10.5,1l-10.5,2l-9,1.5l-8.5,2.5l-5,2l-5.5,2.5l-2,1.5l-1.5,1.5l-0.5,1.5z"/>
<path fill="#ff6a3d" d="M897,890.5l0.5,1.5l1,1.5l2,1.5l4,1.5l7.5,2l9,1l9,0.5l10.5,-0.5l10.5,-0.5l12,-1l10,-1.5l9.5,-2l10,-2.5l8.5,-3l5.5,-3l2,-1.5l0.5,-1.5l0.5,-1.5l-1.5,-1.5l-2,-1.5l-2.5,-1l-6,-1.5l-6,-1l-9,-1l-10.5,0l-10.5,0l-10.5,0.5l-10.5,1.5l-10.5,1.5l-9,1.5l-9,2.5l-4.5,1.5l-6.5,3l-2,1.5l-1.5,1.5z"/>
<path fill="#ff5f36" d="M899.5,890.5l0,1.5l1.5,1.5l2,1.5l4,1.5l7,1.5l8.5,1l9,0.5l10.5,-0.5l10.5,-0.5l10.5,-1l10.5,-2l10.5,-2l7.5,-2l7.5,-2.5l5.5,-3l1.5,-1.5l1,-1.5l0,-1.5l-1,-1.5l-4,-2l-6,-1.5l-7.5,-1l-9,-1l-9,0l-10.5,0l-10.5,1l-10.5,1l-9,1.5l-9,1.5l-7,2l-5,1.5l-6,3l-2,1.5l-1,1.5z"/>
<path fill="#ff542f" d="M901.5,890.5l0.5,1.5l1,1l3,2l4.5,1.5l4.5,1l6,0.5l9,0.5l9,0l10.5,-0.5l10.5,-1l9,-1l10.5,-2l8,-2l5.5,-1.5l6.5,-3l2.5,-1.5l2,-1.5l0.5,-1.5l0,-1.5l-1,-1l-3,-2l-5.5,-1.5l-5,-1l-7.5,-0.5l-9,-0.5l-10.5,0l-9.5,0.5l-11.5,1l-9,1.5l-10.5,2l-6,1.5l-6,2l-5.5,2.5l-2,1.5l-1,1.5z"/>
<path fill="#ff4827" d="M904,890.5l0.5,1.5l1.5,1.5l1.5,0.5l4.5,2l6,1l7.5,1l7.5,0l9,0l9,-0.5l18,-2l9,-2l7,-1.5l6.5,-2l6,-2.5l2.5,-1.5l1.5,-1.5l0.5,-1.5l0,-1.5l-1.5,-1.5l-6,-2l-6,-1.5l-7.5,-0.5l-9,-0.5l-9,0l-10.5,0.5l-10,1l-9.5,1.5l-14.5,3l-5,1.5l-6,3l-2,1.5l-1.5,1.5z"/>
<path fill="#ff3d20" d="M906,890.5l1,1.5l2,1.5l3.5,1.5l7,1.5l7.5,0.5l7.5,0.5l9,0l9,-0.5l16.5,-2l7.5,-1.5l9,-2.5l6.5,-2l3,-1.5l2.5,-1.5l1.5,-1.5l0.5,-1.5l-0.5,-1.5l-1.5,-1.5l-4,-1.5l-7.5,-1.5l-8,-0.5l-9,-0.5l-18,0.5l-18,2.5l-7.5,1.5l-7.5,2l-5.5,2l-3,1.5l-2,1.5l-1,1.5z"/>
<path fill="#ff3119" d="M908.5,890.5l1,1.5l2.5,1.5l4.5,1.5l6,1l6,0.5l7.5,0.5l16.5,-1l10.5,-1l7.5,-1l9,-2l5.5,-1.5l5,-2l5,-2.5l1.5,-1.5l0.5,-1.5l-0.5,-1.5l-2.5,-1.5l-4.5,-1.5l-7,-1l-6,-0.5l-9,-0.5l-16.5,0.5l-10.5,1.5l-7.5,1l-9,2l-5,1.5l-7,3l-2,1.5l-1,1.5z"/>
<path fill="#ff2c16" d="M911,890.5l1.5,1.5l3,1.5l5.5,1.5l4.5,0.5l13.5,0.5l15,-0.5l15.5,-2l13,-3l4.5,-1.5l3.5,-1.5l2.5,-1.5l1,-1.5l0.5,-1.5l-1,-1.5l-2.5,-1.5l-5.5,-1.5l-4.5,-0.5l-7.5,-0.5l-7.5,-0.5l-16.5,1l-16,2l-7,1.5l-5,1.5l-4.5,1.5l-2.5,1.5l-2.5,1.5l-1,1.5z"/>
<path fill="#ff2813" d="M914,889l0,1.5l1.5,1.5l3.5,1.5l6.5,1.5l12,0.5l15,-0.5l13.5,-1.5l8,-1.5l5.5,-1.5l5,-1.5l3.5,-1.5l2,-1.5l1.5,-1.5l0,-1.5l-1,-1.5l-3.5,-1.5l-7.5,-1.5l-13.5,-1l-15,1l-13.5,1.5l-8,1.5l-5.5,1.5l-4,1.5l-3.5,1.5l-2,1.5z"/>
<path fill="#ff2311" d="M916.5,889l0.5,1.5l2,1.5l4.5,1.5l3.5,0.5l12,1l13.5,-0.5l9,-1l7.5,-1.5l7.5,-1.5l4.5,-1.5l4,-1.5l2.5,-1.5l1.5,-1.5l0,-1.5l-2,-1.5l-4,-1.5l-8,-1l-12,-0.5l-12,0.5l-12,1.5l-6,1l-6,1.5l-4.5,1.5l-3,1.5l-2,1.5z"/>
<path fill="#ff1f0e" d="M919.5,889l0.5,1.5l2.5,1.5l6.5,1.5l10,0.5l12,0l12,-1.5l10.5,-2l5,-1.5l3.5,-1.5l2.5,-1.5l1.5,-1.5l-0.5,-1.5l-2,-1.5l-6,-1.5l-11.5,-1l-13.5,0.5l-12,1.5l-10.5,2l-4.5,1.5l-3.5,1.5l-2,1.5z"/>
<path fill="#ff1b0c" d="M922.5,889l1,1.5l4,1.5l4,0.5l9,1l10.5,-0.5l11,-1l10,-2l7,-2.5l2.5,-1.5l1,-1.5l-0.5,-1.5l-2.5,-1.5l-6,-1l-9,-0.5l-12,0l-11.5,1.5l-8,1.5l-4.5,1.5l-3.5,1.5l-2,1.5z"/>
<path fill="#ff1609" d="M926,889l2,1.5l6.5,1.5l9,0.5l10.5,-0.5l10.5,-1.5l7,-1.5l4,-1.5l2.5,-1.5l1,-1.5l-1,-1.5l-4.5,-1.5l-3,-0.5l-7.5,-0.5l-12,0.5l-10.5,1.5l-8.5,2l-3.5,1.5l-2,1.5z"/></g>
<path d="M847.6,702.0H1192.6V980.2" fill="none" stroke="#1a1a1a" stroke-width="1"/>
<path d="M847.6,701.5V980.2H1193.1" fill="none" stroke="#1a1a1a" stroke-width="1.6"/>
<path d="M847.6,980.2v5.3M847.6,980.2h-5.3M933.9,980.2v5.3M847.6,910.7h-5.3M1020.1,980.2v5.3M847.6,841.1h-5.3M1106.3,980.2v5.3M847.6,771.5h-5.3M1192.6,980.2v5.3M847.6,702.0h-5.3" stroke="#1a1a1a" stroke-width="1.6" fill="none"/>
<path d="M890.7,980.2v2.8M847.6,945.4h-2.8M977.0,980.2v2.8M847.6,875.9h-2.8M1063.2,980.2v2.8M847.6,806.3h-2.8M1149.5,980.2v2.8M847.6,736.8h-2.8" stroke="#1a1a1a" stroke-width="1.6" fill="none"/>
<text x="847.6" y="1001.5" font-size="16" text-anchor="middle" fill="#000">0</text>
<text x="933.9" y="1001.5" font-size="16" text-anchor="middle" fill="#000">4</text>
<text x="1020.1" y="1001.5" font-size="16" text-anchor="middle" fill="#000">8</text>
<text x="1106.3" y="1001.5" font-size="16" text-anchor="middle" fill="#000">12</text>
<text x="1192.6" y="1001.5" font-size="16" text-anchor="middle" fill="#000">16</text>
<text x="839.1" y="986.3" font-size="16" text-anchor="end" fill="#000">0</text>
<text x="839.1" y="916.8" font-size="16" text-anchor="end" fill="#000">1</text>
<text x="839.1" y="847.2" font-size="16" text-anchor="end" fill="#000">2</text>
<text x="839.1" y="777.6" font-size="16" text-anchor="end" fill="#000">3</text>
<text x="839.1" y="708.1" font-size="16" text-anchor="end" fill="#000">4</text>
<text x="1020.1" y="1026.8" font-size="17.3" text-anchor="middle" fill="#000">k (&#197;<tspan font-size="11.5" dy="-7.0">&#8722;1</tspan><tspan dy="7.0" font-size="1">&#8203;</tspan>)</text>
<text transform="translate(824.8,841.1) rotate(-90)" font-size="17.3" text-anchor="middle">R+&#916;R (&#197;)</text>
<text x="814.5" y="729.0" font-size="28" text-anchor="start" fill="#000" font-weight="bold">i</text>
<text x="854.4" y="721.8" font-size="15" text-anchor="start" fill="#fff" font-weight="bold">C-RuO<tspan font-size="9" dy="3.2">2</tspan><tspan dy="-3.2" font-size="1">&#8203;</tspan></text>
<text x="1004.0" y="767.5" font-size="16" text-anchor="start" fill="#000">Ru-O-Ru</text>
<text x="930.0" y="892.8" font-size="16" text-anchor="start" fill="#000">Ru-O</text></svg></body></html>
